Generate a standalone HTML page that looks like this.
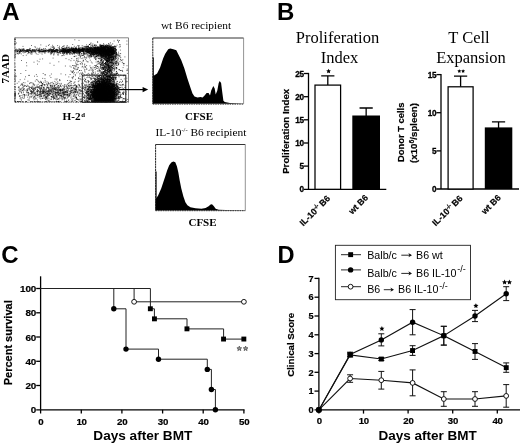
<!DOCTYPE html>
<html><head><meta charset="utf-8"><title>Figure</title>
<style>html,body{margin:0;padding:0;background:#fff}svg{display:block}text{fill:#000}</style></head>
<body><svg width="520" height="445" viewBox="0 0 520 445" style="opacity:0.999">
<defs><filter id="bl" x="-5%" y="-5%" width="110%" height="110%"><feGaussianBlur stdDeviation="0.3"/></filter></defs>
<rect width="520" height="445" fill="#fff"/>
<text x="2.2" y="20.2" font-family="'Liberation Sans', sans-serif" font-size="24" font-weight="bold" text-anchor="start" >A</text>
<text x="277" y="19.6" font-family="'Liberation Sans', sans-serif" font-size="24" font-weight="bold" text-anchor="start" >B</text>
<text x="1.3" y="262.5" font-family="'Liberation Sans', sans-serif" font-size="24" font-weight="bold" text-anchor="start" >C</text>
<text x="277.4" y="262.8" font-family="'Liberation Sans', sans-serif" font-size="23.6" font-weight="bold" text-anchor="start" >D</text>
<g filter="url(#bl)"><path d="M74.3 49.2h0M92.2 50.4h0M87.9 52.4h0M99.2 50.8h0M91.8 51.0h0M69.9 49.6h0M62.9 48.6h0M85.0 50.3h0M75.7 50.5h0M109.2 49.7h0M91.6 47.6h0M74.4 49.5h0M69.6 50.1h0M78.3 50.7h0M94.3 49.1h0M92.6 50.1h0M66.6 50.7h0M75.3 49.4h0M70.3 49.2h0M102.9 47.5h0M65.2 49.0h0M73.2 51.1h0M112.5 52.1h0M101.6 50.8h0M113.3 51.4h0M100.7 51.7h0M64.0 50.5h0M69.4 53.7h0M82.4 49.8h0M66.0 51.9h0M63.8 53.0h0M100.2 50.2h0M74.0 50.3h0M74.6 52.3h0M86.0 51.7h0M79.5 49.7h0M113.0 50.0h0M83.0 50.0h0M95.8 51.7h0M98.1 50.8h0M107.0 47.5h0M86.1 48.5h0M82.4 51.2h0M102.6 49.0h0M73.2 49.7h0M90.6 51.1h0M70.5 50.6h0M86.3 51.4h0M78.0 45.5h0M97.3 52.0h0M106.9 50.7h0M65.8 51.8h0M98.0 49.5h0M63.0 51.3h0M71.5 50.2h0M110.0 51.9h0M99.2 50.1h0M70.0 51.8h0M110.7 48.6h0M99.6 52.4h0M109.2 51.7h0M82.0 50.5h0M66.3 51.3h0M102.1 49.3h0M89.0 51.8h0M74.4 50.8h0M64.1 51.6h0M63.7 52.0h0M78.2 48.5h0M69.1 51.2h0M98.7 50.1h0M96.6 52.9h0M69.7 50.7h0M99.1 51.5h0M83.1 47.9h0M73.8 52.4h0M77.2 49.7h0M64.1 51.2h0M63.3 48.9h0M104.1 48.8h0M112.7 49.6h0M109.8 52.6h0M73.2 49.4h0M111.7 48.1h0M107.2 50.5h0M66.7 52.6h0M84.2 49.9h0M81.9 50.7h0M79.1 49.0h0M70.2 50.3h0M82.9 49.3h0M96.6 50.4h0M74.5 51.5h0M84.0 51.1h0M69.8 48.1h0M90.8 49.1h0M98.4 51.9h0M80.9 50.5h0M65.3 49.9h0M87.8 50.6h0M92.5 48.9h0M75.2 50.6h0M63.2 48.4h0M91.4 53.1h0M75.6 49.8h0M86.4 49.4h0M94.0 51.8h0M92.0 49.9h0M111.0 50.6h0M94.3 48.1h0M83.4 49.2h0M105.1 51.0h0M107.7 47.7h0M64.0 52.7h0M69.1 48.9h0M80.7 50.2h0M112.8 50.9h0M73.9 51.1h0M97.4 50.3h0M90.3 50.4h0M82.5 50.4h0M95.8 52.2h0M90.5 48.8h0M105.2 48.9h0M112.4 49.6h0M108.1 51.6h0M78.3 49.8h0M97.7 47.9h0M112.1 50.7h0M94.3 49.5h0M87.5 48.9h0M76.9 49.7h0M100.9 49.1h0M75.0 50.1h0M78.9 51.1h0M68.6 52.0h0M65.3 51.0h0M98.6 50.6h0M67.9 47.7h0M87.0 51.1h0M70.5 52.5h0M64.8 47.9h0M75.2 47.4h0M82.4 50.2h0M99.2 50.3h0M79.0 52.8h0M79.4 50.5h0M105.1 47.2h0M91.5 48.1h0M94.4 51.5h0M105.2 50.6h0M81.6 49.5h0M96.8 50.4h0M62.7 51.3h0M92.4 54.3h0M69.0 48.8h0M97.8 48.3h0M82.6 51.4h0M110.5 50.8h0M99.1 50.3h0M68.2 51.6h0M100.0 50.6h0M113.7 51.3h0M63.4 51.3h0M90.2 48.8h0M78.1 50.5h0M103.6 51.0h0M82.4 49.2h0M94.1 50.7h0M82.2 45.8h0M98.1 47.5h0M69.6 49.5h0M71.1 53.2h0M75.1 52.6h0M87.4 51.3h0M63.0 51.3h0M91.4 51.7h0M76.2 52.1h0M73.8 48.8h0M75.5 50.5h0M64.7 53.4h0M78.1 51.6h0M66.1 51.1h0M113.9 52.0h0M72.5 51.5h0M83.6 48.9h0M104.0 49.9h0M90.6 50.6h0M96.2 49.4h0M110.8 49.4h0M107.0 52.0h0M105.4 50.2h0M99.7 50.5h0M70.8 50.6h0M68.2 51.6h0M101.2 51.0h0M78.1 50.1h0M72.9 50.3h0M111.9 52.3h0M104.1 50.4h0M103.2 50.2h0M103.8 48.7h0M105.0 50.8h0M67.2 45.7h0M111.4 48.3h0M75.0 51.7h0M109.3 52.4h0M73.8 50.6h0M82.2 48.7h0M104.2 52.0h0M81.0 49.3h0M76.5 49.2h0M109.1 50.0h0M79.4 50.9h0M100.6 50.9h0M90.4 52.9h0M97.4 50.6h0M69.4 51.0h0M80.2 50.1h0M88.1 50.4h0M83.0 49.4h0M111.5 52.1h0M72.6 51.3h0M101.2 49.3h0M67.6 52.0h0M112.1 50.2h0M73.4 48.2h0M71.2 51.7h0M76.2 48.6h0M78.8 46.8h0M71.5 47.3h0M69.7 54.1h0M95.0 48.6h0M73.0 51.9h0M94.0 52.7h0M94.7 48.3h0M88.3 49.6h0M105.5 50.0h0M97.9 48.0h0M83.8 51.0h0M82.0 50.6h0M91.8 52.5h0M88.8 52.5h0M85.2 50.8h0M92.9 47.2h0M69.9 48.2h0M86.4 52.9h0M78.3 50.2h0M100.3 51.9h0M107.1 50.2h0M68.6 52.2h0M74.2 50.2h0M105.7 48.1h0M105.1 47.3h0M103.5 45.2h0M65.4 49.9h0M107.2 50.0h0M104.0 49.1h0M85.6 47.2h0M72.2 49.6h0M76.5 49.9h0M90.9 49.8h0M102.9 49.1h0M103.6 50.4h0M106.5 50.6h0M109.1 48.3h0M103.4 51.2h0M67.2 51.5h0M63.9 48.5h0M105.4 52.9h0M68.1 51.0h0M106.2 51.7h0M94.1 50.8h0M113.4 49.9h0M72.8 48.0h0M99.8 47.9h0M72.2 49.5h0M62.8 48.8h0M79.7 49.4h0M76.5 52.4h0M93.4 50.0h0M68.7 49.3h0M98.1 49.5h0M68.0 50.5h0M110.9 49.1h0M72.2 49.3h0M113.7 49.4h0M80.7 47.9h0M78.1 49.5h0M94.8 50.8h0M84.1 51.0h0M85.8 48.8h0M88.3 51.7h0M98.6 49.8h0M74.2 49.1h0M107.4 49.7h0M76.9 51.8h0M85.7 48.4h0M110.6 48.3h0M93.3 52.0h0M85.3 51.8h0M76.6 51.0h0M84.9 51.6h0M98.1 49.9h0M96.9 50.4h0M68.9 51.9h0M108.6 50.3h0M79.8 52.0h0M104.7 51.6h0M90.4 48.6h0M67.2 50.8h0M80.9 49.9h0M81.5 49.9h0M79.9 48.0h0M108.7 50.6h0M94.9 50.2h0M86.4 49.1h0M78.4 51.7h0M96.9 47.0h0M112.8 47.7h0M113.6 47.9h0M95.8 52.1h0M98.5 50.9h0M86.0 50.3h0M82.9 49.7h0M113.5 49.4h0M72.9 49.7h0M82.5 50.9h0M100.6 51.1h0M95.7 50.8h0M94.4 50.2h0M104.2 49.1h0M100.0 50.4h0M86.4 49.5h0M62.8 52.7h0M108.6 47.3h0M63.3 49.1h0M89.8 51.9h0M67.8 50.6h0M88.4 49.0h0M68.5 49.5h0M66.6 50.0h0M88.6 49.5h0M74.8 53.0h0M83.5 51.4h0M85.5 50.7h0M91.0 47.3h0M67.4 51.1h0M106.2 52.7h0M89.3 53.8h0M83.1 47.9h0M112.1 48.2h0M83.5 51.2h0M104.6 50.4h0M100.2 50.1h0M89.6 49.4h0M63.5 51.3h0M112.2 51.2h0M95.4 50.6h0M83.6 49.9h0M66.1 50.2h0M109.8 51.1h0M79.1 48.0h0M108.1 50.5h0M111.2 48.6h0M109.0 49.5h0M82.5 49.5h0M75.4 52.8h0M81.1 48.7h0M80.6 51.1h0M84.4 49.8h0M105.5 50.5h0M65.2 48.3h0M82.8 49.9h0M73.6 51.6h0M78.3 51.2h0M87.2 50.6h0M87.3 52.9h0M62.5 46.8h0M62.4 52.6h0M92.9 51.8h0M93.1 49.9h0M81.2 49.6h0M92.7 52.4h0M78.4 48.4h0M101.2 50.3h0M64.8 51.3h0M76.0 51.0h0M103.4 47.5h0M82.9 51.7h0M76.9 50.0h0M113.2 49.7h0M105.2 49.6h0M104.6 51.5h0M103.0 50.0h0M101.7 49.9h0M64.5 48.9h0M110.2 48.9h0M95.2 54.0h0M101.1 50.8h0M92.2 52.9h0M83.8 50.4h0M97.3 53.8h0M65.9 49.9h0M102.6 47.8h0M81.6 51.3h0M85.3 49.6h0M78.6 50.6h0M100.2 51.0h0M105.4 50.6h0M96.6 49.6h0M68.2 50.1h0M78.1 52.3h0M110.0 49.7h0M73.0 48.6h0M105.6 51.3h0M68.4 51.6h0M63.6 49.0h0M84.5 48.6h0M110.3 52.0h0M87.7 49.7h0M102.5 48.8h0M67.5 50.3h0M92.5 49.3h0M72.5 49.8h0M80.2 51.1h0M92.8 48.7h0M91.9 50.1h0M105.8 49.0h0M87.0 51.9h0M113.0 49.1h0M74.1 52.5h0M75.6 50.0h0M75.4 48.2h0M65.3 51.0h0M99.3 48.9h0M84.5 48.8h0M112.7 48.9h0M109.3 48.5h0M74.0 50.8h0M101.2 51.4h0M106.1 51.1h0M63.8 49.6h0M90.7 48.3h0M79.3 52.6h0M101.8 53.5h0M103.9 52.6h0M73.4 51.9h0M72.4 48.2h0M68.3 49.8h0M101.8 47.3h0M110.0 48.6h0M97.8 47.7h0M99.4 53.3h0M77.1 51.9h0M75.8 48.3h0M75.0 52.3h0M75.2 50.6h0M77.2 50.3h0M87.2 51.1h0M76.2 50.0h0M88.5 51.6h0M107.4 52.0h0M106.4 53.0h0M93.7 47.8h0M89.8 49.6h0M96.3 52.7h0M75.5 49.0h0M64.8 51.7h0M102.9 49.7h0M74.1 48.8h0M99.9 50.7h0M111.1 48.2h0M80.1 50.2h0M74.1 51.0h0M110.9 50.1h0M96.2 53.4h0M67.3 51.8h0M91.4 53.8h0M78.1 53.6h0M107.4 52.5h0M65.5 51.2h0M63.5 46.2h0M97.6 48.3h0M106.5 50.7h0M66.0 48.4h0M89.4 51.1h0M80.4 52.1h0M87.9 51.1h0M83.7 52.7h0M87.3 51.9h0M91.0 51.2h0M112.6 49.5h0M77.6 50.0h0M79.5 49.2h0M112.8 46.7h0M111.4 53.1h0M110.6 48.9h0M63.0 48.2h0M97.7 50.4h0M93.9 47.5h0M66.5 47.9h0M89.0 50.7h0M67.8 50.2h0M107.2 50.6h0M63.7 50.2h0M105.1 49.6h0M92.2 48.5h0M101.4 50.3h0M65.5 50.2h0M103.3 53.3h0M83.2 49.8h0M79.4 50.1h0M102.1 50.5h0M75.6 48.6h0M79.4 49.3h0M97.1 49.2h0M107.9 50.6h0M71.1 51.0h0M86.9 51.3h0M102.8 49.7h0M96.0 51.3h0M75.5 49.1h0M107.6 50.1h0M71.6 50.5h0M79.1 51.6h0M99.8 49.0h0M90.1 47.8h0M66.1 50.4h0M73.3 49.1h0M83.5 51.8h0M80.5 50.2h0M109.4 51.9h0M69.0 50.2h0M103.1 50.6h0M103.1 48.9h0M81.7 49.8h0M100.6 52.4h0M86.7 50.4h0M87.9 50.1h0M81.8 53.6h0M69.5 51.7h0M72.7 53.2h0M110.4 47.5h0M79.8 51.1h0M99.2 49.9h0M111.2 50.6h0M97.3 51.1h0M107.9 49.7h0M85.6 46.4h0M81.4 51.2h0M110.8 51.2h0M65.7 50.9h0M64.6 51.7h0M78.0 50.6h0M89.4 51.0h0M90.1 47.8h0M89.4 49.2h0M111.3 51.3h0M66.0 50.9h0M78.1 50.5h0M88.2 46.7h0M70.3 49.3h0M77.3 52.1h0M103.2 52.0h0M93.4 50.0h0M106.0 49.3h0M111.1 50.5h0M112.9 53.0h0M82.8 50.7h0M64.7 50.8h0M100.3 51.1h0M73.0 51.4h0M103.6 50.4h0M88.0 49.3h0M71.5 48.8h0M62.8 50.1h0M75.6 50.7h0M94.2 49.1h0M94.4 51.6h0M78.5 48.2h0M92.2 52.9h0M83.7 48.6h0M79.3 49.9h0M109.5 50.7h0M106.4 54.0h0M107.9 51.3h0M113.2 51.9h0M77.0 51.5h0M74.2 52.6h0M92.3 52.4h0M76.8 53.5h0M67.0 49.7h0M91.1 48.9h0M87.9 52.0h0M81.7 49.4h0M62.1 49.0h0M91.9 50.3h0M94.9 49.6h0M87.9 50.5h0M87.1 47.6h0M76.6 47.0h0M85.0 52.8h0M74.2 51.8h0M105.1 50.7h0M108.9 49.1h0M88.2 48.5h0M111.2 51.2h0M87.5 49.0h0M105.7 50.4h0M88.2 49.7h0M73.2 51.2h0M105.4 51.8h0M109.7 46.1h0M97.6 51.0h0M104.1 47.9h0M103.7 51.6h0M77.8 52.9h0M74.7 50.6h0M88.6 50.1h0M79.8 50.9h0M109.4 48.2h0M110.5 49.9h0M96.7 49.8h0M67.7 53.5h0M78.2 49.9h0M71.7 49.4h0M113.2 47.8h0M94.4 52.1h0M65.0 52.1h0M107.1 50.6h0M107.4 47.5h0M91.6 52.4h0M87.6 49.5h0M82.0 50.1h0M70.4 50.6h0M103.4 50.6h0M102.3 52.6h0M98.1 48.9h0M76.2 50.2h0M71.7 48.8h0M111.0 48.3h0M79.2 53.5h0M77.1 48.7h0M111.5 47.3h0M102.3 47.5h0M79.3 49.9h0M87.4 52.2h0M63.8 51.6h0M86.6 48.8h0M94.5 51.0h0M95.0 51.0h0M104.3 50.7h0M99.5 51.4h0M100.1 49.3h0M106.7 53.1h0M91.8 47.9h0M96.1 51.5h0M91.4 55.0h0M102.3 51.1h0M108.5 48.6h0M104.7 51.8h0M111.6 47.7h0M112.3 52.4h0M103.8 53.7h0M100.1 50.1h0M108.2 49.7h0M110.1 54.5h0M103.6 51.2h0M97.1 48.1h0M112.8 47.8h0M102.6 51.5h0M95.3 48.8h0M96.7 56.6h0M104.8 54.6h0M109.6 54.4h0M98.7 48.8h0M112.9 54.8h0M94.4 53.9h0M104.2 52.9h0M109.3 56.0h0M97.4 50.7h0M111.5 50.0h0M106.2 50.5h0M89.4 49.2h0M108.7 49.2h0M90.6 49.3h0M102.9 52.1h0M104.6 52.2h0M94.2 49.1h0M96.4 49.5h0M105.4 54.5h0M100.4 53.7h0M110.4 47.5h0M96.0 51.2h0M91.8 56.0h0M88.1 47.3h0M108.0 48.7h0M107.5 48.0h0M110.1 49.1h0M107.6 53.6h0M91.0 48.3h0M89.1 47.7h0M109.1 50.7h0M108.5 54.7h0M109.9 52.8h0M99.0 49.7h0M104.6 53.2h0M110.3 51.6h0M100.0 50.6h0M114.6 51.6h0M96.9 53.2h0M103.9 52.9h0M96.6 51.7h0M101.8 50.0h0M93.3 46.8h0M99.7 52.3h0M104.2 51.5h0M104.7 47.0h0M110.2 51.0h0M96.6 49.3h0M109.7 51.3h0M89.8 56.7h0M91.2 55.6h0M108.6 48.0h0M111.6 54.3h0M110.1 52.6h0M104.7 51.4h0M98.3 51.6h0M111.8 50.5h0M90.7 50.9h0M91.2 45.9h0M104.2 49.9h0M98.2 47.9h0M100.5 46.3h0M100.8 49.3h0M93.0 52.0h0M88.4 52.0h0M104.3 52.3h0M103.3 53.0h0M100.4 47.8h0M105.1 48.6h0M99.6 51.2h0M95.4 53.6h0M90.8 54.2h0M102.1 55.5h0M110.6 52.7h0M104.5 51.1h0M92.0 49.3h0M95.3 48.8h0M101.3 48.6h0M103.4 50.1h0M98.8 51.9h0M105.8 47.1h0M100.0 59.0h0M102.4 52.1h0M95.7 53.5h0M113.8 52.4h0M101.3 50.9h0M88.2 52.5h0M100.0 51.9h0M105.1 51.4h0M109.2 49.0h0M106.9 52.6h0M102.6 54.7h0M99.6 45.9h0M94.4 51.9h0M94.9 51.2h0M91.0 51.9h0M100.4 48.3h0M98.2 50.1h0M109.1 51.5h0M100.8 51.3h0M108.9 52.1h0M115.4 48.8h0M108.4 51.2h0M97.6 52.5h0M108.5 53.5h0M105.9 48.4h0M103.6 51.9h0M114.7 51.2h0M103.4 55.2h0M102.8 49.6h0M104.4 53.0h0M103.5 46.2h0M99.3 53.6h0M96.8 53.2h0M103.6 48.6h0M108.3 44.9h0M86.7 46.5h0M106.3 50.0h0M107.0 50.6h0M103.3 49.4h0M99.4 53.6h0M108.0 47.1h0M106.6 56.4h0M107.9 48.2h0M107.8 51.4h0M99.9 53.5h0M111.4 49.4h0M103.2 49.7h0M102.3 55.2h0M99.1 52.4h0M104.2 51.0h0M94.0 52.5h0M94.2 52.8h0M101.6 51.2h0M98.9 48.4h0M94.7 50.8h0M101.7 51.6h0M100.2 53.0h0M103.4 51.2h0M100.5 50.8h0M107.1 48.9h0M93.4 51.9h0M105.4 50.9h0M104.1 47.2h0M95.1 50.8h0M102.1 47.4h0M105.7 45.6h0M111.5 47.9h0M98.2 47.9h0M92.4 49.9h0M88.3 49.9h0M103.5 50.0h0M102.1 46.8h0M88.6 47.2h0M110.1 51.7h0M89.1 55.5h0M106.9 53.8h0M109.7 54.4h0M89.8 51.0h0M96.5 56.1h0M107.3 50.8h0M100.4 45.0h0M103.0 48.5h0M112.3 52.8h0M101.7 49.7h0M110.4 49.3h0M110.4 51.4h0M100.1 51.8h0M115.2 46.4h0M107.8 52.8h0M100.4 54.8h0M107.2 52.3h0M94.8 52.4h0M92.7 52.2h0M95.6 55.1h0M94.3 51.0h0M107.6 46.8h0M104.7 48.7h0M97.7 53.1h0M101.7 51.9h0M102.4 51.8h0M113.8 51.1h0M100.2 50.9h0M107.6 52.1h0M86.4 50.6h0M105.5 58.0h0M97.9 50.0h0M93.7 50.6h0M89.2 48.5h0M101.7 46.6h0M100.3 48.9h0M111.6 55.2h0M103.3 52.6h0M97.5 55.5h0M95.5 53.7h0M90.7 49.7h0M100.8 50.1h0M87.8 51.1h0M100.1 54.9h0M106.6 44.8h0M103.2 53.7h0M101.5 48.8h0M92.1 49.8h0M95.3 50.0h0M99.8 54.3h0M94.9 51.7h0M94.1 51.6h0M109.9 49.2h0M93.4 50.9h0M102.4 49.0h0M105.4 51.0h0M107.3 47.0h0M107.8 54.3h0M96.1 56.3h0M104.0 47.2h0M94.3 48.7h0M97.4 50.1h0M104.4 50.2h0M99.9 48.1h0M87.0 48.8h0M93.1 53.2h0M84.2 54.0h0M81.0 50.2h0M102.3 47.7h0M95.0 53.2h0M94.2 50.5h0M102.6 52.6h0M92.8 54.4h0M101.1 53.6h0M91.7 53.8h0M101.5 52.9h0M97.5 53.2h0M102.5 45.5h0M97.3 52.1h0M100.8 49.5h0M99.4 53.3h0M109.2 53.4h0M90.1 53.0h0M91.0 57.2h0M105.1 53.9h0M102.2 51.2h0M96.9 56.3h0M99.8 53.8h0M96.2 50.4h0M99.3 50.5h0M98.4 52.6h0M107.1 46.3h0M98.9 47.1h0M110.2 47.3h0M105.7 51.2h0M101.8 45.3h0M114.9 50.4h0M107.3 53.7h0M94.7 48.0h0M115.1 56.2h0M96.1 50.6h0M109.3 50.4h0M112.1 52.5h0M101.7 52.7h0M98.7 54.3h0M97.3 54.4h0M89.1 55.5h0M91.1 50.6h0M116.0 53.8h0M107.3 51.8h0M103.6 52.1h0M100.8 50.0h0M93.0 55.7h0M102.1 56.1h0M107.8 52.1h0M94.0 50.1h0M102.6 50.5h0M100.0 44.4h0M99.2 50.1h0M98.6 49.9h0M90.5 48.4h0M113.3 48.2h0M98.3 48.5h0M101.0 49.3h0M94.5 54.6h0M98.7 52.1h0M102.2 50.8h0M80.8 49.8h0M100.6 51.2h0M104.0 47.7h0M95.2 53.0h0M100.3 50.9h0M107.3 51.1h0M103.4 47.8h0M102.3 46.1h0M115.6 48.7h0M114.9 49.4h0M101.3 54.5h0M103.9 51.3h0M100.3 50.1h0M96.8 48.7h0M88.9 50.4h0M96.4 54.8h0M93.4 49.8h0M101.4 46.5h0M114.1 52.8h0M104.6 56.3h0M106.1 50.0h0M104.5 49.5h0M106.0 47.2h0M106.2 50.0h0M99.2 49.8h0M101.5 46.0h0M106.9 50.3h0M115.9 50.8h0M109.5 50.8h0M101.4 47.4h0M98.9 49.2h0M84.2 50.0h0M97.0 51.7h0M110.2 50.0h0M111.3 54.3h0M108.2 49.9h0M103.2 55.5h0M114.1 54.1h0M89.4 44.5h0M115.8 52.9h0M112.6 52.5h0M100.2 52.2h0M102.1 55.1h0M108.8 48.2h0M96.7 53.7h0M109.1 51.7h0M105.0 47.4h0M96.0 52.3h0M88.7 52.3h0M106.8 52.7h0M108.9 56.2h0M104.7 48.6h0M89.6 44.5h0M103.2 53.4h0M89.9 51.4h0M97.1 50.2h0M104.1 51.0h0M93.5 53.0h0M101.5 45.6h0M108.3 55.3h0M99.5 55.4h0M90.6 50.2h0M112.3 54.6h0M106.4 53.9h0M99.4 52.9h0M109.7 53.6h0M105.3 53.2h0M105.8 52.6h0M90.8 52.6h0M95.4 49.8h0M102.9 51.6h0M92.6 49.4h0M104.3 49.7h0M102.7 51.5h0M104.1 49.3h0M103.9 52.5h0M92.9 53.1h0M94.9 51.9h0M107.1 52.7h0M93.6 48.3h0M93.6 52.5h0M103.5 45.8h0M108.0 54.2h0M98.5 50.6h0M104.3 48.0h0M99.2 52.4h0M99.8 50.8h0M103.3 55.7h0M104.4 51.8h0M98.9 54.4h0M102.9 50.8h0M112.4 54.6h0M95.5 50.0h0M112.1 49.5h0M114.3 50.4h0M95.1 45.4h0M91.5 56.4h0M97.0 49.6h0M98.1 48.8h0M103.6 51.2h0M97.7 49.4h0M112.5 53.6h0M109.9 54.4h0M101.0 53.3h0M114.8 48.5h0M112.7 43.9h0M88.0 46.7h0M94.9 48.1h0M98.7 53.1h0M96.9 49.8h0M92.6 46.3h0M101.0 48.7h0M109.1 51.2h0M88.7 52.9h0M93.3 49.7h0M94.5 48.5h0M97.8 47.5h0M96.8 50.0h0M107.8 52.8h0M115.7 46.3h0M99.4 54.2h0M93.8 50.3h0M107.8 55.1h0M106.6 51.7h0M101.1 52.6h0M103.1 51.8h0M97.4 50.4h0M95.7 47.7h0M95.9 48.4h0M97.2 49.2h0M90.8 51.7h0M104.6 55.1h0M84.5 46.8h0M95.0 48.3h0M102.7 48.4h0M96.4 52.8h0M100.8 46.3h0M109.4 57.1h0M110.7 50.3h0M112.4 50.6h0M99.6 51.5h0M112.0 51.1h0M100.0 46.9h0M103.6 47.8h0M101.5 46.9h0M95.7 48.1h0M97.2 47.6h0M111.5 53.0h0M99.7 47.9h0M110.4 50.1h0M106.5 53.6h0M99.2 52.0h0M105.6 49.6h0M100.9 49.0h0M76.7 49.7h0M114.6 53.6h0M102.8 53.3h0M97.6 48.7h0M95.7 52.1h0M108.0 45.4h0M107.5 53.3h0M108.1 47.2h0M103.7 51.7h0M92.2 47.6h0M97.1 49.4h0M87.6 49.0h0M112.4 51.9h0M95.8 50.9h0M104.9 52.4h0M94.7 51.8h0M97.2 49.4h0M95.8 48.5h0M105.8 45.8h0M103.7 58.4h0M95.5 50.0h0M101.7 55.1h0M91.5 52.3h0M101.4 56.3h0M100.6 56.3h0M95.0 51.8h0M93.9 49.1h0M92.8 49.6h0M113.8 49.3h0M114.2 51.6h0M102.2 51.6h0M96.5 52.4h0M102.9 45.3h0M102.4 52.4h0M102.6 51.6h0M102.2 49.4h0M110.0 54.7h0M99.9 53.0h0M94.1 54.2h0M96.0 50.9h0M109.2 49.4h0M102.5 53.6h0M98.0 51.7h0M110.3 51.5h0M96.4 49.7h0M100.3 50.8h0M106.8 46.4h0M101.6 51.3h0M113.3 46.7h0M95.6 53.2h0M101.8 53.8h0M101.8 49.0h0M101.7 54.2h0M107.5 51.3h0M103.2 53.7h0M106.7 51.4h0M107.5 51.0h0M93.9 53.2h0M111.0 54.6h0M101.7 47.4h0M105.2 49.1h0M88.3 51.2h0M96.5 50.9h0M98.6 53.0h0M108.4 52.1h0M110.8 49.3h0M89.4 52.8h0M109.7 49.7h0M103.0 47.5h0M98.9 51.6h0M92.8 45.4h0M99.5 48.4h0M95.0 50.3h0M92.0 53.7h0M110.6 50.8h0M97.8 50.6h0M101.4 48.6h0M97.4 51.9h0M95.5 49.0h0M98.8 48.0h0M104.0 47.2h0M108.9 52.7h0M101.9 53.1h0M110.1 49.7h0M101.7 49.1h0M99.4 49.7h0M102.7 52.1h0M104.5 53.3h0M100.4 55.2h0M103.0 50.3h0M100.0 50.8h0M99.2 51.2h0M115.0 50.9h0M96.6 45.7h0M101.3 48.0h0M96.5 51.1h0M104.6 52.0h0M110.5 48.1h0M97.3 48.3h0M94.7 48.9h0M95.9 52.6h0M94.3 56.7h0M87.0 53.0h0M90.6 49.4h0M93.2 50.7h0M105.5 49.6h0M97.2 48.0h0M95.9 48.4h0M97.0 50.9h0M108.4 48.8h0M87.2 49.7h0M107.9 47.9h0M104.6 47.5h0M92.7 51.3h0M88.4 49.6h0M82.2 47.8h0M104.6 49.3h0M96.7 52.1h0M95.1 47.5h0M98.8 50.4h0M102.8 50.1h0M110.4 52.1h0M100.8 56.9h0M90.5 51.3h0M96.1 56.4h0M103.9 52.8h0M104.6 54.6h0M97.8 53.1h0M89.3 52.1h0M110.0 53.0h0M106.1 45.5h0M102.4 49.7h0M112.8 52.1h0M106.5 54.1h0M105.6 46.9h0M95.9 44.9h0M110.5 50.1h0M92.4 51.9h0M98.6 49.8h0M111.2 45.0h0M91.1 50.3h0M99.9 53.7h0M99.1 52.0h0M114.2 46.9h0M91.4 48.7h0M100.2 47.6h0M103.6 48.5h0M109.9 52.0h0M106.6 51.2h0M103.2 46.2h0M100.1 45.8h0M111.3 47.5h0M95.1 49.3h0M93.6 55.1h0M102.7 57.6h0M100.1 49.1h0M101.5 49.1h0M96.5 52.5h0M98.4 53.0h0M106.0 53.1h0M113.1 53.5h0M94.8 54.2h0M83.7 54.0h0M110.5 47.7h0M111.0 45.5h0M109.0 49.5h0M99.6 50.1h0M97.6 52.6h0M101.3 50.5h0M102.1 49.6h0M94.4 52.2h0M107.8 47.4h0M108.7 54.0h0M103.0 54.6h0M86.0 54.3h0M96.3 51.4h0M95.0 57.2h0M98.8 52.4h0M91.1 49.8h0M104.8 50.3h0M96.3 54.6h0M90.5 50.8h0M100.5 49.6h0M106.5 51.2h0M100.4 52.4h0M101.2 52.0h0M111.0 51.3h0M102.2 49.1h0M112.0 53.2h0M105.6 51.4h0M95.7 50.8h0M103.9 47.5h0M94.8 50.3h0M115.7 51.6h0M91.2 54.1h0M108.3 52.5h0M97.8 50.3h0M109.9 63.1h0M88.5 46.3h0M98.6 48.1h0M96.9 52.6h0M111.5 46.7h0M106.0 53.0h0M103.6 54.3h0M110.3 48.4h0M102.8 51.4h0M93.1 50.0h0M109.2 51.7h0M102.0 57.7h0M106.4 53.2h0M95.5 53.9h0M98.6 50.2h0M98.8 47.2h0M106.0 47.3h0M107.9 48.4h0M111.1 51.5h0M110.4 47.6h0M106.0 52.7h0M103.9 50.3h0M97.6 41.8h0M105.6 47.2h0M94.2 51.7h0M82.5 48.6h0M106.9 50.7h0M100.3 48.5h0M103.2 46.4h0M97.7 52.8h0M95.2 50.3h0M99.2 47.2h0M87.4 48.3h0M96.2 47.8h0M101.5 51.5h0M106.5 51.6h0M93.3 54.5h0M104.5 52.7h0M92.5 53.6h0M105.7 53.7h0M97.6 51.1h0M101.5 52.5h0M103.1 51.4h0M95.2 47.4h0M101.8 57.6h0M94.7 52.1h0M111.7 48.9h0M89.9 51.7h0M101.6 48.3h0M113.0 52.6h0M101.9 46.9h0M111.2 53.8h0M108.1 55.2h0M94.3 47.9h0M108.4 51.9h0M101.6 49.3h0M109.5 51.4h0M108.4 47.5h0M102.4 51.8h0M109.5 46.1h0M100.5 48.9h0M102.0 50.3h0M105.1 52.9h0M103.9 50.5h0M108.5 54.6h0M102.5 48.5h0M115.1 53.2h0M99.0 49.6h0M100.7 50.4h0M91.2 53.0h0M91.0 43.0h0M101.6 47.7h0M103.9 47.5h0M92.0 45.0h0M92.7 49.9h0M107.0 48.9h0M112.0 51.4h0M88.1 45.8h0M90.8 49.1h0M102.3 49.0h0M98.0 48.1h0M103.3 52.9h0M94.1 54.2h0M95.8 49.9h0M114.4 52.4h0M102.3 45.4h0M102.6 49.7h0M100.4 53.8h0M97.9 55.7h0M102.4 51.2h0M99.7 51.0h0M112.1 51.4h0M94.6 48.6h0M110.7 52.2h0M95.7 50.4h0M102.7 52.3h0M94.9 51.0h0M92.4 48.6h0M100.3 54.5h0M101.3 55.3h0M104.9 54.3h0M100.8 45.7h0M85.8 49.5h0M115.3 50.3h0M98.3 52.4h0M99.2 49.7h0M103.5 51.8h0M97.7 48.4h0M114.0 48.3h0M95.3 50.2h0M100.9 51.5h0M113.7 54.3h0M101.7 51.0h0M109.3 50.4h0M103.3 47.7h0M105.0 50.5h0M91.3 51.4h0M104.6 48.5h0M111.6 51.7h0M103.4 54.9h0M108.8 56.5h0M96.1 49.5h0M101.4 51.3h0M93.2 51.5h0M91.6 49.1h0M100.1 51.4h0M104.4 48.6h0M104.6 51.5h0M101.3 50.8h0M98.2 55.8h0M112.3 51.4h0M111.9 48.3h0M98.2 49.8h0M105.3 49.8h0M95.2 46.5h0M93.8 53.3h0M105.6 46.8h0M115.9 49.4h0M98.6 50.2h0M102.3 49.6h0M101.7 52.9h0M108.8 48.8h0M100.8 48.6h0M98.8 50.4h0M99.6 52.4h0M95.1 51.8h0M107.5 49.8h0M99.6 52.4h0M99.2 49.8h0M103.6 43.8h0M107.2 51.4h0M106.3 46.9h0M98.9 51.9h0M106.1 49.1h0M98.6 54.9h0M104.0 54.1h0M92.0 51.9h0M97.9 49.3h0M111.4 47.8h0M95.0 48.8h0M100.2 50.8h0M105.1 54.2h0M105.5 55.6h0M109.9 52.2h0M100.9 54.5h0M99.8 53.5h0M102.3 49.2h0M106.9 52.6h0M104.3 53.7h0M102.9 48.7h0M102.6 55.9h0M94.8 45.7h0M102.0 47.9h0M112.0 51.2h0M95.1 50.5h0M95.0 52.1h0M108.9 54.1h0M109.8 50.7h0M110.8 52.1h0M92.6 54.5h0M95.5 49.1h0M90.5 48.4h0M86.4 47.3h0M95.8 47.4h0M99.1 52.9h0M99.7 51.9h0M110.2 49.0h0M113.0 50.6h0M101.6 51.7h0M112.1 47.3h0M108.9 49.4h0M102.7 47.9h0M83.2 53.9h0M107.7 47.8h0M95.2 47.4h0M101.7 56.4h0M101.0 46.0h0M107.5 48.2h0M90.2 51.8h0M102.0 51.2h0M107.3 53.4h0M86.5 51.2h0M110.6 54.1h0M94.3 45.6h0M93.8 51.8h0M100.5 53.0h0M100.7 47.2h0M93.7 50.0h0M108.2 54.8h0M94.6 51.9h0M101.5 47.5h0M93.2 55.0h0M98.7 50.5h0M105.4 51.7h0M107.1 48.5h0M99.2 51.4h0M104.6 48.7h0M89.3 53.1h0M108.3 53.3h0M101.1 45.7h0M99.0 56.3h0M104.3 51.4h0M89.9 48.9h0M109.3 51.6h0M101.0 54.2h0M107.3 52.2h0M100.7 51.9h0M109.7 51.6h0M92.6 50.2h0M99.9 51.9h0M111.5 50.5h0M98.8 52.7h0M105.5 48.5h0M105.5 51.2h0M104.6 46.5h0M87.3 46.5h0M89.4 53.4h0M109.4 47.1h0M112.9 47.6h0M96.0 56.7h0M92.4 52.7h0M108.1 53.8h0M106.9 51.4h0M113.5 50.5h0M102.7 51.8h0M99.5 50.3h0M111.0 55.2h0M106.5 50.4h0M98.3 49.6h0M99.3 49.5h0M101.4 50.1h0M110.0 46.8h0M99.0 53.0h0M99.0 49.6h0M106.2 50.5h0M94.8 51.1h0M106.8 46.0h0M108.8 46.0h0M107.2 47.1h0M103.8 50.6h0M109.7 50.5h0M98.9 48.7h0M103.6 50.1h0M108.6 51.9h0M111.3 52.7h0M103.4 50.5h0M106.7 52.9h0M92.1 51.8h0M99.4 51.6h0M108.0 45.4h0M101.2 53.5h0M89.2 51.4h0M102.2 49.2h0M108.8 53.3h0M102.3 54.7h0M113.0 51.3h0M108.4 53.2h0M115.0 53.0h0M107.2 51.1h0M107.5 55.1h0M101.6 50.5h0M95.0 57.9h0M99.3 49.4h0M97.9 54.0h0M104.8 45.1h0M103.3 55.9h0M101.9 51.1h0M100.4 50.2h0M107.0 57.5h0M105.5 46.3h0M101.1 50.2h0M107.8 49.8h0M103.3 47.2h0M92.9 51.0h0M114.4 48.1h0M90.4 54.1h0M105.2 53.0h0M101.0 51.5h0M101.6 50.8h0M115.6 49.7h0M99.3 50.8h0M100.9 55.5h0M101.1 51.9h0M93.2 52.3h0M107.1 52.6h0M90.4 49.1h0M82.7 55.5h0M101.5 55.4h0M110.0 49.0h0M100.7 53.0h0M87.7 54.7h0M113.3 53.2h0M100.2 51.8h0M90.4 48.2h0M99.0 48.7h0M114.7 52.1h0M84.3 54.0h0M106.1 50.2h0M96.9 56.6h0M104.1 51.6h0M90.4 49.2h0M109.0 51.2h0M98.9 50.0h0M90.4 44.0h0M106.3 46.8h0M90.6 51.7h0M109.2 49.8h0M110.5 50.9h0M78.9 55.3h0M94.2 55.2h0M100.1 50.6h0M98.7 48.0h0M106.8 55.5h0M111.9 49.2h0M106.0 53.7h0M106.6 47.2h0M96.7 48.5h0M103.3 51.4h0M98.1 47.1h0M93.1 50.8h0M88.2 53.9h0M107.1 51.4h0M103.8 48.4h0M98.1 53.3h0M98.4 55.2h0M109.9 52.7h0M100.5 48.2h0M101.1 48.1h0M99.5 49.8h0M98.0 54.0h0M95.6 48.7h0M111.1 51.5h0M106.0 49.0h0M104.7 54.5h0M102.4 52.0h0M111.4 52.5h0M111.5 47.4h0M89.1 47.7h0M105.4 48.9h0M87.2 55.8h0M112.0 49.3h0M97.3 48.8h0M107.6 52.1h0M103.3 54.6h0M96.1 47.4h0M102.2 50.6h0M102.9 51.9h0M90.6 55.2h0M88.8 51.7h0M104.9 53.1h0M103.9 48.5h0M100.7 46.9h0M101.0 50.1h0M88.2 56.9h0M97.7 52.3h0M112.0 50.7h0M99.1 47.7h0M96.7 48.8h0M101.0 53.0h0M103.6 55.0h0M105.2 51.4h0M79.3 50.3h0M104.2 46.6h0M101.7 48.8h0M100.6 50.7h0M100.1 50.6h0M104.8 51.6h0M97.2 53.3h0M102.6 51.8h0M115.3 55.4h0M100.4 51.9h0M105.8 51.1h0M101.1 53.1h0M110.7 56.9h0M98.2 52.1h0M96.6 50.0h0M84.5 56.7h0M90.3 51.1h0M88.9 49.8h0M94.5 44.9h0M94.3 50.1h0M101.3 45.3h0M106.9 49.9h0M93.7 55.0h0M96.9 51.4h0M113.5 50.9h0M101.4 53.4h0M98.9 51.0h0M101.0 49.7h0M107.8 51.5h0M112.8 51.9h0M91.6 51.9h0M100.0 50.1h0M109.4 51.9h0M90.2 56.4h0M101.1 46.2h0M99.7 52.1h0M93.7 48.3h0M88.7 51.5h0M98.2 55.0h0M104.2 51.4h0M97.5 53.5h0M91.8 51.5h0M105.7 48.6h0M93.2 54.0h0M115.8 51.8h0M115.9 52.0h0M100.7 49.6h0M93.0 53.3h0M97.9 49.0h0M104.9 52.1h0M96.6 51.3h0M100.9 51.1h0M101.1 49.6h0M83.9 49.1h0M111.0 49.8h0M103.4 52.4h0M94.6 50.9h0M100.1 51.8h0M106.6 50.9h0M100.5 53.4h0M103.0 46.6h0M111.5 52.0h0M97.7 50.6h0M95.0 51.1h0M91.0 53.6h0M105.6 47.9h0M105.8 46.7h0M98.1 47.9h0M107.2 52.7h0M92.0 51.2h0M105.8 49.8h0M90.3 54.4h0M113.3 49.7h0M93.6 54.1h0M83.5 50.6h0M91.3 50.7h0M97.8 47.1h0M106.2 54.0h0M91.8 52.5h0M102.8 48.8h0M98.1 52.3h0M110.5 49.9h0M83.6 52.9h0M105.0 45.3h0M98.1 50.7h0M99.8 51.5h0M95.4 52.5h0M81.4 51.7h0M97.6 50.4h0M106.9 54.5h0M94.3 50.4h0M94.3 50.8h0M97.6 47.3h0M110.4 51.7h0M102.0 54.4h0M89.7 51.8h0M114.0 49.7h0M95.4 48.5h0M111.2 53.7h0M104.4 53.3h0M96.9 49.6h0M108.2 48.0h0M103.6 50.6h0M95.5 51.2h0M92.3 48.9h0M87.0 47.1h0M95.3 51.7h0M102.0 47.1h0M100.0 57.0h0M102.5 51.8h0M86.0 49.2h0M110.4 46.6h0M95.1 48.6h0M109.0 54.5h0M103.3 54.8h0M100.2 49.3h0M110.9 48.4h0M106.4 50.6h0M115.0 49.0h0M112.8 59.1h0M108.0 49.6h0M109.4 48.9h0M108.1 48.7h0M104.1 46.9h0M112.6 50.0h0M105.3 56.0h0M108.7 51.2h0M106.7 52.3h0M108.2 50.9h0M108.7 55.0h0M108.6 56.8h0M112.8 48.8h0M105.9 47.9h0M106.6 54.8h0M108.1 50.6h0M109.7 44.8h0M110.4 51.7h0M111.7 51.3h0M112.8 55.9h0M108.2 54.3h0M106.1 49.9h0M105.4 51.6h0M105.0 48.6h0M108.5 47.3h0M111.3 49.1h0M108.4 51.2h0M112.8 54.3h0M108.4 50.2h0M112.3 51.8h0M105.6 52.7h0M111.5 52.1h0M109.5 57.3h0M107.4 54.9h0M114.8 58.1h0M105.2 54.1h0M109.7 60.5h0M113.8 55.7h0M113.4 54.2h0M105.6 59.9h0M103.3 54.9h0M112.0 53.0h0M112.9 52.2h0M112.1 53.1h0M106.7 55.7h0M107.3 54.5h0M105.6 53.1h0M111.2 56.2h0M105.5 50.4h0M109.3 48.8h0M111.4 60.4h0M111.7 54.5h0M106.4 54.2h0M111.2 59.0h0M108.1 56.5h0M108.1 51.4h0M107.8 53.3h0M104.0 51.1h0M114.5 46.1h0M112.4 55.0h0M107.8 49.7h0M113.3 51.1h0M110.4 51.6h0M105.4 55.9h0M111.6 49.1h0M113.2 48.0h0M104.8 55.3h0M107.8 52.3h0M114.9 48.6h0M111.5 50.9h0M109.7 51.6h0M106.5 52.5h0M106.1 52.4h0M105.9 51.4h0M109.8 47.5h0M109.1 54.7h0M109.7 55.5h0M105.8 54.3h0M110.4 42.9h0M109.3 55.3h0M109.1 52.5h0M108.9 51.8h0M105.6 50.0h0M101.6 59.5h0M109.3 53.1h0M111.5 54.1h0M109.1 46.9h0M105.1 58.1h0M110.8 54.6h0M105.6 50.7h0M110.3 49.7h0M113.5 49.7h0M107.8 48.4h0M110.6 56.8h0M110.1 52.3h0M108.0 55.1h0M109.3 58.3h0M108.4 51.0h0M107.5 45.8h0M110.1 52.8h0M103.7 48.3h0M105.5 51.2h0M105.7 54.9h0M113.5 50.1h0M109.4 48.7h0M114.0 48.6h0M106.5 52.3h0M106.5 61.5h0M108.6 51.5h0M105.8 52.0h0M107.2 50.9h0M112.8 50.3h0M110.8 50.2h0M112.8 49.7h0M105.9 51.5h0M113.7 50.9h0M106.3 51.8h0M106.8 53.2h0M106.9 53.4h0M112.5 54.0h0M114.6 53.4h0M115.8 56.6h0M108.4 55.0h0M106.7 51.6h0M109.0 49.6h0M110.4 52.0h0M116.3 54.9h0M108.5 50.0h0M107.4 50.0h0M106.7 52.4h0M104.6 51.3h0M111.0 50.3h0M105.4 50.6h0M112.3 49.7h0M114.7 46.7h0M106.5 54.4h0M114.0 51.6h0M103.5 51.4h0M106.1 50.0h0M108.0 50.3h0M109.2 52.8h0M108.3 46.3h0M108.7 43.5h0M109.6 50.9h0M106.1 59.4h0M115.1 56.9h0M110.1 50.7h0M110.9 57.8h0M109.0 51.8h0M107.3 52.1h0M112.2 49.2h0M113.0 52.8h0M116.5 53.0h0M113.7 49.0h0M116.5 52.6h0M109.1 57.4h0M109.9 48.2h0M111.5 54.2h0M109.3 50.8h0M103.7 58.0h0M107.8 53.6h0M107.6 49.9h0M110.3 49.4h0M112.6 46.9h0M111.4 56.3h0M107.8 53.1h0M112.2 50.9h0M108.6 51.7h0M116.5 49.6h0M108.8 50.9h0M107.5 49.2h0M107.1 52.9h0M113.4 57.9h0M104.9 49.1h0M109.3 49.1h0M106.7 51.6h0M107.4 49.5h0M110.1 49.7h0M108.4 53.5h0M111.9 53.1h0M113.2 52.9h0M104.2 57.3h0M116.5 55.1h0M115.0 56.1h0M107.8 54.5h0M107.0 50.5h0M111.3 52.7h0M107.1 47.6h0M112.2 52.4h0M109.9 49.4h0M106.7 52.2h0M102.9 56.5h0M109.5 56.1h0M112.7 50.5h0M111.2 48.6h0M106.2 56.9h0M107.5 49.8h0M111.0 52.5h0M112.8 48.1h0M108.5 48.8h0M109.5 51.5h0M106.1 46.5h0M104.7 55.5h0M108.1 48.7h0M110.0 48.6h0M112.6 55.3h0M109.5 50.5h0M103.1 54.0h0M116.5 53.1h0M107.5 55.1h0M108.1 48.3h0M109.0 54.4h0M103.0 55.9h0M115.1 52.3h0M107.7 47.6h0M111.3 51.5h0M113.6 57.7h0M113.7 53.0h0M103.1 56.9h0M107.7 50.8h0M113.1 54.0h0M105.8 51.3h0M108.4 51.9h0M105.3 57.4h0M109.0 54.6h0M113.1 59.7h0M111.9 50.0h0M107.9 55.4h0M115.2 47.5h0M116.1 50.5h0M108.8 51.0h0M111.5 51.8h0M109.3 49.3h0M114.5 53.6h0M109.3 59.6h0M111.7 57.1h0M108.5 52.9h0M108.9 55.4h0M110.4 46.7h0M111.4 51.7h0M110.3 55.7h0M108.5 54.6h0M109.5 52.1h0M107.7 52.1h0M108.4 55.1h0M101.5 54.4h0M109.2 48.9h0M112.2 52.3h0M111.4 57.0h0M110.2 47.1h0M103.9 52.3h0M105.3 59.7h0M109.1 46.4h0M101.9 50.6h0M101.1 54.1h0M101.4 55.4h0M107.8 56.2h0M105.4 50.9h0M113.3 47.0h0M111.8 57.3h0M106.0 51.9h0M115.2 57.5h0M115.1 52.1h0M108.2 51.9h0M108.2 55.2h0M112.4 54.2h0M107.1 55.1h0M111.2 53.3h0M113.7 51.2h0M109.9 56.2h0M106.9 55.5h0M112.1 57.5h0M114.0 50.5h0M115.7 50.9h0M105.4 51.5h0M108.3 49.5h0M112.9 54.2h0M111.6 47.8h0M115.8 54.1h0M113.6 53.7h0M110.8 55.1h0M110.1 57.2h0M107.7 45.7h0M108.3 52.5h0M110.9 52.8h0M111.0 54.0h0M108.9 54.4h0M111.5 49.9h0M103.4 53.3h0M111.2 56.1h0M113.4 53.5h0M113.6 50.6h0M107.9 57.1h0M105.4 52.4h0M103.6 77.0h0M102.8 79.4h0M116.4 71.4h0M106.3 74.6h0M109.4 75.8h0M111.2 64.8h0M115.8 56.6h0M109.3 60.4h0M110.9 75.3h0M106.9 60.2h0M109.5 68.2h0M104.0 71.5h0M107.7 71.1h0M105.2 57.5h0M108.6 57.1h0M116.3 64.2h0M112.9 57.7h0M112.3 62.7h0M113.3 66.5h0M107.6 53.9h0M108.1 69.7h0M110.5 57.2h0M109.4 73.0h0M110.6 70.6h0M107.3 60.5h0M112.2 67.8h0M106.1 57.1h0M107.3 69.9h0M107.0 57.7h0M115.0 55.6h0M116.5 67.5h0M112.2 53.5h0M104.3 58.9h0M113.4 75.5h0M113.9 68.5h0M108.5 58.1h0M114.1 56.5h0M107.8 73.4h0M115.2 75.5h0M109.5 70.2h0M110.0 75.4h0M108.5 75.9h0M107.0 75.0h0M118.8 55.9h0M108.9 61.8h0M107.8 58.6h0M109.6 54.2h0M113.5 79.1h0M110.0 62.5h0M115.0 77.8h0M103.3 73.5h0M106.3 68.2h0M105.6 74.6h0M109.2 70.0h0M94.9 65.5h0M111.4 73.0h0M110.5 70.0h0M112.0 60.0h0M122.3 70.4h0M108.0 72.4h0M107.3 76.2h0M116.1 65.4h0M102.2 59.7h0M105.6 54.2h0M110.6 70.2h0M113.4 76.1h0M108.0 64.3h0M111.1 57.4h0M108.0 71.5h0M113.6 55.8h0M110.7 67.1h0M112.9 57.8h0M105.1 79.0h0M103.3 78.8h0M106.9 67.1h0M106.9 60.3h0M108.0 71.7h0M110.1 70.7h0M107.8 79.8h0M111.6 67.9h0M107.2 78.4h0M105.0 72.4h0M106.1 64.8h0M108.2 53.7h0M110.3 56.0h0M116.1 58.5h0M101.7 57.4h0M118.4 64.2h0M106.9 68.2h0M108.0 54.9h0M106.6 79.9h0M112.0 64.8h0M107.0 61.1h0M112.2 57.4h0M105.5 62.5h0M114.8 59.2h0M116.2 61.1h0M110.2 60.3h0M115.3 67.9h0M98.4 54.9h0M112.3 53.5h0M101.6 60.8h0M111.0 57.8h0M103.8 79.6h0M109.0 71.7h0M111.1 79.6h0M108.1 53.6h0M107.4 58.8h0M102.4 56.1h0M98.3 71.0h0M107.8 77.4h0M107.3 61.5h0M102.6 67.7h0M114.1 69.9h0M114.3 57.0h0M110.6 75.2h0M109.3 70.4h0M101.7 79.4h0M111.8 62.7h0M101.9 53.3h0M110.0 54.2h0M108.3 69.1h0M113.3 58.6h0M108.1 53.5h0M110.6 62.4h0M112.0 60.3h0M121.1 79.4h0M96.1 58.3h0M107.4 65.5h0M105.7 66.5h0M105.1 58.9h0M115.7 74.7h0M108.9 55.1h0M101.9 56.3h0M112.3 59.5h0M97.4 71.0h0M108.8 56.7h0M99.0 58.5h0M114.8 62.7h0M111.0 71.8h0M111.6 60.4h0M113.9 64.8h0M98.8 58.2h0M102.2 74.1h0M111.0 71.8h0M109.2 55.2h0M113.5 58.9h0M100.2 72.1h0M100.8 66.4h0M98.1 62.9h0M110.9 77.7h0M105.8 62.8h0M101.0 73.4h0M113.1 58.0h0M100.8 63.8h0M96.7 68.1h0M104.2 63.5h0M102.2 63.3h0M111.2 61.9h0M114.1 74.2h0M115.8 57.3h0M110.4 76.5h0M110.2 55.7h0M104.4 58.7h0M111.7 74.8h0M120.6 53.6h0M114.2 65.3h0M108.6 67.9h0M113.1 56.6h0M100.9 79.2h0M103.3 57.1h0M109.6 59.4h0M109.8 67.7h0M111.7 60.0h0M108.0 54.9h0M110.5 77.6h0M103.6 56.5h0M110.2 79.6h0M116.3 54.2h0M108.9 60.8h0M103.2 72.0h0M108.7 68.4h0M107.8 60.9h0M106.7 60.4h0M103.5 55.9h0M108.9 56.5h0M109.7 70.5h0M108.9 79.0h0M105.8 69.5h0M106.6 66.4h0M106.6 60.1h0M116.4 61.3h0M111.6 77.9h0M109.3 65.9h0M107.6 60.2h0M103.0 62.6h0M104.4 66.9h0M108.1 53.7h0M106.6 65.9h0M109.8 67.3h0M116.2 77.1h0M103.3 65.0h0M105.8 56.2h0M116.9 63.3h0M116.1 73.1h0M111.5 78.0h0M111.7 71.8h0M116.4 67.7h0M100.5 65.8h0M111.2 78.5h0M112.2 67.5h0M106.3 64.6h0M115.6 63.8h0M103.1 62.9h0M105.5 71.0h0M114.5 69.8h0M101.5 53.2h0M107.4 65.9h0M105.7 75.0h0M101.3 59.1h0M119.2 69.8h0M102.9 75.2h0M109.3 58.9h0M111.1 67.4h0M111.6 78.2h0M105.6 75.4h0M109.4 79.9h0M108.6 66.5h0M109.9 61.2h0M99.3 53.4h0M115.4 63.8h0M100.4 70.8h0M119.2 69.5h0M109.1 79.4h0M106.7 57.8h0M104.3 66.9h0M112.0 67.6h0M104.0 58.9h0M110.3 61.2h0M111.0 65.7h0M111.7 59.2h0M107.0 73.0h0M111.4 61.1h0M107.0 64.2h0M110.2 67.9h0M109.1 59.6h0M109.2 66.0h0M116.6 68.2h0M104.1 77.9h0M102.0 79.2h0M114.1 53.7h0M113.2 56.2h0M108.2 57.1h0M110.7 59.3h0M111.4 66.5h0M100.8 67.8h0M108.2 55.1h0M102.2 65.4h0M109.8 79.4h0M113.3 58.3h0M105.6 70.8h0M113.8 61.3h0M104.0 78.1h0M111.6 54.3h0M112.8 77.7h0M104.6 63.5h0M107.7 59.0h0M107.5 70.5h0M105.6 79.5h0M113.2 68.1h0M105.4 59.8h0M103.1 79.6h0M107.6 64.5h0M109.0 64.2h0M109.6 55.0h0M113.0 78.4h0M104.6 67.8h0M107.8 69.0h0M101.9 65.3h0M113.7 77.9h0M109.0 57.4h0M101.3 72.0h0M116.7 54.2h0M107.2 60.7h0M115.1 76.9h0M108.4 71.5h0M105.3 72.7h0M103.4 67.8h0M109.1 65.7h0M105.7 70.0h0M113.7 77.7h0M110.8 55.4h0M107.6 77.0h0M101.0 79.1h0M104.3 65.8h0M103.6 64.9h0M104.9 74.6h0M105.8 67.8h0M103.2 72.1h0M110.5 75.6h0M111.2 59.6h0M101.7 53.0h0M109.7 66.7h0M109.6 55.1h0M100.7 64.9h0M109.6 76.6h0M104.9 60.2h0M112.4 56.5h0M106.2 57.0h0M107.2 60.8h0M106.5 58.9h0M95.6 59.5h0M114.3 74.5h0M107.1 80.0h0M106.4 79.5h0M105.4 77.1h0M120.4 70.5h0M108.5 59.3h0M104.5 73.9h0M108.9 63.8h0M116.6 61.9h0M113.3 57.7h0M107.5 69.3h0M106.0 65.0h0M116.6 71.7h0M116.2 54.5h0M113.6 75.2h0M104.4 73.8h0M110.2 57.7h0M111.8 74.9h0M114.0 71.0h0M106.4 79.4h0M103.4 60.6h0M107.7 79.6h0M110.5 76.0h0M110.4 53.7h0M110.1 59.4h0M113.6 63.4h0M115.1 55.0h0M109.4 60.8h0M114.0 58.9h0M112.5 68.0h0M114.1 62.2h0M109.5 77.5h0M109.6 76.5h0M111.9 54.6h0M103.0 60.9h0M108.6 57.5h0M107.2 53.3h0M108.3 60.7h0M105.7 72.2h0M110.8 64.2h0M103.5 72.2h0M104.4 78.2h0M101.7 68.0h0M105.6 55.1h0M111.1 54.1h0M103.4 73.1h0M97.1 64.3h0M108.2 65.7h0M116.7 73.8h0M101.9 65.0h0M101.5 77.2h0M111.4 65.4h0M106.6 67.9h0M102.7 58.8h0M107.6 79.6h0M111.8 53.7h0M108.9 75.0h0M111.3 71.1h0M107.5 71.2h0M110.3 73.2h0M103.7 69.2h0M102.6 53.8h0M110.9 57.5h0M99.4 63.3h0M120.8 75.1h0M107.0 75.8h0M113.5 75.2h0M116.1 58.4h0M115.5 77.7h0M103.9 77.2h0M110.6 74.8h0M109.8 57.7h0M103.6 75.4h0M114.9 63.8h0M102.2 79.9h0M112.0 70.0h0M106.4 58.1h0M111.1 69.5h0M107.7 73.1h0M105.1 69.3h0M103.3 64.1h0M105.8 53.4h0M101.7 77.0h0M106.7 79.3h0M106.7 76.2h0M106.1 64.2h0M119.1 55.4h0M105.8 54.4h0M114.9 66.3h0M110.4 69.8h0M105.5 55.6h0M113.8 58.6h0M108.0 56.1h0M105.0 70.5h0M119.0 76.8h0M107.2 72.3h0M111.0 68.7h0M108.4 67.4h0M108.9 69.9h0M107.3 54.9h0M108.4 66.1h0M106.3 73.8h0M116.5 74.1h0M107.5 61.1h0M104.6 66.4h0M103.9 69.1h0M104.1 73.6h0M109.8 70.5h0M118.7 74.6h0M106.7 56.0h0M102.9 74.3h0M108.2 77.6h0M108.5 76.5h0M108.9 79.4h0M105.0 63.4h0M113.6 63.4h0M103.7 77.3h0M102.9 62.9h0M103.3 79.6h0M108.5 67.0h0M118.8 53.8h0M102.3 73.8h0M112.4 70.0h0M111.8 55.1h0M102.1 62.4h0M105.0 67.6h0M106.2 59.9h0M109.9 78.4h0M104.6 74.7h0M104.0 75.6h0M108.5 67.6h0M103.6 61.7h0M117.9 55.2h0M112.4 63.0h0M110.7 77.6h0M105.1 53.6h0M111.2 70.2h0M112.4 74.4h0M115.1 58.0h0M103.1 79.8h0M113.2 62.4h0M109.8 53.6h0M112.5 79.2h0M122.3 62.3h0M115.8 53.9h0M108.3 69.3h0M109.3 72.4h0M111.9 58.6h0M108.0 61.7h0M108.7 61.2h0M109.9 64.0h0M109.7 55.2h0M111.6 62.9h0M106.9 54.7h0M109.4 55.1h0M105.5 63.0h0M117.1 65.6h0M102.9 68.7h0M117.2 73.4h0M112.7 59.6h0M109.8 66.0h0M106.0 60.7h0M105.1 67.7h0M106.9 59.9h0M110.5 74.3h0M108.5 65.1h0M101.6 59.9h0M107.8 58.1h0M101.9 72.8h0M112.5 65.4h0M105.5 78.6h0M106.1 70.3h0M109.8 68.6h0M104.1 72.2h0M100.7 60.3h0M106.7 74.2h0M106.0 56.9h0M113.3 63.9h0M109.2 58.1h0M107.6 67.6h0M104.5 71.5h0M102.4 72.4h0M106.2 67.7h0M106.7 60.6h0M113.8 79.3h0M108.5 65.6h0M108.7 54.0h0M101.9 67.8h0M115.0 61.0h0M107.8 77.4h0M103.1 75.9h0M99.0 68.8h0M102.8 61.6h0M109.4 76.0h0M117.9 62.2h0M118.3 64.9h0M105.2 69.4h0M105.8 54.5h0M109.8 76.6h0M106.7 76.2h0M110.1 58.0h0M100.8 68.3h0M115.3 74.3h0M111.2 58.7h0M106.4 71.0h0M109.0 71.8h0M114.2 76.7h0M110.6 57.8h0M111.4 53.4h0M106.3 55.3h0M108.4 76.2h0M105.3 64.8h0M115.6 61.8h0M112.5 56.5h0M112.2 65.5h0M108.4 66.4h0M106.7 53.1h0M107.4 77.0h0M101.7 77.2h0M111.7 69.0h0M108.1 58.7h0M105.1 66.9h0M120.5 59.3h0M107.2 70.1h0M107.2 60.6h0M112.5 79.9h0M104.5 55.3h0M111.7 75.9h0M115.7 59.5h0M112.7 59.4h0M112.4 78.8h0M109.4 62.8h0M104.6 59.2h0M114.9 73.4h0M117.2 54.1h0M106.4 74.1h0M110.3 68.6h0M100.4 55.9h0M105.6 66.1h0M102.9 73.7h0M110.1 70.1h0M112.4 77.2h0M117.9 60.1h0M107.7 64.4h0M103.3 55.1h0M107.5 62.9h0M112.4 76.7h0M106.4 77.1h0M98.1 79.4h0M107.4 53.3h0M98.7 61.4h0M102.1 62.8h0M113.8 68.2h0M116.1 69.0h0M100.2 67.0h0M102.7 67.8h0M104.4 79.2h0M109.7 70.5h0M106.3 70.3h0M108.4 54.2h0M105.2 63.6h0M108.9 59.0h0M109.1 56.2h0M113.2 59.8h0M107.9 75.9h0M106.2 64.1h0M110.2 63.2h0M116.0 62.9h0M111.2 78.3h0M108.3 66.3h0M102.7 55.4h0M110.7 57.1h0M112.5 61.6h0M103.4 76.3h0M107.0 74.2h0M113.1 76.0h0M105.8 58.7h0M121.1 60.2h0M102.4 67.6h0M107.8 65.6h0M108.9 64.7h0M104.9 71.2h0M111.0 62.6h0M106.1 65.7h0M107.7 78.4h0M113.8 59.3h0M113.0 66.2h0M99.9 62.5h0M112.6 75.8h0M112.2 63.3h0M108.0 57.2h0M116.9 68.2h0M108.9 60.9h0M102.8 69.2h0M104.8 74.5h0M114.2 74.7h0M108.7 60.3h0M106.0 71.0h0M101.9 64.9h0M101.0 54.6h0M109.6 67.5h0M109.0 61.7h0M118.1 54.8h0M110.6 62.4h0M109.4 58.9h0M101.4 79.0h0M100.2 64.4h0M111.1 70.5h0M109.8 68.3h0M107.9 68.9h0M114.4 60.1h0M107.0 56.7h0M105.7 62.5h0M107.4 78.9h0M109.6 71.1h0M111.1 66.6h0M111.7 73.5h0M106.1 64.2h0M118.6 58.2h0M107.9 63.0h0M103.2 69.0h0M109.1 71.7h0M112.2 75.2h0M113.7 64.1h0M107.9 69.4h0M111.8 56.3h0M109.2 71.6h0M112.1 73.0h0M105.8 62.6h0M107.6 54.6h0M113.4 75.6h0M108.2 59.6h0M107.9 63.5h0M110.8 71.5h0M104.4 56.5h0M107.0 60.4h0M108.7 79.8h0M105.5 75.6h0M108.5 75.3h0M108.6 54.2h0M105.7 64.1h0M103.5 68.7h0M115.9 75.7h0M109.1 54.0h0M106.6 58.3h0M116.9 56.9h0M113.0 79.7h0M95.2 58.2h0M108.7 56.2h0M108.8 61.9h0M115.8 57.9h0M106.4 63.7h0M105.7 54.6h0M107.5 58.2h0M107.9 79.3h0M109.5 79.3h0M103.5 68.0h0M109.2 75.5h0M99.5 78.8h0M113.8 60.5h0M98.2 61.2h0M102.9 79.8h0M101.4 55.6h0M108.3 63.7h0M106.6 79.2h0M105.7 63.7h0M101.0 61.4h0M105.0 72.0h0M107.4 61.6h0M100.4 62.2h0M104.0 65.8h0M105.8 68.3h0M108.4 58.7h0M105.7 56.4h0M105.2 78.1h0M107.9 58.6h0M100.9 60.6h0M110.8 55.2h0M109.1 62.4h0M115.4 78.5h0M110.5 66.4h0M111.5 62.0h0M107.7 66.7h0M110.4 73.2h0M99.3 69.8h0M118.0 62.8h0M105.8 55.6h0M111.1 65.7h0M100.3 55.1h0M106.5 53.8h0M111.9 72.6h0M105.9 76.7h0M107.8 74.1h0M111.1 61.2h0M108.1 68.7h0M108.3 64.9h0M109.1 78.0h0M111.2 77.3h0M106.8 62.2h0M112.0 62.3h0M99.6 53.4h0M116.1 62.8h0M102.3 62.0h0M106.4 72.5h0M105.9 77.6h0M109.4 58.6h0M105.3 57.6h0M98.1 73.4h0M109.0 77.7h0M104.1 56.7h0M95.6 67.2h0M106.8 76.7h0M102.9 66.1h0M112.2 72.2h0M107.6 73.5h0M101.0 58.8h0M103.6 73.1h0M101.6 57.8h0M107.5 79.2h0M108.1 70.5h0M108.5 61.4h0M114.5 68.0h0M110.4 79.5h0M99.5 70.8h0M102.9 57.1h0M107.0 53.9h0M117.8 75.4h0M100.3 58.1h0M106.2 61.7h0M106.1 74.4h0M109.0 74.0h0M108.0 72.2h0M107.5 62.5h0M105.8 73.1h0M109.1 65.9h0M111.0 57.6h0M108.1 58.7h0M111.0 55.8h0M104.7 56.8h0M110.5 57.8h0M106.9 61.0h0M109.3 54.2h0M108.1 65.7h0M106.0 56.7h0M103.2 72.0h0M97.0 55.3h0M109.2 76.9h0M110.9 55.3h0M108.9 75.5h0M100.4 64.5h0M104.6 70.6h0M110.4 66.1h0M106.9 75.8h0M103.6 69.2h0M107.7 59.3h0M113.1 77.7h0M112.8 64.6h0M109.7 69.4h0M113.8 56.6h0M112.4 60.5h0M107.6 80.0h0M110.0 54.6h0M114.0 78.1h0M104.3 69.0h0M103.5 67.8h0M106.8 61.9h0M111.0 74.4h0M113.8 79.4h0M113.5 58.5h0M104.9 68.1h0M113.1 73.4h0M116.1 63.2h0M104.0 64.8h0M117.0 55.1h0M105.9 56.2h0M104.1 76.1h0M109.0 67.3h0M111.2 59.7h0M105.8 78.1h0M112.7 68.9h0M100.4 78.0h0M111.9 77.8h0M116.5 73.9h0M109.6 72.2h0M107.3 58.6h0M101.6 78.1h0M109.2 67.4h0M105.0 58.1h0M102.8 97.9h0M102.3 87.9h0M105.2 88.2h0M95.2 91.1h0M105.6 91.8h0M108.0 99.2h0M100.6 99.6h0M107.0 97.1h0M100.5 98.3h0M104.4 99.6h0M102.9 91.3h0M95.5 94.2h0M113.2 96.1h0M103.5 89.7h0M105.3 95.4h0M104.4 93.2h0M97.7 89.2h0M100.1 88.6h0M97.6 96.7h0M103.4 91.6h0M102.6 101.9h0M96.9 99.0h0M113.1 95.7h0M106.9 97.7h0M92.8 100.9h0M107.6 100.1h0M104.9 87.3h0M99.8 70.8h0M104.6 89.9h0M100.2 101.7h0M103.3 76.5h0M108.7 85.4h0M96.7 88.1h0M110.0 86.2h0M105.1 98.5h0M114.6 80.6h0M96.7 90.8h0M104.0 97.7h0M107.5 88.5h0M99.9 95.5h0M110.6 90.0h0M106.8 89.7h0M96.9 95.4h0M104.2 95.2h0M99.1 91.1h0M108.3 85.4h0M99.8 87.2h0M101.2 90.2h0M101.3 95.0h0M100.6 88.5h0M104.4 90.2h0M110.4 94.9h0M105.5 93.7h0M105.7 86.2h0M103.1 93.5h0M102.0 95.7h0M118.5 88.3h0M101.6 86.1h0M103.7 91.1h0M108.6 93.9h0M102.6 94.9h0M114.1 101.6h0M105.4 101.6h0M102.0 84.3h0M95.6 98.0h0M105.1 90.8h0M98.0 100.0h0M100.8 86.7h0M107.3 95.4h0M100.1 91.1h0M99.2 92.3h0M111.4 92.5h0M107.2 90.1h0M104.5 81.8h0M96.3 90.5h0M107.6 95.4h0M104.7 96.1h0M101.4 94.0h0M100.2 94.6h0M110.9 93.7h0M100.7 91.8h0M93.2 100.6h0M108.0 97.2h0M103.5 99.0h0M117.7 101.3h0M102.9 95.6h0M100.6 93.7h0M104.1 90.1h0M109.7 96.9h0M96.7 89.8h0M102.9 92.5h0M111.4 88.0h0M103.3 93.8h0M102.4 98.7h0M106.5 91.1h0M100.4 97.1h0M103.0 91.3h0M94.5 96.8h0M100.8 98.0h0M99.8 94.2h0M101.9 82.9h0M103.5 96.5h0M102.7 95.2h0M111.1 81.6h0M97.8 90.2h0M99.0 91.3h0M96.1 92.3h0M105.9 90.1h0M106.8 100.0h0M107.7 96.2h0M92.7 93.7h0M89.8 84.6h0M106.7 76.4h0M106.9 90.6h0M102.9 88.0h0M106.6 86.2h0M103.4 94.1h0M109.2 83.4h0M108.4 84.1h0M106.2 96.9h0M99.5 93.1h0M106.0 92.5h0M102.6 94.1h0M106.6 93.5h0M113.0 101.3h0M104.4 91.9h0M91.8 87.4h0M115.1 94.1h0M110.0 81.8h0M96.5 100.5h0M109.5 85.2h0M94.8 87.5h0M103.9 80.0h0M112.4 87.3h0M105.2 99.9h0M102.8 94.5h0M109.5 93.4h0M100.7 94.2h0M91.1 91.1h0M105.7 88.1h0M95.5 98.7h0M105.5 99.7h0M103.5 96.8h0M103.3 88.0h0M108.2 99.5h0M106.5 89.7h0M108.5 86.8h0M118.1 101.9h0M103.0 92.3h0M105.6 93.3h0M95.5 85.9h0M97.1 81.8h0M105.7 91.7h0M113.1 101.4h0M108.4 92.8h0M103.7 90.1h0M100.5 94.3h0M101.2 92.0h0M102.2 95.1h0M110.7 93.3h0M101.3 98.4h0M104.6 87.2h0M101.9 93.7h0M99.3 99.9h0M105.3 90.9h0M109.7 96.9h0M103.6 96.3h0M108.1 99.1h0M99.5 96.7h0M102.8 92.5h0M101.6 101.7h0M100.1 100.5h0M109.5 92.1h0M103.9 101.7h0M113.5 93.8h0M102.5 96.8h0M107.4 92.1h0M108.2 97.7h0M103.7 88.4h0M107.5 80.2h0M98.1 82.8h0M101.4 93.1h0M101.5 90.1h0M107.4 81.8h0M95.1 96.6h0M110.0 97.0h0M96.8 82.4h0M106.5 96.3h0M103.8 85.7h0M89.6 99.8h0M113.2 100.1h0M106.4 97.6h0M102.3 92.8h0M103.7 89.0h0M105.4 86.2h0M111.6 88.9h0M108.2 98.3h0M108.7 97.4h0M109.3 86.7h0M103.8 92.4h0M97.7 95.1h0M101.6 81.3h0M114.0 95.1h0M102.6 95.9h0M98.4 89.1h0M112.7 91.7h0M94.1 96.7h0M108.3 89.6h0M108.3 86.4h0M100.9 91.9h0M102.3 85.9h0M102.3 87.5h0M107.3 95.7h0M100.7 92.5h0M100.8 100.3h0M106.0 98.6h0M92.0 98.9h0M102.8 91.6h0M95.7 101.9h0M111.8 94.5h0M102.5 89.7h0M107.9 95.0h0M106.2 96.3h0M103.0 92.7h0M99.0 91.0h0M100.5 100.1h0M109.3 90.3h0M99.1 83.2h0M108.0 99.0h0M112.2 96.3h0M105.6 92.4h0M96.6 98.7h0M101.5 94.1h0M99.2 97.7h0M94.2 86.4h0M109.2 98.3h0M98.1 96.0h0M105.4 101.1h0M109.3 101.0h0M103.5 98.9h0M109.2 83.6h0M95.6 93.6h0M99.2 100.7h0M97.8 97.8h0M108.5 99.1h0M107.8 97.2h0M106.5 96.5h0M101.3 94.5h0M98.4 88.0h0M103.8 88.7h0M100.1 90.1h0M97.2 77.0h0M104.5 89.9h0M109.5 96.9h0M95.9 93.9h0M103.6 88.7h0M106.3 85.0h0M103.4 99.1h0M93.1 98.2h0M108.0 88.9h0M97.1 93.2h0M103.3 93.1h0M101.6 87.1h0M93.5 89.7h0M108.3 99.3h0M107.2 93.1h0M100.1 91.1h0M104.2 85.4h0M105.2 97.2h0M100.0 100.2h0M107.1 79.9h0M101.1 93.6h0M90.8 98.4h0M108.4 97.8h0M103.7 96.4h0M105.9 101.7h0M94.1 100.3h0M104.4 93.8h0M99.6 94.7h0M100.2 97.8h0M103.5 89.6h0M107.0 94.0h0M105.7 97.3h0M106.4 86.8h0M108.4 93.8h0M104.4 95.7h0M90.7 99.1h0M111.1 90.9h0M103.9 100.7h0M104.6 101.2h0M103.5 92.9h0M99.6 93.9h0M96.3 86.8h0M103.8 88.6h0M104.0 93.9h0M102.4 98.0h0M100.8 87.8h0M101.8 93.2h0M110.4 101.0h0M96.1 82.9h0M96.6 98.0h0M93.3 100.2h0M101.5 101.6h0M104.5 88.5h0M101.0 95.7h0M109.5 92.7h0M100.1 95.2h0M99.1 97.7h0M105.3 100.1h0M98.6 101.8h0M103.7 93.7h0M94.9 97.5h0M114.3 97.9h0M105.3 94.0h0M103.5 93.9h0M98.5 95.3h0M104.3 92.2h0M102.7 93.3h0M98.5 90.0h0M117.5 86.2h0M107.0 85.6h0M98.1 100.5h0M95.4 99.3h0M111.1 93.1h0M107.4 101.0h0M92.0 91.8h0M101.0 100.3h0M100.8 86.3h0M96.0 94.8h0M103.6 97.3h0M97.2 97.6h0M102.6 88.1h0M106.4 92.1h0M106.3 89.9h0M112.4 98.1h0M91.0 92.0h0M101.9 95.2h0M96.8 100.7h0M111.7 95.2h0M104.8 100.6h0M105.8 93.9h0M106.0 86.8h0M97.4 93.4h0M97.2 85.2h0M106.6 99.1h0M100.1 94.4h0M109.3 100.3h0M113.2 93.3h0M101.3 99.8h0M113.3 93.6h0M101.5 93.0h0M97.9 101.5h0M100.7 94.2h0M106.1 98.0h0M98.0 99.4h0M106.6 93.1h0M105.6 101.9h0M103.4 95.1h0M97.7 94.2h0M99.6 88.3h0M108.5 97.6h0M105.1 95.9h0M110.7 83.7h0M111.7 91.7h0M98.5 89.6h0M98.6 93.7h0M107.5 89.4h0M107.7 91.4h0M101.5 87.4h0M103.7 97.1h0M101.3 92.0h0M106.7 88.7h0M102.6 89.5h0M106.6 91.9h0M105.3 94.4h0M102.9 89.1h0M110.1 91.2h0M102.6 86.5h0M103.7 89.3h0M97.6 101.0h0M107.4 96.4h0M104.4 98.3h0M103.3 96.0h0M98.0 92.2h0M102.4 78.3h0M96.8 89.1h0M114.2 84.5h0M93.2 99.0h0M97.9 97.7h0M103.2 100.1h0M102.4 94.9h0M103.4 94.2h0M103.5 93.2h0M104.3 101.0h0M107.2 95.1h0M111.2 97.7h0M112.3 95.3h0M105.0 93.4h0M113.8 92.3h0M101.1 101.4h0M106.7 94.6h0M107.9 96.6h0M103.3 96.9h0M106.5 96.1h0M106.0 95.7h0M106.3 88.8h0M112.5 101.2h0M105.1 98.5h0M113.2 97.8h0M96.6 97.2h0M92.8 93.6h0M111.2 87.9h0M95.1 92.5h0M102.1 94.3h0M102.6 97.6h0M109.0 93.9h0M98.7 91.8h0M103.0 100.1h0M109.0 91.5h0M101.5 85.9h0M105.9 92.8h0M111.6 97.6h0M96.8 95.1h0M102.9 95.6h0M92.6 91.7h0M100.3 88.3h0M104.3 92.9h0M104.5 100.5h0M105.6 94.9h0M105.2 87.6h0M101.4 91.1h0M113.6 86.7h0M101.4 98.1h0M100.8 98.8h0M97.2 101.0h0M104.5 80.8h0M95.8 86.6h0M102.0 92.4h0M105.1 98.7h0M106.6 97.6h0M99.0 85.3h0M96.9 97.0h0M98.1 87.0h0M98.7 97.1h0M96.2 93.4h0M107.2 99.9h0M94.2 94.4h0M102.0 85.7h0M100.0 94.5h0M100.8 99.1h0M101.2 94.9h0M121.7 97.4h0M107.9 94.8h0M100.9 98.9h0M95.7 95.3h0M109.2 87.6h0M113.6 100.8h0M105.4 92.9h0M108.4 81.7h0M110.1 82.0h0M105.1 82.6h0M94.4 86.5h0M100.5 89.2h0M108.5 92.3h0M110.4 87.2h0M101.5 89.2h0M97.9 94.2h0M105.0 89.3h0M94.6 98.6h0M110.5 101.9h0M95.6 91.3h0M101.6 90.2h0M109.1 88.8h0M101.7 96.9h0M103.7 96.1h0M102.6 97.9h0M105.0 94.9h0M106.3 97.2h0M107.1 97.6h0M105.8 96.8h0M98.7 91.5h0M101.7 90.3h0M100.7 90.3h0M99.6 96.6h0M103.3 95.0h0M101.9 93.0h0M106.4 97.3h0M104.8 100.4h0M100.9 99.2h0M104.2 88.3h0M110.1 88.6h0M107.6 90.0h0M99.6 101.7h0M105.5 94.5h0M99.1 83.6h0M100.7 93.4h0M108.1 94.4h0M108.7 91.1h0M108.2 99.8h0M102.0 99.8h0M112.3 85.8h0M96.3 90.2h0M100.3 88.5h0M104.1 85.8h0M113.0 94.0h0M104.4 93.4h0M100.3 95.3h0M102.6 96.8h0M107.3 89.3h0M93.8 90.3h0M104.6 81.7h0M105.7 95.2h0M96.2 95.9h0M108.3 93.9h0M105.9 98.2h0M99.4 93.1h0M103.5 88.2h0M104.0 96.8h0M105.0 82.6h0M99.9 78.8h0M103.8 94.4h0M107.6 100.1h0M98.3 93.9h0M104.2 99.4h0M109.5 93.4h0M95.5 99.5h0M102.2 83.1h0M104.3 89.1h0M103.0 89.5h0M105.6 92.7h0M103.9 100.8h0M104.6 97.6h0M103.0 95.3h0M97.8 89.7h0M97.5 98.7h0M108.1 89.5h0M107.1 98.1h0M103.5 97.0h0M98.6 96.3h0M103.5 93.2h0M104.1 100.0h0M108.3 99.3h0M112.9 85.6h0M102.6 94.0h0M101.3 91.7h0M96.0 92.5h0M109.9 91.8h0M103.2 97.2h0M103.4 88.5h0M100.7 101.9h0M99.8 86.8h0M113.6 95.4h0M97.5 83.5h0M99.4 86.3h0M102.7 100.4h0M107.6 92.2h0M106.9 91.9h0M89.9 98.9h0M99.1 88.5h0M108.7 94.9h0M108.0 100.6h0M107.5 93.8h0M114.4 88.3h0M102.5 90.7h0M107.9 101.4h0M106.5 90.6h0M104.3 85.4h0M109.2 101.7h0M102.5 98.3h0M101.9 94.9h0M104.3 93.3h0M119.1 92.7h0M108.9 89.0h0M104.9 94.3h0M99.1 99.8h0M105.7 88.2h0M107.9 96.5h0M113.3 79.8h0M102.6 95.2h0M109.1 87.2h0M109.5 96.4h0M92.1 88.1h0M99.0 97.4h0M101.0 94.0h0M99.4 97.6h0M95.6 89.9h0M100.3 91.7h0M102.7 98.5h0M100.1 90.5h0M107.3 94.0h0M106.8 90.5h0M97.5 92.9h0M95.4 92.0h0M103.9 88.3h0M99.5 82.2h0M97.2 94.1h0M100.0 95.4h0M100.0 91.4h0M102.1 100.1h0M99.3 87.2h0M104.9 91.8h0M103.1 98.5h0M106.7 99.5h0M104.5 82.5h0M105.5 101.0h0M106.1 97.9h0M106.7 85.1h0M92.0 95.0h0M106.8 98.0h0M102.0 91.5h0M97.9 96.7h0M105.2 99.1h0M99.6 101.5h0M108.7 88.3h0M106.4 88.3h0M113.2 101.4h0M104.0 96.9h0M103.2 91.7h0M97.6 94.1h0M108.9 96.7h0M109.6 101.0h0M106.4 88.9h0M98.3 92.2h0M91.7 84.8h0M115.3 95.7h0M108.7 96.8h0M98.8 100.5h0M103.3 98.5h0M93.5 92.5h0M108.8 93.2h0M103.5 100.1h0M104.3 91.2h0M108.7 90.5h0M96.9 89.5h0M103.3 90.1h0M99.1 100.9h0M97.4 87.0h0M103.9 98.7h0M100.7 88.5h0M116.7 92.0h0M118.0 90.1h0M110.5 87.0h0M112.4 98.2h0M105.1 91.2h0M104.1 96.3h0M100.2 99.2h0M102.2 98.4h0M93.3 97.8h0M109.3 96.1h0M112.4 90.2h0M110.2 95.9h0M104.4 98.0h0M111.3 83.9h0M104.3 94.5h0M108.2 95.1h0M101.5 96.7h0M108.5 90.8h0M104.9 94.3h0M100.8 95.1h0M114.6 92.1h0M107.1 98.5h0M110.4 93.0h0M97.3 99.7h0M93.1 96.8h0M109.2 99.0h0M104.4 93.7h0M101.2 100.7h0M95.0 87.5h0M101.1 93.8h0M106.6 93.3h0M104.2 91.6h0M109.6 100.3h0M94.9 101.8h0M105.7 95.6h0M108.4 97.9h0M104.9 97.8h0M94.3 97.7h0M104.7 88.2h0M100.9 98.6h0M101.4 88.7h0M102.5 91.5h0M114.8 95.0h0M106.4 88.7h0M107.6 98.2h0M100.4 99.4h0M100.5 95.9h0M105.3 95.5h0M105.5 97.8h0M100.7 96.3h0M107.6 101.2h0M99.3 92.4h0M101.5 86.9h0M100.6 93.0h0M101.6 94.5h0M98.4 99.2h0M109.0 95.9h0M111.5 84.4h0M88.1 99.1h0M105.9 94.1h0M105.1 90.1h0M98.4 90.1h0M103.9 98.7h0M114.2 93.4h0M94.8 100.7h0M101.6 88.6h0M107.5 83.2h0M100.9 98.0h0M110.7 87.2h0M107.5 91.1h0M108.3 90.8h0M94.1 85.8h0M103.9 94.6h0M100.7 101.9h0M103.0 90.2h0M103.6 94.7h0M107.0 94.6h0M108.6 92.2h0M103.0 98.6h0M99.5 96.3h0M104.7 101.3h0M101.9 95.4h0M111.3 98.2h0M96.2 93.0h0M107.7 93.1h0M105.7 100.4h0M114.2 90.7h0M95.1 90.3h0M101.2 101.1h0M104.8 86.5h0M105.8 90.8h0M105.4 84.8h0M107.8 88.5h0M101.5 100.4h0M102.4 89.3h0M111.6 92.9h0M108.9 94.4h0M94.0 93.7h0M105.7 94.0h0M112.6 84.3h0M99.8 98.9h0M109.7 100.3h0M98.6 97.1h0M115.3 98.0h0M107.1 99.7h0M103.1 96.7h0M105.7 95.8h0M107.3 95.0h0M108.7 90.3h0M106.9 89.5h0M105.4 90.5h0M100.4 97.6h0M98.8 99.7h0M112.3 93.4h0M99.6 97.4h0M102.4 85.5h0M115.3 91.9h0M113.5 100.5h0M107.3 97.5h0M102.0 98.9h0M100.5 97.4h0M99.0 95.2h0M88.3 91.5h0M105.7 95.5h0M105.3 98.2h0M112.9 91.7h0M84.4 98.2h0M104.8 95.0h0M105.3 89.2h0M107.6 90.6h0M95.6 88.2h0M103.7 86.3h0M101.6 97.8h0M114.4 93.9h0M103.1 93.4h0M87.8 96.1h0M95.5 93.9h0M97.9 89.4h0M99.7 88.4h0M97.8 100.6h0M107.6 92.9h0M103.8 95.2h0M106.3 97.4h0M102.1 94.6h0M109.1 89.8h0M94.7 81.7h0M101.7 100.9h0M114.7 91.2h0M104.5 89.5h0M104.2 93.8h0M108.4 99.8h0M105.9 95.3h0M108.2 93.6h0M100.3 98.0h0M105.0 90.3h0M105.4 93.9h0M106.1 95.8h0M107.3 92.9h0M103.6 100.6h0M110.5 95.9h0M94.3 100.6h0M107.0 88.2h0M93.0 85.0h0M101.2 93.9h0M104.4 94.4h0M105.0 91.5h0M97.9 100.3h0M98.5 91.3h0M92.1 87.2h0M106.9 91.3h0M107.7 93.9h0M100.7 100.6h0M104.3 92.8h0M111.6 88.8h0M97.5 95.0h0M103.4 83.1h0M101.9 93.3h0M98.9 96.1h0M92.2 97.6h0M96.6 100.8h0M99.2 84.7h0M103.4 89.7h0M100.3 89.5h0M106.0 93.7h0M105.7 96.3h0M105.8 95.1h0M97.1 99.0h0M101.5 95.2h0M104.2 95.6h0M99.9 91.1h0M98.6 92.9h0M107.3 89.2h0M95.9 95.2h0M105.2 93.3h0M100.5 99.4h0M102.9 96.3h0M113.9 93.1h0M105.7 91.4h0M110.0 97.5h0M104.7 94.2h0M98.3 96.2h0M105.4 83.4h0M104.1 83.2h0M111.7 95.6h0M106.1 90.0h0M113.2 97.2h0M104.1 93.8h0M99.1 92.5h0M101.8 87.3h0M109.4 85.0h0M104.8 97.0h0M101.3 88.3h0M112.9 85.7h0M105.8 87.9h0M106.4 98.8h0M109.7 95.0h0M103.7 92.8h0M103.7 94.4h0M107.9 93.6h0M97.3 95.6h0M116.8 86.7h0M111.1 96.1h0M109.2 99.1h0M95.7 100.7h0M101.8 85.4h0M106.1 88.4h0M102.6 96.7h0M95.7 99.8h0M107.6 95.5h0M108.4 94.2h0M111.6 92.1h0M104.6 99.2h0M106.1 85.1h0M101.9 102.0h0M100.8 85.5h0M105.9 88.7h0M110.3 90.8h0M90.7 87.0h0M97.8 90.4h0M105.1 95.2h0M108.3 89.6h0M100.9 97.0h0M106.1 100.0h0M95.5 95.9h0M105.7 97.9h0M101.8 96.2h0M94.4 88.3h0M109.5 89.3h0M94.8 88.3h0M104.1 96.5h0M104.2 95.6h0M97.0 92.7h0M108.6 87.9h0M102.3 94.5h0M108.2 90.4h0M110.5 96.5h0M104.9 93.2h0M100.0 87.2h0M107.4 94.5h0M107.8 99.4h0M98.8 95.4h0M99.9 83.0h0M108.6 95.3h0M97.4 101.9h0M100.8 96.8h0M103.8 89.4h0M95.8 101.2h0M101.2 97.0h0M101.0 96.1h0M102.4 94.2h0M98.2 91.0h0M105.4 92.5h0M103.0 99.5h0M103.4 88.2h0M108.0 95.7h0M105.8 95.6h0M99.5 101.8h0M97.0 95.2h0M104.9 90.9h0M105.8 98.0h0M100.6 98.7h0M103.9 98.7h0M99.2 90.9h0M101.0 91.6h0M101.4 98.1h0M105.3 90.0h0M102.4 97.6h0M99.3 92.5h0M101.0 88.7h0M98.0 89.9h0M106.9 92.3h0M105.4 91.2h0M95.6 91.3h0M107.9 95.2h0M100.7 96.5h0M103.3 91.4h0M100.2 96.5h0M101.1 85.0h0M105.0 86.9h0M94.1 85.9h0M101.9 100.9h0M105.1 92.6h0M95.2 98.0h0M102.2 93.7h0M98.8 96.7h0M112.0 97.5h0M102.0 101.7h0M108.0 84.5h0M103.7 90.6h0M99.2 92.5h0M98.9 98.1h0M108.2 85.4h0M95.0 98.6h0M104.7 89.6h0M105.6 101.7h0M111.4 98.1h0M100.2 100.0h0M106.2 91.5h0M115.2 95.5h0M101.7 93.5h0M104.1 89.5h0M107.5 97.5h0M108.9 91.3h0M101.9 93.6h0M111.0 94.1h0M105.0 92.1h0M105.9 98.5h0M103.6 92.4h0M113.6 89.0h0M99.7 99.3h0M98.2 88.7h0M105.9 100.5h0M97.1 93.8h0M100.5 96.1h0M101.5 96.2h0M101.8 99.1h0M109.1 92.6h0M103.3 93.2h0M93.1 83.4h0M106.7 101.4h0M97.4 93.9h0M114.4 86.6h0M92.7 85.9h0M101.9 100.1h0M108.0 93.7h0M105.3 94.3h0M104.1 93.6h0M103.7 95.8h0M106.0 101.6h0M103.5 97.7h0M101.9 91.4h0M113.8 92.2h0M112.9 85.6h0M112.8 87.8h0M103.2 95.3h0M103.7 94.8h0M99.8 99.9h0M102.0 88.2h0M108.0 97.9h0M100.1 86.7h0M108.9 95.6h0M102.7 90.6h0M105.7 90.1h0M106.8 96.6h0M104.4 83.9h0M106.3 99.0h0M97.8 98.1h0M102.4 96.1h0M98.1 99.6h0M103.6 94.3h0M105.2 88.3h0M107.0 94.7h0M98.8 96.1h0M103.3 92.9h0M100.8 94.2h0M107.0 95.2h0M105.5 96.5h0M107.4 93.9h0M103.6 100.9h0M95.9 95.7h0M99.9 96.4h0M105.4 97.4h0M98.5 99.2h0M108.8 95.9h0M108.6 91.9h0M109.8 97.7h0M98.6 90.9h0M93.8 89.8h0M103.7 100.6h0M103.3 92.1h0M102.0 90.9h0M104.1 87.9h0M103.1 90.5h0M97.9 89.4h0M113.1 89.3h0M99.3 93.8h0M106.7 97.6h0M101.7 93.7h0M110.9 90.5h0M107.0 89.0h0M102.9 93.8h0M108.2 83.3h0M95.4 94.8h0M104.2 99.7h0M95.9 101.0h0M106.6 93.5h0M110.9 91.3h0M102.9 96.1h0M101.2 96.2h0M106.1 92.0h0M103.4 97.0h0M96.9 95.3h0M106.1 92.9h0M103.0 98.7h0M98.3 97.8h0M99.2 101.0h0M109.2 89.9h0M107.9 99.8h0M97.1 92.8h0M103.1 100.8h0M109.1 94.0h0M102.1 96.4h0M105.9 98.2h0M96.1 91.4h0M108.4 93.9h0M107.1 88.2h0M103.6 98.0h0M95.2 95.3h0M97.4 100.9h0M103.0 92.6h0M98.0 101.1h0M104.3 91.4h0M100.5 89.8h0M109.8 92.1h0M112.8 92.6h0M98.7 93.3h0M102.9 99.5h0M107.0 86.2h0M95.8 93.5h0M108.7 96.0h0M91.5 101.3h0M97.0 91.3h0M96.0 98.4h0M114.1 96.4h0M108.4 90.6h0M97.1 96.8h0M94.5 89.5h0M104.1 88.6h0M99.2 93.6h0M103.3 98.0h0M97.5 90.4h0M109.0 98.9h0M105.8 90.8h0M100.0 89.0h0M108.3 101.3h0M111.4 91.8h0M110.3 91.5h0M103.8 91.3h0M106.0 96.0h0M104.0 80.9h0M105.9 100.8h0M108.6 87.1h0M103.6 92.4h0M97.8 90.3h0M97.5 90.1h0M105.9 83.8h0M94.1 96.0h0M104.4 100.5h0M111.4 91.1h0M101.2 100.7h0M97.0 86.7h0M102.4 95.2h0M100.7 98.7h0M99.8 98.2h0M108.1 95.9h0M99.1 92.6h0M98.4 85.7h0M101.5 101.0h0M104.3 91.7h0M97.2 92.5h0M103.6 89.9h0M99.6 87.8h0M110.9 84.9h0M105.9 87.2h0M99.3 97.4h0M99.3 84.7h0M96.6 85.0h0M109.6 96.3h0M102.2 89.3h0M105.6 92.8h0M100.4 96.2h0M97.6 85.2h0M92.8 98.0h0M95.1 90.7h0M101.2 100.6h0M98.6 80.6h0M107.4 87.7h0M116.7 96.9h0M108.9 87.8h0M102.6 95.9h0M93.3 85.7h0M104.2 97.9h0M111.1 82.1h0M99.9 87.0h0M97.2 91.4h0M92.5 96.7h0M94.0 96.3h0M105.9 91.7h0M112.8 98.8h0M110.3 95.3h0M106.7 99.6h0M97.8 83.6h0M103.4 88.1h0M108.3 87.6h0M105.9 86.2h0M114.0 96.1h0M96.6 94.5h0M103.9 78.6h0M97.0 96.7h0M98.5 92.1h0M104.1 97.3h0M112.0 97.0h0M95.0 95.9h0M96.3 89.4h0M103.4 94.1h0M102.6 99.4h0M101.8 96.0h0M107.2 91.3h0M101.7 92.6h0M96.9 89.2h0M105.6 95.2h0M95.1 99.1h0M107.2 100.5h0M109.9 95.3h0M106.4 93.3h0M97.6 93.9h0M105.6 96.2h0M99.7 90.0h0M99.8 91.9h0M101.5 97.9h0M102.5 80.4h0M107.1 91.5h0M108.6 93.1h0M102.7 85.3h0M111.1 91.5h0M108.7 97.0h0M113.5 95.8h0M103.4 91.4h0M94.1 97.4h0M99.3 100.9h0M109.8 96.3h0M115.7 97.0h0M107.8 89.8h0M107.0 94.1h0M111.1 94.2h0M91.3 100.4h0M109.5 86.8h0M103.1 97.1h0M107.6 88.6h0M98.9 91.4h0M100.6 90.7h0M104.3 85.7h0M105.4 88.3h0M100.3 90.4h0M107.6 95.6h0M100.3 96.9h0M97.7 96.0h0M104.2 94.9h0M96.2 96.8h0M106.3 97.0h0M100.7 101.0h0M99.1 83.5h0M98.5 90.3h0M99.8 93.7h0M104.9 92.6h0M97.7 92.5h0M105.8 88.2h0M95.4 91.6h0M104.7 90.7h0M101.4 90.5h0M105.6 90.9h0M98.4 90.5h0M100.5 91.8h0M90.5 87.9h0M101.6 99.4h0M97.7 87.3h0M101.4 86.0h0M92.8 94.7h0M105.1 91.7h0M105.5 97.8h0M107.5 93.0h0M106.0 90.9h0M104.2 99.9h0M112.5 97.2h0M100.6 91.0h0M96.9 99.5h0M109.9 89.7h0M100.8 93.5h0M95.2 86.7h0M106.1 90.2h0M106.4 96.9h0M110.7 90.3h0M110.9 91.8h0M100.5 87.2h0M107.0 92.5h0M99.5 99.5h0M102.8 89.5h0M103.8 85.8h0M109.3 88.1h0M101.9 94.5h0M104.5 95.9h0M95.4 92.0h0M102.4 91.7h0M99.6 80.4h0M105.2 99.9h0M100.5 92.2h0M104.1 93.6h0M106.7 87.7h0M103.8 87.0h0M115.9 84.6h0M102.0 93.5h0M102.4 97.5h0M106.3 97.4h0M107.4 96.6h0M98.5 98.4h0M100.1 87.7h0M105.2 93.1h0M89.1 99.5h0M103.3 97.3h0M96.2 93.1h0M99.8 94.0h0M109.3 88.5h0M101.1 92.0h0M105.0 84.4h0M106.7 90.6h0M101.5 90.5h0M100.8 89.9h0M96.4 89.3h0M103.9 95.9h0M105.5 86.4h0M107.5 92.3h0M106.5 93.1h0M95.6 100.2h0M102.0 90.8h0M95.8 91.9h0M107.0 90.9h0M104.0 95.9h0M100.0 92.1h0M104.4 88.4h0M101.8 87.4h0M99.7 91.2h0M105.3 98.0h0M99.4 95.2h0M111.1 80.6h0M102.5 85.0h0M109.8 97.5h0M105.9 96.6h0M94.3 101.9h0M101.7 93.4h0M95.2 94.9h0M94.2 84.5h0M115.9 92.9h0M110.2 81.8h0M112.2 95.0h0M107.9 99.9h0M97.4 92.5h0M106.7 94.0h0M92.7 95.6h0M102.9 92.5h0M105.0 91.2h0M110.5 83.6h0M99.3 98.0h0M108.8 86.9h0M108.1 92.2h0M110.8 100.7h0M98.5 92.7h0M104.2 86.8h0M95.0 92.0h0M105.8 95.7h0M95.8 97.9h0M98.8 88.3h0M101.2 99.5h0M105.7 94.2h0M108.2 94.3h0M101.2 96.5h0M99.4 97.7h0M100.0 99.1h0M102.0 94.3h0M115.8 98.8h0M108.4 92.1h0M101.5 99.6h0M107.9 97.2h0M109.4 80.8h0M103.7 101.8h0M106.8 101.9h0M98.2 97.9h0M99.0 84.4h0M112.7 99.1h0M111.6 90.3h0M102.9 90.1h0M110.0 91.0h0M100.1 92.0h0M100.6 90.4h0M113.2 87.4h0M98.5 85.9h0M109.6 88.8h0M108.0 85.3h0M106.6 92.1h0M111.3 86.3h0M108.5 84.9h0M106.3 83.6h0M89.8 97.3h0M96.6 102.0h0M103.8 90.5h0M100.9 90.0h0M103.5 87.0h0M101.1 87.9h0M111.6 87.3h0M110.6 101.4h0M101.6 93.9h0M100.2 95.9h0M100.8 94.6h0M106.5 97.6h0M109.2 94.7h0M106.4 84.4h0M101.1 82.6h0M108.1 94.4h0M96.2 90.5h0M100.3 96.8h0M96.8 99.5h0M102.5 89.4h0M108.6 94.9h0M108.8 90.5h0M101.1 87.2h0M100.9 92.5h0M104.2 89.6h0M100.4 77.6h0M111.7 100.2h0M106.1 95.5h0M96.3 86.3h0M101.2 91.1h0M105.4 90.5h0M90.3 99.0h0M100.1 97.3h0M102.3 98.9h0M106.9 91.1h0M104.6 94.9h0M103.4 85.9h0M99.6 94.4h0M101.5 81.1h0M107.4 94.4h0M101.7 88.6h0M99.0 94.5h0M103.3 95.1h0M104.4 99.4h0M109.0 99.9h0M103.0 101.0h0M92.7 87.4h0M105.7 99.6h0M99.0 100.5h0M102.0 93.4h0M102.8 91.5h0M108.8 91.7h0M99.4 99.3h0M97.0 94.1h0M98.8 93.6h0M94.8 91.6h0M94.1 95.9h0M104.1 88.0h0M95.4 88.9h0M107.2 89.7h0M107.3 96.3h0M96.6 83.9h0M99.2 86.0h0M98.9 90.6h0M104.9 82.6h0M113.7 91.1h0M97.6 89.0h0M97.6 101.5h0M98.3 78.5h0M98.8 97.7h0M96.9 93.8h0M110.4 99.7h0M96.8 99.3h0M103.1 91.9h0M113.9 89.6h0M106.9 91.5h0M99.2 85.2h0M105.8 95.9h0M112.3 88.8h0M110.2 91.1h0M96.1 95.9h0M107.9 92.5h0M111.6 95.8h0M104.8 91.7h0M96.9 97.6h0M113.2 97.8h0M98.2 95.6h0M101.1 97.2h0M112.9 83.5h0M104.8 92.0h0M104.8 92.1h0M101.5 91.6h0M109.1 99.3h0M108.8 89.8h0M101.5 98.9h0M99.7 87.6h0M97.9 90.3h0M95.3 90.3h0M100.4 99.9h0M97.4 93.0h0M100.6 88.8h0M97.0 93.7h0M106.6 94.3h0M95.6 101.3h0M103.5 93.6h0M95.3 91.7h0M113.1 96.1h0M109.7 92.4h0M98.1 88.1h0M102.3 90.1h0M106.5 89.0h0M108.6 86.4h0M94.3 101.7h0M97.8 95.7h0M106.4 95.2h0M109.7 98.7h0M103.3 94.3h0M110.5 94.3h0M108.2 99.1h0M99.9 97.8h0M118.9 88.2h0M108.0 81.4h0M101.8 91.6h0M106.0 95.4h0M96.1 86.5h0M102.7 90.0h0M101.9 95.2h0M104.9 96.6h0M109.3 95.4h0M102.3 97.1h0M109.4 100.7h0M99.8 99.9h0M103.2 89.9h0M101.5 99.3h0M113.2 92.3h0M100.5 95.1h0M101.0 86.0h0M109.9 88.1h0M101.5 94.7h0M102.1 99.1h0M97.4 86.0h0M104.7 93.7h0M97.0 99.0h0M104.5 84.0h0M104.5 97.7h0M107.1 89.7h0M102.2 93.7h0M106.0 89.5h0M102.6 92.1h0M102.5 89.3h0M105.2 100.4h0M110.5 93.7h0M105.2 94.6h0M105.3 87.5h0M117.2 89.8h0M108.1 96.1h0M110.4 87.6h0M115.3 87.4h0M103.5 92.5h0M113.9 99.8h0M99.1 97.7h0M102.6 85.9h0M100.7 100.1h0M107.1 99.9h0M92.8 98.1h0M98.6 84.6h0M99.0 96.3h0M107.1 96.0h0M101.5 87.1h0M105.9 94.1h0M103.6 86.1h0M99.0 93.5h0M101.2 96.4h0M111.1 96.8h0M105.7 92.1h0M95.8 96.6h0M103.4 90.1h0M99.1 99.3h0M106.5 93.9h0M107.7 84.6h0M101.5 96.1h0M102.0 96.7h0M97.9 85.2h0M108.1 97.5h0M108.5 88.4h0M104.6 93.3h0M91.9 85.6h0M97.6 98.3h0M101.5 87.1h0M107.9 90.1h0M105.8 100.1h0M99.6 90.0h0M102.7 93.8h0M113.0 98.5h0M99.9 95.3h0M102.2 93.7h0M108.4 97.9h0M101.6 99.4h0M108.6 98.0h0M111.4 89.1h0M108.0 99.3h0M106.1 99.1h0M102.1 92.9h0M107.4 95.0h0M104.0 97.6h0M110.9 88.7h0M95.5 97.6h0M111.6 92.1h0M105.6 91.7h0M103.2 93.7h0M115.0 84.0h0M100.0 86.1h0M92.2 76.4h0M106.6 93.7h0M102.8 94.8h0M103.3 92.3h0M101.1 95.0h0M100.3 91.8h0M106.9 98.9h0M108.7 101.7h0M106.1 95.9h0M91.9 101.6h0M105.7 93.6h0M94.8 92.6h0M97.9 93.7h0M104.9 93.8h0M102.5 93.4h0M114.5 88.3h0M106.6 88.9h0M101.6 101.8h0M97.8 94.0h0M105.2 99.2h0M102.8 101.3h0M96.4 98.0h0M100.1 91.5h0M110.6 94.3h0M106.4 91.3h0M101.0 100.8h0M99.8 91.0h0M106.5 92.4h0M95.1 93.2h0M112.2 89.8h0M95.1 100.0h0M100.6 90.8h0M114.7 95.3h0M97.3 98.3h0M105.4 92.4h0M100.7 93.8h0M99.4 99.2h0M114.2 82.3h0M103.2 98.1h0M103.3 101.1h0M108.7 95.2h0M99.9 100.9h0M99.7 90.4h0M102.1 95.8h0M100.3 92.8h0M104.5 101.7h0M99.5 88.7h0M96.0 92.8h0M104.2 98.2h0M101.0 86.5h0M96.5 100.7h0M106.9 99.5h0M108.4 94.9h0M100.6 87.7h0M103.6 92.7h0M97.2 90.5h0M96.2 97.8h0M103.7 92.9h0M107.3 96.4h0M91.9 94.3h0M95.8 85.9h0M97.5 101.9h0M112.6 91.8h0M106.3 99.6h0M102.4 90.9h0M96.0 88.8h0M102.9 81.9h0M109.0 83.4h0M95.9 90.7h0M100.8 91.8h0M100.9 98.9h0M102.3 95.9h0M96.8 88.7h0M103.2 85.6h0M105.6 95.9h0M86.9 95.7h0M108.2 88.6h0M102.8 93.7h0M111.8 96.7h0M110.9 88.4h0M102.5 97.8h0M106.3 100.5h0M108.1 92.5h0M101.5 92.4h0M107.3 99.8h0M99.4 97.4h0M101.5 90.6h0M103.8 100.7h0M101.4 88.8h0M98.8 92.0h0M103.1 94.8h0M101.7 93.3h0M105.1 85.3h0M101.5 101.5h0M101.6 91.1h0M96.7 97.0h0M104.7 76.0h0M108.2 98.5h0M98.5 96.5h0M98.8 93.9h0M107.4 101.9h0M94.4 101.4h0M113.1 88.9h0M103.5 100.6h0M103.0 100.2h0M103.8 99.2h0M102.4 89.8h0M105.5 88.0h0M96.0 90.7h0M104.2 91.8h0M104.3 88.2h0M108.9 95.9h0M102.4 88.7h0M102.5 91.9h0M102.0 85.5h0M106.8 95.0h0M112.3 101.0h0M96.0 89.7h0M105.9 96.6h0M104.1 93.8h0M96.6 94.3h0M97.0 85.7h0M98.3 100.4h0M104.7 92.9h0M103.0 97.4h0M100.7 93.9h0M98.7 91.6h0M103.8 95.0h0M107.2 98.5h0M99.4 100.6h0M114.9 92.3h0M91.7 82.5h0M109.6 99.8h0M103.7 93.4h0M111.0 91.4h0M107.0 92.9h0M107.1 101.6h0M102.0 97.9h0M104.7 96.9h0M100.2 97.2h0M94.6 92.8h0M110.6 90.6h0M101.8 99.2h0M99.2 96.6h0M97.8 92.1h0M109.8 86.5h0M93.1 84.1h0M106.7 91.4h0M110.8 83.9h0M105.0 80.5h0M115.4 99.1h0M101.4 91.1h0M103.1 81.1h0M92.1 86.3h0M100.3 86.8h0M110.8 80.2h0M106.5 87.4h0M101.8 90.0h0M104.3 97.4h0M98.2 84.6h0M102.3 99.9h0M105.3 92.2h0M111.3 87.3h0M110.0 91.6h0M103.7 91.1h0M104.8 93.9h0M97.5 86.3h0M102.7 89.8h0M100.5 91.8h0M104.9 90.5h0M105.5 86.5h0M98.2 95.7h0M98.4 88.2h0M108.3 87.4h0M93.9 88.9h0M96.4 89.1h0M100.8 96.6h0M115.1 88.2h0M101.8 84.3h0M111.1 100.4h0M105.1 89.3h0M102.4 96.3h0M91.0 94.5h0M106.1 88.0h0M109.8 90.9h0M106.1 100.0h0M106.7 86.7h0M105.0 98.4h0M100.5 87.4h0M103.7 98.9h0M105.6 83.2h0M103.0 92.1h0M110.9 99.1h0M96.4 85.6h0M104.1 87.8h0M93.7 83.6h0M110.5 97.0h0M97.1 93.2h0M100.2 89.1h0M109.1 91.9h0M110.1 85.2h0M93.1 89.9h0M100.4 99.7h0M97.3 94.9h0M104.8 96.8h0M100.4 91.7h0M98.4 93.6h0M99.0 97.7h0M104.6 93.6h0M103.9 95.2h0M107.7 101.6h0M105.2 100.1h0M109.2 91.7h0M98.5 100.6h0M113.0 91.1h0M94.2 100.2h0M108.2 93.6h0M101.5 95.9h0M107.9 98.6h0M102.2 92.3h0M99.8 92.3h0M95.8 98.2h0M109.1 95.0h0M88.5 89.2h0M92.3 92.2h0M111.4 85.8h0M100.3 94.1h0M102.9 97.2h0M108.6 97.4h0M101.4 84.7h0M103.8 90.3h0M104.2 95.7h0M98.8 94.5h0M103.0 83.8h0M101.3 98.9h0M92.6 94.2h0M110.0 87.8h0M101.4 85.3h0M111.6 96.1h0M104.4 94.6h0M103.8 99.9h0M104.1 84.6h0M109.8 95.6h0M104.5 91.7h0M100.5 90.6h0M102.1 94.0h0M103.0 86.0h0M100.4 96.1h0M107.0 99.0h0M99.7 98.6h0M103.5 101.6h0M102.5 95.4h0M103.7 95.1h0M98.3 98.5h0M102.6 87.4h0M93.0 87.3h0M107.5 94.6h0M108.7 99.4h0M106.6 86.7h0M103.9 88.1h0M111.0 90.9h0M105.0 91.5h0M89.4 89.1h0M96.8 95.9h0M104.2 97.3h0M116.5 89.5h0M101.9 97.9h0M100.2 97.3h0M95.8 96.9h0M96.8 97.5h0M97.6 101.8h0M99.7 97.4h0M97.6 97.9h0M92.0 73.6h0M98.9 100.8h0M104.3 87.2h0M103.5 97.8h0M100.0 97.2h0M107.0 89.3h0M112.3 88.6h0M101.0 93.8h0M102.6 88.5h0M111.0 94.5h0M100.6 88.3h0M105.8 95.8h0M100.0 96.4h0M113.6 94.6h0M95.6 98.1h0M111.9 93.6h0M99.5 98.1h0M101.8 100.4h0M105.4 96.0h0M101.1 99.7h0M104.3 91.0h0M105.6 90.9h0M110.3 95.3h0M102.8 99.0h0M100.0 92.0h0M106.9 82.2h0M102.9 100.8h0M99.0 95.8h0M101.9 101.8h0M108.1 99.7h0M102.5 95.4h0M96.6 90.4h0M109.3 88.6h0M104.4 100.0h0M97.9 92.4h0M106.1 84.3h0M100.6 96.7h0M105.3 100.2h0M101.5 98.4h0M110.1 96.5h0M96.7 96.8h0M115.7 90.5h0M99.6 98.4h0M102.3 89.2h0M104.8 102.0h0M103.2 89.4h0M108.9 94.6h0M109.7 100.4h0M105.5 95.6h0M101.7 78.9h0M102.1 92.6h0M101.5 99.6h0M101.4 89.0h0M107.3 87.7h0M108.1 96.8h0M111.0 98.3h0M104.5 95.9h0M101.7 91.2h0M109.3 85.4h0M107.3 85.1h0M112.4 85.0h0M98.4 92.8h0M107.3 86.5h0M103.7 95.0h0M111.1 91.2h0M103.3 92.9h0M97.1 82.8h0M102.9 98.4h0M101.6 84.5h0M99.3 99.0h0M97.7 101.3h0M104.7 93.8h0M92.3 81.8h0M103.4 97.4h0M103.5 93.8h0M109.4 74.1h0M103.6 97.6h0M102.2 95.4h0M95.8 87.2h0M98.2 101.9h0M109.0 96.8h0M107.5 87.7h0M100.6 98.6h0M97.8 83.5h0M103.0 94.9h0M96.2 88.5h0M95.7 85.8h0M103.2 90.7h0M109.6 95.9h0M93.3 85.3h0M109.3 85.2h0M100.6 91.8h0M113.4 96.4h0M105.3 101.1h0M98.4 101.5h0M105.5 79.3h0M97.6 87.0h0M107.0 97.4h0M110.8 99.3h0M94.3 82.9h0M97.9 94.6h0M93.1 86.1h0M104.0 86.8h0M103.4 95.2h0M94.0 98.8h0M108.7 93.1h0M104.6 95.5h0M105.7 83.3h0M103.0 88.7h0M100.2 85.1h0M101.3 86.2h0M111.6 89.7h0M97.7 99.0h0M109.8 92.1h0M105.8 94.1h0M102.0 95.4h0M107.1 96.0h0M103.3 91.7h0M98.3 95.5h0M108.1 93.4h0M104.9 87.1h0M100.6 89.2h0M102.1 95.7h0M104.7 92.5h0M95.9 89.1h0M107.0 94.4h0M102.9 93.3h0M112.3 93.6h0M105.9 91.7h0M107.4 88.0h0M105.7 98.3h0M101.6 92.7h0M111.2 94.0h0M111.7 87.2h0M101.8 98.1h0M108.9 92.7h0M108.5 79.5h0M102.9 96.7h0M99.5 88.2h0M102.1 95.3h0M103.3 94.9h0M86.5 91.8h0M106.3 97.2h0M107.9 100.9h0M114.5 93.8h0M124.3 98.8h0M103.3 86.7h0M113.2 97.9h0M99.2 99.4h0M97.6 85.7h0M112.3 90.6h0M111.4 89.6h0M104.8 87.3h0M103.6 92.3h0M97.4 85.3h0M110.4 91.0h0M97.8 99.8h0M102.2 96.5h0M97.2 97.1h0M94.0 95.3h0M103.0 98.7h0M97.6 95.1h0M124.5 101.5h0M93.5 85.3h0M109.6 92.1h0M102.8 96.7h0M103.2 99.3h0M97.7 98.8h0M111.3 87.7h0M98.5 89.6h0M113.1 84.9h0M101.4 85.9h0M104.7 98.9h0M109.5 88.2h0M104.5 95.9h0M92.1 92.1h0M88.4 93.9h0M105.0 98.0h0M102.8 101.0h0M109.8 93.6h0M114.6 84.9h0M108.3 87.8h0M104.9 94.6h0M104.2 94.3h0M96.6 93.4h0M105.0 99.8h0M109.6 95.3h0M105.2 90.5h0M103.2 94.9h0M96.1 101.3h0M111.3 94.7h0M106.0 95.3h0M104.6 81.8h0M102.6 87.0h0M106.9 94.3h0M98.1 98.0h0M109.9 94.2h0M95.2 98.8h0M109.9 98.0h0M115.7 89.7h0M97.7 97.6h0M97.6 96.5h0M103.2 99.7h0M106.5 94.8h0M99.4 89.9h0M107.0 96.2h0M103.0 94.0h0M100.1 100.7h0M100.5 100.3h0M112.0 95.5h0M102.3 96.9h0M97.2 85.3h0M110.9 96.4h0M105.6 85.7h0M102.9 91.5h0M108.8 90.2h0M102.8 100.1h0M99.9 92.9h0M109.0 97.2h0M106.2 93.2h0M96.9 95.3h0M110.3 86.1h0M103.0 98.2h0M104.8 95.1h0M99.7 91.4h0M108.3 89.1h0M109.8 87.1h0M104.0 99.7h0M110.4 100.0h0M98.7 90.8h0M108.7 95.1h0M99.2 98.0h0M105.4 88.6h0M100.1 96.1h0M107.7 95.9h0M99.6 81.7h0M99.0 86.2h0M102.8 87.7h0M105.3 85.5h0M102.3 88.1h0M101.1 86.6h0M110.1 94.4h0M95.6 90.0h0M109.5 85.8h0M100.7 86.0h0M102.8 101.6h0M94.0 101.6h0M104.7 97.3h0M106.8 93.9h0M92.9 94.2h0M100.3 87.4h0M108.0 87.0h0M101.3 90.0h0M99.6 92.1h0M102.6 84.2h0M98.9 98.2h0M103.1 87.9h0M100.2 99.5h0M105.5 79.8h0M108.7 100.1h0M101.1 97.8h0M101.3 75.3h0M104.1 95.2h0M88.6 93.3h0M106.9 96.0h0M102.0 90.9h0M101.0 98.7h0M108.9 94.6h0M99.3 93.5h0M97.1 93.8h0M108.5 93.1h0M107.5 82.9h0M116.1 97.0h0M99.1 93.4h0M96.7 94.5h0M107.7 97.5h0M100.7 88.9h0M96.2 95.7h0M101.0 94.6h0M106.2 99.8h0M107.7 95.6h0M99.2 88.6h0M100.4 97.0h0M107.9 96.1h0M108.1 95.0h0M98.6 89.1h0M110.6 97.0h0M104.4 92.8h0M105.7 96.1h0M100.4 94.6h0M100.4 90.4h0M103.9 87.8h0M107.3 92.2h0M108.3 88.0h0M111.3 96.3h0M111.5 98.1h0M105.8 96.7h0M111.8 101.1h0M96.9 95.5h0M94.2 92.3h0M102.1 99.2h0M108.0 92.3h0M103.6 91.1h0M103.9 95.9h0M103.4 97.8h0M111.0 96.6h0M104.6 95.0h0M91.6 98.6h0M105.6 75.1h0M111.8 97.1h0M102.3 90.6h0M112.2 99.1h0M100.0 86.2h0M106.8 92.2h0M114.0 100.9h0M104.4 98.5h0M105.5 88.6h0M106.3 101.8h0M100.6 92.1h0M105.7 93.4h0M110.3 100.0h0M109.2 96.4h0M106.2 97.9h0M111.0 89.9h0M95.0 92.6h0M105.4 101.1h0M102.3 91.8h0M100.2 94.1h0M117.3 93.9h0M103.9 92.8h0M105.0 90.1h0M102.8 90.5h0M102.8 90.5h0M107.5 87.7h0M111.2 95.6h0M96.9 86.0h0M99.3 84.8h0M102.7 99.0h0M104.4 93.4h0M113.3 97.6h0M96.5 95.1h0M96.7 93.4h0M104.6 90.2h0M104.5 97.3h0M99.7 93.8h0M106.0 90.0h0M108.3 90.3h0M99.6 93.5h0M105.3 94.9h0M107.1 87.2h0M89.0 97.9h0M107.3 94.1h0M99.4 96.8h0M103.1 99.3h0M93.9 89.4h0M99.3 97.2h0M98.4 90.3h0M96.5 92.4h0M94.3 87.1h0M106.1 98.9h0M112.4 102.0h0M110.7 98.2h0M99.5 89.1h0M107.6 101.0h0M98.4 101.1h0M104.0 97.4h0M98.3 81.4h0M96.2 92.6h0M107.4 92.9h0M110.1 86.9h0M112.4 96.4h0M100.3 91.7h0M108.5 88.1h0M96.7 94.5h0M106.7 93.3h0M101.9 101.7h0M103.3 94.6h0M98.4 88.2h0M97.2 98.3h0M106.6 92.7h0M102.5 89.9h0M104.7 100.7h0M95.9 90.5h0M107.5 96.3h0M101.9 93.6h0M89.1 86.8h0M101.5 92.8h0M99.0 92.8h0M103.1 87.0h0M103.2 94.6h0M103.2 96.5h0M103.9 99.0h0M101.8 96.5h0M101.2 94.2h0M114.4 97.4h0M102.1 87.7h0M96.1 99.6h0M103.4 98.8h0M95.0 86.0h0M102.3 98.3h0M102.5 88.0h0M106.3 98.7h0M105.7 96.4h0M95.6 97.6h0M101.6 84.8h0M103.3 93.9h0M99.6 98.4h0M99.6 88.0h0M110.4 96.7h0M109.2 101.7h0M92.7 93.1h0M113.6 86.4h0M93.4 91.3h0M100.3 90.3h0M101.9 90.8h0M104.7 93.5h0M106.8 93.0h0M101.2 96.3h0M97.4 92.8h0M105.9 91.5h0M108.2 92.7h0M103.0 96.3h0M104.2 94.7h0M93.3 94.5h0M116.4 83.1h0M100.2 90.9h0M105.5 88.6h0M101.6 92.0h0M95.2 94.5h0M110.1 95.4h0M102.8 93.1h0M100.6 84.6h0M103.3 98.9h0M93.1 82.5h0M110.8 96.8h0M103.3 89.3h0M103.1 100.5h0M97.6 97.5h0M99.2 101.0h0M94.5 101.0h0M98.5 92.5h0M102.9 94.6h0M99.3 91.8h0M103.0 93.7h0M102.0 96.3h0M108.9 98.6h0M104.2 95.1h0M98.5 99.7h0M96.5 90.8h0M110.4 82.1h0M101.5 94.9h0M105.2 100.6h0M99.4 90.2h0M98.6 97.2h0M110.4 97.5h0M102.6 98.8h0M94.5 95.7h0M109.5 96.2h0M97.0 99.1h0M100.7 96.3h0M115.6 91.8h0M101.1 98.5h0M99.2 97.5h0M98.2 97.3h0M109.1 95.7h0M113.2 96.8h0M103.5 89.5h0M104.5 91.2h0M99.2 76.8h0M105.1 97.6h0M107.0 86.9h0M103.2 83.5h0M107.7 91.5h0M98.6 88.8h0M98.9 99.1h0M98.2 87.0h0M109.3 84.2h0M101.6 94.6h0M101.5 99.7h0M100.8 95.8h0M106.3 89.7h0M102.5 96.2h0M101.5 84.2h0M103.6 91.4h0M105.2 92.4h0M105.7 87.8h0M97.3 93.3h0M106.8 90.1h0M99.6 88.2h0M89.7 98.9h0M100.4 83.7h0M105.5 95.5h0M114.2 98.8h0M108.7 97.1h0M113.0 96.2h0M107.4 96.2h0M100.1 85.6h0M109.9 98.9h0M112.4 89.2h0M89.5 99.3h0M90.3 92.3h0M97.5 89.4h0M92.7 89.2h0M95.1 94.5h0M98.8 95.6h0M111.8 97.0h0M97.7 94.7h0M113.3 79.1h0M106.5 97.2h0M101.4 98.6h0M105.5 91.4h0M106.1 93.0h0M108.6 97.6h0M101.4 96.9h0M99.2 89.6h0M106.1 84.6h0M102.6 99.0h0M112.5 85.0h0M95.1 90.1h0M106.1 100.0h0M99.8 97.6h0M100.4 84.4h0M101.0 91.2h0M99.4 90.0h0M101.0 97.7h0M110.0 101.3h0M111.8 81.2h0M109.2 100.0h0M108.4 93.9h0M101.9 91.4h0M100.7 93.1h0M106.9 100.9h0M112.7 96.6h0M108.9 90.3h0M105.5 99.3h0M96.9 99.5h0M103.7 91.6h0M111.1 95.7h0M103.2 100.4h0M100.3 85.6h0M108.2 101.8h0M100.5 96.6h0M103.7 96.6h0M109.3 95.8h0M107.5 100.4h0M101.8 97.3h0M101.4 94.0h0M110.6 89.8h0M107.7 93.9h0M100.9 95.9h0M100.4 84.6h0M109.4 99.8h0M101.0 86.8h0M98.4 90.5h0M114.3 81.7h0M97.3 88.6h0M100.3 81.2h0M104.4 86.3h0M96.0 97.0h0M98.3 97.5h0M97.0 96.7h0M93.3 92.7h0M104.3 92.2h0M102.5 91.6h0M100.6 96.7h0M113.9 98.0h0M106.0 90.8h0M98.7 95.4h0M96.7 96.4h0M102.6 94.1h0M107.9 89.0h0M106.3 84.8h0M95.5 100.0h0M110.9 88.3h0M106.6 92.7h0M112.4 97.3h0M113.6 92.4h0M114.0 91.0h0M113.1 99.6h0M95.5 101.9h0M104.8 100.7h0M98.8 92.4h0M103.4 79.4h0M108.0 96.1h0M118.4 93.2h0M106.4 92.4h0M86.5 101.3h0M100.7 99.8h0M103.9 80.0h0M102.9 100.8h0M109.1 101.3h0M100.7 86.8h0M105.8 87.9h0M111.0 93.7h0M107.9 97.3h0M108.4 97.8h0M106.0 96.3h0M99.2 84.3h0M99.7 97.6h0M93.0 92.4h0M107.4 96.6h0M97.0 95.3h0M100.9 75.7h0M104.3 101.8h0M100.4 87.8h0M111.3 91.1h0M102.2 91.8h0M102.2 96.3h0M108.6 97.7h0M115.7 87.5h0M105.2 93.7h0M116.7 84.2h0M103.2 101.3h0M99.2 95.3h0M104.4 98.0h0M104.8 87.4h0M108.2 79.1h0M98.2 89.3h0M102.7 96.0h0M103.3 96.9h0M111.6 98.8h0M102.7 82.0h0M91.8 98.3h0M109.9 94.4h0M117.9 97.0h0M97.0 98.2h0M101.5 92.3h0M112.7 100.8h0M103.5 101.5h0M100.7 89.7h0M110.3 85.1h0M105.8 91.6h0M101.6 94.9h0M99.4 87.6h0M95.9 95.3h0M104.5 94.6h0M104.4 87.5h0M105.5 100.6h0M95.2 93.2h0M103.4 92.7h0M98.9 90.7h0M96.4 88.0h0M94.9 96.1h0M97.8 98.9h0M104.0 97.4h0M107.7 94.8h0M101.2 95.5h0M108.9 89.1h0M107.3 83.6h0M101.3 86.4h0M104.9 94.1h0M107.6 96.6h0M96.0 83.7h0M108.6 97.8h0M107.2 88.8h0M107.3 99.2h0M103.7 95.1h0M102.4 97.8h0M98.2 88.0h0M110.4 94.4h0M94.5 96.1h0M100.3 97.6h0M96.7 94.3h0M97.8 101.7h0M108.7 97.4h0M101.8 98.4h0M98.9 101.8h0M101.2 91.1h0M102.8 97.4h0M95.9 94.8h0M102.9 90.9h0M95.7 91.3h0M105.4 99.5h0M113.4 81.3h0M113.4 100.9h0M105.2 84.2h0M107.4 85.6h0M107.5 86.4h0M94.0 101.1h0M100.6 90.5h0M113.5 95.0h0M112.2 93.2h0M102.8 81.3h0M110.5 91.8h0M109.0 90.4h0M92.8 96.8h0M109.4 79.6h0M112.4 92.3h0M104.8 98.7h0M105.7 87.3h0M104.2 95.7h0M100.0 98.3h0M107.2 91.0h0M94.0 85.2h0M106.4 95.9h0M101.3 80.6h0M97.9 88.2h0M100.4 95.9h0M105.9 98.0h0M100.7 94.8h0M105.7 82.8h0M97.9 88.4h0M106.1 86.6h0M101.4 94.0h0M108.2 96.0h0M107.6 91.6h0M114.1 86.3h0M102.7 101.6h0M107.8 87.0h0M99.6 92.2h0M108.1 100.4h0M94.8 92.9h0M104.4 101.5h0M100.9 90.1h0M104.3 96.4h0M116.7 94.8h0M102.5 87.6h0M104.6 91.5h0M106.8 93.7h0M98.6 88.3h0M99.7 94.2h0M88.0 89.6h0M102.7 85.6h0M106.8 92.3h0M106.9 96.0h0M108.0 86.3h0M102.0 85.5h0M99.8 93.6h0M100.3 93.0h0M106.0 101.8h0M106.4 100.8h0M99.8 91.9h0M108.7 90.8h0M106.0 95.2h0M104.1 90.9h0M108.3 86.1h0M95.2 78.8h0M103.4 90.2h0M89.4 95.9h0M103.8 85.1h0M103.7 94.9h0M97.1 85.7h0M99.7 94.1h0M109.0 89.5h0M97.9 87.2h0M99.8 97.8h0M97.7 101.3h0M99.7 90.1h0M105.4 99.9h0M100.8 93.5h0M100.3 100.0h0M108.9 98.6h0M104.2 96.1h0M97.2 93.3h0M98.8 90.9h0M104.9 91.9h0M109.9 88.1h0M108.2 89.3h0M102.6 90.0h0M102.4 98.3h0M97.3 97.4h0M106.7 89.2h0M101.7 101.6h0M100.9 98.8h0M102.9 94.1h0M104.1 96.6h0M101.8 101.5h0M103.5 95.3h0M90.8 83.7h0M107.5 99.0h0M93.2 93.4h0M107.1 99.9h0M109.2 99.5h0M99.5 92.1h0M112.6 92.5h0M110.9 89.3h0M103.2 100.9h0M94.2 93.8h0M91.0 89.6h0M102.6 94.3h0M108.6 87.9h0M112.4 92.1h0M97.4 96.6h0M107.0 100.0h0M106.3 89.0h0M104.2 97.0h0M109.4 100.5h0M97.0 83.7h0M93.1 84.5h0M106.5 95.0h0M103.3 88.6h0M103.7 91.8h0M102.9 98.3h0M103.4 98.6h0M113.1 92.9h0M103.9 93.5h0M100.8 101.9h0M104.5 78.6h0M110.0 98.9h0M95.2 95.5h0M101.5 96.1h0M109.3 92.7h0M100.9 98.0h0M107.1 98.8h0M108.0 82.6h0M109.1 101.6h0M105.2 98.3h0M107.2 98.0h0M110.8 90.6h0M99.4 89.8h0M108.6 92.1h0M105.5 91.9h0M98.6 91.6h0M103.0 91.0h0M110.8 98.8h0M107.4 96.0h0M103.2 83.1h0M103.3 89.8h0M107.6 94.0h0M104.5 84.0h0M107.4 96.8h0M90.6 91.5h0M99.2 96.9h0M117.6 90.9h0M112.5 101.0h0M101.1 87.2h0M99.0 96.7h0M102.6 99.1h0M105.2 94.7h0M103.2 97.9h0M100.1 94.5h0M99.2 97.0h0M106.9 100.3h0M102.9 89.5h0M100.5 98.7h0M100.1 96.3h0M105.2 100.2h0M95.5 101.9h0M101.5 97.3h0M99.1 91.8h0M94.7 96.3h0M113.3 88.0h0M111.0 97.7h0M97.7 84.0h0M103.7 92.2h0M109.5 91.3h0M112.4 85.3h0M103.9 97.0h0M112.6 100.3h0M101.0 98.6h0M105.8 97.6h0M100.7 91.2h0M97.2 87.2h0M105.2 99.0h0M100.1 100.4h0M97.0 91.3h0M100.6 87.8h0M97.4 96.6h0M101.4 94.6h0M103.0 88.9h0M110.2 92.9h0M110.0 91.5h0M125.9 94.6h0M107.5 89.7h0M92.3 93.2h0M106.1 95.1h0M111.1 99.9h0M102.2 99.2h0M109.1 93.0h0M95.6 96.7h0M105.7 101.2h0M105.0 97.9h0M103.2 97.2h0M101.5 100.6h0M100.3 84.9h0M97.1 91.7h0M97.7 92.2h0M103.6 96.0h0M108.0 96.2h0M108.9 94.1h0M106.4 95.4h0M95.5 92.6h0M99.6 99.3h0M104.3 96.8h0M94.8 97.8h0M109.3 81.2h0M109.6 97.0h0M101.7 87.8h0M106.5 96.2h0M104.7 88.9h0M93.1 97.4h0M97.1 94.9h0M109.4 91.3h0M97.7 95.3h0M100.5 93.6h0M105.3 94.4h0M95.6 76.6h0M100.5 82.8h0M102.6 94.6h0M101.6 101.1h0M112.0 84.5h0M109.5 94.2h0M94.7 87.2h0M104.1 96.8h0M98.3 100.7h0M102.2 97.5h0M96.7 93.9h0M113.4 84.9h0M105.0 94.0h0M107.5 98.9h0M108.9 96.5h0M115.1 89.2h0M101.1 98.0h0M95.7 95.7h0M105.2 94.9h0M102.7 100.9h0M101.6 90.1h0M108.6 99.8h0M95.6 87.4h0M102.8 100.1h0M102.1 92.5h0M93.0 91.7h0M98.8 97.8h0M104.8 93.2h0M110.0 93.0h0M99.7 99.2h0M107.7 100.9h0M95.2 92.5h0M101.8 96.3h0M104.3 87.1h0M96.0 87.7h0M104.0 82.2h0M98.1 95.5h0M108.1 88.1h0M106.3 88.1h0M105.5 94.0h0M111.6 90.2h0M110.5 100.1h0M96.8 85.8h0M104.9 97.6h0M96.5 97.4h0M98.7 97.4h0M101.0 99.6h0M107.7 84.5h0M106.1 95.8h0M99.7 99.7h0M106.4 101.1h0M93.0 97.1h0M101.6 94.7h0M113.4 98.4h0M110.4 90.5h0M101.8 89.7h0M102.2 93.7h0M109.9 90.4h0M110.8 91.2h0M114.3 91.9h0M100.4 96.6h0M103.2 90.9h0M108.6 99.1h0M109.8 86.5h0M109.7 82.7h0M105.5 92.3h0M99.8 97.8h0M98.4 91.3h0M98.8 101.7h0M109.8 95.2h0M104.4 91.5h0M110.0 100.5h0M100.6 88.6h0M111.1 87.8h0M95.5 97.4h0M107.3 101.9h0M112.2 90.3h0M106.7 98.1h0M111.3 97.5h0M107.0 87.5h0M106.2 95.5h0M106.3 87.0h0M100.2 96.2h0M108.4 93.5h0M111.6 98.1h0M106.9 97.6h0M114.3 90.3h0M109.9 99.2h0M99.6 99.8h0M103.3 90.7h0M102.4 96.4h0M101.0 89.9h0M104.3 95.1h0M99.6 89.7h0M98.2 91.3h0M109.4 98.2h0M99.1 95.2h0M102.7 97.3h0M106.1 83.6h0M97.1 96.9h0M102.2 100.3h0M99.5 82.5h0M101.0 89.7h0M108.2 81.1h0M97.4 86.1h0M112.3 87.3h0M104.4 95.7h0M105.3 97.2h0M109.5 97.4h0M101.1 96.0h0M105.7 98.5h0M110.9 93.6h0M100.9 80.8h0M107.1 93.7h0M108.7 88.5h0M103.0 90.5h0M98.8 87.3h0M102.8 90.8h0M108.5 98.1h0M107.6 92.5h0M107.1 93.9h0M96.4 89.1h0M103.2 99.2h0M103.6 90.3h0M104.8 92.2h0M104.8 84.7h0M106.9 97.5h0M116.9 94.0h0M100.0 100.8h0M105.5 91.4h0M104.3 99.9h0M106.5 82.2h0M103.6 93.0h0M111.9 101.0h0M97.3 94.9h0M90.8 96.1h0M109.6 88.3h0M106.2 93.9h0M103.4 94.8h0M92.4 91.8h0M102.6 90.1h0M91.0 84.9h0M104.1 88.9h0M115.5 92.5h0M105.4 88.0h0M97.5 94.9h0M106.3 94.5h0M103.0 100.4h0M110.7 97.0h0M113.1 89.6h0M112.7 90.3h0M105.7 99.1h0M93.5 97.6h0M94.6 79.6h0M98.0 101.6h0M103.8 93.8h0M102.2 88.1h0M98.6 95.8h0M88.9 99.9h0M102.4 93.7h0M101.6 101.8h0M97.0 96.8h0M107.3 97.2h0M102.5 87.1h0M111.8 85.4h0M98.9 99.3h0M111.0 86.5h0M101.4 93.0h0M99.6 81.2h0M102.2 87.5h0M99.7 82.1h0M99.0 81.8h0M101.4 95.8h0M103.4 94.2h0M101.8 97.1h0M92.2 96.0h0M93.4 96.7h0M95.8 96.7h0M104.1 97.7h0M99.6 93.3h0M103.6 90.8h0M98.6 101.1h0M101.4 96.4h0M101.2 89.8h0M112.9 90.6h0M104.4 96.1h0M106.6 98.6h0M95.6 97.0h0M97.3 93.7h0M107.6 81.4h0M107.8 98.9h0M109.5 91.1h0M97.6 99.6h0M99.8 81.3h0M99.9 97.0h0M110.3 90.4h0M102.6 94.2h0M102.7 93.6h0M108.4 97.2h0M110.2 83.7h0M109.6 89.2h0M98.3 95.8h0M106.4 101.7h0M97.9 96.8h0M109.7 86.6h0M113.4 93.7h0M93.3 91.0h0M108.0 93.5h0M107.7 98.2h0M102.2 84.8h0M105.5 86.7h0M106.8 97.9h0M103.4 97.8h0M105.6 90.8h0M94.3 81.6h0M100.3 90.4h0M98.2 95.1h0M102.9 95.0h0M103.9 80.5h0M91.2 97.5h0M105.3 89.6h0M104.1 99.3h0M94.4 94.9h0M101.6 91.8h0M100.7 79.0h0M104.8 97.2h0M99.3 94.6h0M100.6 92.3h0M106.3 91.7h0M117.0 98.0h0M96.1 97.7h0M108.4 79.6h0M107.5 90.1h0M102.0 92.0h0M94.7 92.0h0M103.1 93.2h0M96.5 93.5h0M103.4 87.6h0M109.0 95.9h0M108.8 92.9h0M106.1 93.4h0M101.8 99.6h0M104.2 90.4h0M100.4 99.2h0M98.9 94.5h0M105.6 81.9h0M109.2 92.7h0M99.9 100.3h0M103.1 95.2h0M107.5 99.8h0M104.8 98.2h0M97.7 90.1h0M108.6 93.5h0M110.6 97.7h0M101.7 88.5h0M104.2 92.3h0M105.6 89.9h0M112.6 94.3h0M107.2 100.1h0M119.2 92.0h0M101.9 97.9h0M107.3 97.2h0M110.5 101.0h0M91.2 92.2h0M99.0 90.7h0M105.9 87.0h0M105.0 100.3h0M111.9 94.5h0M102.3 88.6h0M103.1 93.2h0M96.1 88.7h0M114.3 101.6h0M108.6 84.8h0M103.0 96.8h0M90.1 90.6h0M100.9 101.1h0M100.5 96.4h0M106.1 86.7h0M95.7 98.7h0M107.0 100.4h0M103.0 89.5h0M93.2 94.9h0M104.1 83.2h0M102.7 97.8h0M106.0 89.8h0M99.6 92.8h0M104.5 94.4h0M83.8 86.4h0M99.6 91.9h0M105.8 88.2h0M93.1 94.2h0M105.6 98.9h0M109.9 98.5h0M103.7 101.7h0M107.2 82.1h0M115.4 96.3h0M102.8 91.3h0M101.1 87.2h0M106.3 91.0h0M105.5 84.8h0M108.6 99.1h0M109.1 98.2h0M107.7 95.3h0M106.2 101.1h0M104.6 86.2h0M104.5 96.0h0M114.9 96.9h0M96.9 91.1h0M107.9 92.6h0M99.4 101.4h0M104.1 97.3h0M100.5 95.0h0M105.0 91.0h0M102.1 85.3h0M106.3 87.3h0M105.0 92.5h0M106.8 101.7h0M105.7 98.2h0M103.4 84.1h0M109.1 94.8h0M112.1 87.0h0M110.0 96.6h0M104.8 97.5h0M113.3 88.8h0M110.2 97.3h0M103.1 94.3h0M98.2 93.9h0M107.8 98.8h0M101.2 95.1h0M110.5 90.1h0M104.4 100.1h0M110.7 100.1h0M100.0 100.9h0M101.8 97.0h0M107.3 99.4h0M94.7 90.5h0M108.5 96.2h0M104.9 92.0h0M102.3 89.2h0M104.9 97.4h0M102.1 93.6h0M103.1 96.2h0M108.0 94.2h0M100.4 89.8h0M101.9 91.7h0M105.3 90.5h0M100.4 85.9h0M100.0 93.4h0M103.2 98.5h0M106.4 97.4h0M100.1 92.4h0M103.3 97.7h0M103.6 86.2h0M109.3 88.0h0M97.7 94.2h0M103.6 94.9h0M99.4 90.7h0M99.4 92.2h0M105.8 99.3h0M108.9 100.3h0M91.3 90.2h0M97.8 96.7h0M97.2 96.6h0M110.7 90.8h0M103.1 101.0h0M98.9 91.7h0M108.3 92.5h0M108.5 87.1h0M106.0 97.1h0M95.7 91.0h0M100.3 98.0h0M100.3 95.1h0M108.5 97.1h0M101.4 95.7h0M95.0 94.7h0M91.1 89.6h0M108.7 100.8h0M113.6 95.3h0M107.7 92.5h0M106.6 95.3h0M90.8 93.7h0M112.5 88.1h0M102.4 96.5h0M100.6 88.9h0M108.8 94.0h0M100.8 100.2h0M107.4 99.6h0M115.6 92.9h0M104.4 90.9h0M101.4 100.0h0M106.8 96.0h0M108.5 90.6h0M100.7 96.5h0M101.8 76.4h0M105.2 100.4h0M100.7 83.5h0M110.7 96.2h0M104.6 96.3h0M104.3 90.0h0M101.6 97.7h0M100.0 92.2h0M106.6 93.8h0M103.3 90.7h0M109.7 90.8h0M95.1 85.6h0M103.9 93.4h0M104.3 96.4h0M102.3 91.4h0M88.9 93.8h0M112.6 84.9h0M99.3 95.4h0M107.6 100.6h0M100.9 96.9h0M105.6 93.3h0M104.9 91.7h0M103.1 95.7h0M107.8 91.4h0M103.4 95.8h0M100.8 96.2h0M101.7 98.0h0M102.8 97.2h0M101.0 93.1h0M95.9 83.8h0M101.4 99.3h0M90.8 97.5h0M102.0 87.5h0M107.6 101.2h0M101.5 96.0h0M103.7 86.4h0M97.8 82.3h0M98.8 91.6h0M99.3 88.7h0M103.9 95.3h0M103.0 93.3h0M101.4 89.6h0M112.5 93.7h0M105.2 100.6h0M96.2 92.6h0M107.5 92.6h0M107.2 99.7h0M110.0 94.1h0M109.4 101.2h0M102.5 86.7h0M104.9 99.2h0M97.5 86.4h0M105.8 99.4h0M103.9 94.9h0M100.5 92.2h0M111.9 83.3h0M98.3 99.9h0M107.0 94.5h0M101.5 96.6h0M104.8 94.0h0M98.8 92.0h0M120.0 92.1h0M118.7 93.2h0M104.9 98.0h0M99.2 96.4h0M107.4 88.0h0M100.5 88.6h0M108.0 92.2h0M108.2 99.1h0M99.7 92.2h0M104.6 90.0h0M105.5 97.6h0M106.1 87.4h0M107.4 95.3h0M110.2 97.8h0M94.4 92.0h0M96.0 96.5h0M102.4 96.8h0M111.9 84.7h0M103.1 92.6h0M104.8 88.1h0M106.6 101.7h0M107.1 88.8h0M106.6 93.0h0M104.2 90.8h0M114.1 88.4h0M103.7 96.4h0M111.5 96.5h0M109.9 96.2h0M100.4 95.1h0M99.2 92.7h0M105.3 90.9h0M92.0 93.3h0M104.6 90.2h0M102.3 90.6h0M106.1 93.0h0M108.9 97.5h0M97.5 95.1h0M102.4 95.3h0M103.1 85.4h0M102.2 97.6h0M104.3 95.7h0M102.8 93.1h0M110.6 101.1h0M102.6 91.8h0M107.7 89.5h0M96.9 82.5h0M96.9 96.2h0M102.8 88.6h0M110.0 93.1h0M95.9 94.0h0M106.6 100.9h0M109.4 87.7h0M99.6 92.6h0M100.4 97.3h0M96.0 97.2h0M106.9 95.6h0M114.8 90.0h0M107.4 83.9h0M101.3 94.9h0M99.2 89.4h0M95.4 98.9h0M101.0 100.7h0M110.7 89.0h0M104.7 90.1h0M98.1 97.6h0M108.2 90.6h0M103.8 98.1h0M104.4 100.4h0M99.7 97.2h0M103.9 84.6h0M104.7 93.3h0M105.9 87.3h0M105.8 93.9h0M103.9 93.6h0M100.3 95.5h0M110.2 98.1h0M105.7 96.4h0M97.9 96.4h0M103.0 92.4h0M97.1 83.7h0M107.4 88.1h0M105.0 87.6h0M100.6 96.8h0M106.5 83.3h0M104.5 94.9h0M100.8 99.3h0M104.2 90.8h0M103.7 83.0h0M98.1 101.1h0M109.4 87.2h0M111.0 100.1h0M95.4 83.4h0M103.9 81.4h0M108.3 95.8h0M100.9 101.6h0M101.1 98.3h0M92.1 90.2h0M94.1 86.9h0M101.8 96.9h0M95.6 90.5h0M104.7 88.1h0M92.1 94.0h0M103.6 98.0h0M105.5 101.5h0M105.1 82.1h0M105.0 99.9h0M105.1 92.4h0M97.5 86.2h0M104.2 91.9h0M101.6 92.9h0M103.2 89.7h0M104.0 96.5h0M114.3 96.8h0M103.1 92.2h0M98.4 95.0h0M97.9 98.4h0M112.1 87.4h0M103.6 87.8h0M110.4 90.5h0M108.7 101.4h0M112.4 95.9h0M101.6 85.2h0M98.2 97.4h0M109.7 85.6h0M103.0 94.3h0M99.7 79.7h0M98.1 98.0h0M106.4 96.9h0M107.0 87.0h0M94.3 88.0h0M112.2 86.1h0M102.4 89.1h0M108.2 86.3h0M100.9 84.8h0M105.5 95.0h0M101.7 92.3h0M102.2 90.3h0M115.1 101.5h0M107.5 95.5h0M96.3 100.1h0M105.8 96.4h0M114.9 89.5h0M106.0 94.5h0M102.2 93.4h0M99.5 98.1h0M93.8 94.7h0M104.1 93.6h0M98.3 86.2h0M94.6 86.5h0M89.2 93.4h0M101.0 98.2h0M93.1 87.9h0M105.7 101.7h0M100.1 81.4h0M101.7 99.9h0M101.0 90.8h0M105.7 95.0h0M95.5 101.9h0M106.2 89.3h0M110.4 101.8h0M103.9 89.8h0M105.0 97.4h0M106.3 90.7h0M95.9 87.7h0M104.7 99.9h0M102.4 101.2h0M105.1 91.4h0M104.9 91.3h0M98.7 92.7h0M103.5 98.6h0M101.6 78.7h0M105.1 98.3h0M101.1 94.0h0M96.8 85.4h0M108.4 96.2h0M106.8 91.3h0M108.6 95.8h0M94.9 91.6h0M101.6 95.0h0M98.4 88.0h0M97.6 94.2h0M107.4 99.0h0M103.4 89.4h0M101.5 89.3h0M100.1 89.8h0M102.8 85.5h0M101.5 95.0h0M101.4 92.4h0M106.9 91.6h0M99.6 94.3h0M100.3 94.0h0M106.2 97.1h0M103.9 84.6h0M100.5 97.4h0M107.0 101.4h0M107.4 96.1h0M107.6 88.7h0M107.3 92.5h0M98.5 84.5h0M97.1 95.3h0M93.5 91.5h0M99.5 94.1h0M96.9 95.8h0M98.5 95.5h0M107.3 87.4h0M105.6 95.4h0M109.5 76.1h0M106.8 90.3h0M107.1 94.3h0M104.5 91.9h0M99.7 95.4h0M102.1 98.4h0M96.8 98.9h0M100.9 84.6h0M102.6 97.8h0M98.6 90.3h0M101.7 90.6h0M105.6 88.4h0M106.7 90.4h0M115.2 87.2h0M108.3 89.3h0M104.1 92.5h0M101.5 88.3h0M105.3 100.8h0M97.4 84.9h0M112.2 87.6h0M97.8 96.6h0M106.0 95.9h0M96.1 98.2h0M92.9 99.7h0M113.7 98.0h0M108.6 96.3h0M98.1 95.9h0M94.8 99.9h0M98.8 92.6h0M103.2 98.0h0M101.5 95.2h0M100.1 88.9h0M100.8 94.6h0M113.7 97.5h0M108.4 93.4h0M106.4 100.9h0M109.6 80.5h0M114.5 100.1h0M108.3 96.1h0M109.6 89.6h0M94.6 93.2h0M106.6 89.9h0M109.0 86.5h0M101.3 100.5h0M96.5 91.7h0M110.4 84.0h0M101.6 85.2h0M103.4 84.9h0M100.1 91.1h0M97.3 95.3h0M108.2 93.6h0M110.5 91.9h0M103.6 91.3h0M101.6 93.1h0M102.6 82.7h0M95.0 95.6h0M99.9 97.0h0M96.0 101.6h0M104.5 90.1h0M102.1 98.6h0M101.0 95.0h0M108.6 95.0h0M106.4 88.9h0M105.5 94.5h0M105.4 93.3h0M96.5 91.4h0M108.9 85.6h0M97.9 92.6h0M108.4 100.9h0M105.3 90.2h0M110.7 100.1h0M112.5 99.5h0M100.3 97.5h0M102.5 82.9h0M99.6 97.7h0M102.9 99.6h0M100.0 92.5h0M106.6 92.6h0M104.6 88.6h0M96.8 86.3h0M103.6 83.5h0M99.9 95.3h0M98.5 93.7h0M96.1 99.6h0M104.8 83.8h0M108.8 91.2h0M106.1 81.8h0M96.2 101.0h0M108.6 99.1h0M98.6 96.7h0M113.9 92.7h0M106.6 92.1h0M101.8 98.1h0M98.2 100.9h0M108.9 93.5h0M102.3 84.9h0M105.3 98.6h0M102.6 90.9h0M101.1 92.3h0M118.9 96.4h0M96.7 101.3h0M102.4 84.1h0M115.8 88.0h0M101.5 96.2h0M110.9 93.0h0M111.7 91.8h0M101.1 90.7h0M99.6 92.2h0M112.6 92.0h0M105.4 96.0h0M102.9 92.3h0M105.5 94.0h0M91.5 90.9h0M92.6 101.5h0M101.4 91.9h0M109.7 88.0h0M98.3 88.2h0M106.2 95.8h0M102.2 98.9h0M111.9 86.9h0M104.2 90.0h0M102.5 96.2h0M96.6 82.0h0M108.7 92.1h0M107.8 89.0h0M108.1 94.5h0M109.3 91.7h0M97.8 87.0h0M103.1 98.1h0M98.2 97.7h0M106.3 86.9h0M101.1 95.4h0M106.5 97.5h0M101.3 93.0h0M107.1 100.0h0M106.3 90.2h0M108.1 95.4h0M107.4 100.9h0M108.7 100.0h0M112.7 95.6h0M97.4 87.6h0M91.4 82.8h0M100.8 91.7h0M102.8 101.4h0M105.1 90.3h0M106.9 99.7h0M96.9 93.9h0M105.7 91.3h0M112.7 97.7h0M108.2 93.3h0M102.5 82.8h0M100.9 98.9h0M100.7 93.3h0M92.5 90.0h0M103.3 93.9h0M99.8 92.4h0M107.6 100.3h0M97.7 99.4h0M105.8 93.9h0M104.6 99.0h0M98.6 94.8h0M102.2 85.5h0M108.7 83.7h0M107.3 93.9h0M106.1 89.5h0M103.2 97.7h0M99.2 95.4h0M104.6 89.4h0M104.0 98.5h0M102.4 85.8h0M100.1 90.5h0M104.9 87.2h0M107.2 87.7h0M105.6 86.3h0M102.7 97.2h0M101.7 83.8h0M99.2 95.8h0M104.5 99.2h0M103.3 101.5h0M97.6 94.7h0M97.3 92.8h0M95.1 91.5h0M103.1 96.8h0M106.6 101.0h0M99.3 92.1h0M109.9 91.4h0M103.4 85.4h0M96.2 91.8h0M100.6 94.1h0M109.8 85.7h0M102.9 90.7h0M103.1 94.9h0M98.1 90.2h0M97.2 89.9h0M96.0 99.7h0M102.4 95.4h0M89.5 94.4h0M104.7 91.3h0M105.5 93.1h0M110.1 98.9h0M96.8 91.1h0M105.0 88.7h0M104.5 98.4h0M100.6 95.7h0M101.3 98.2h0M88.2 93.8h0M102.8 90.8h0M110.5 84.5h0M104.7 87.5h0M95.6 92.6h0M93.8 92.7h0M116.1 98.8h0M105.1 84.7h0M91.6 90.5h0M96.9 96.3h0M96.4 91.1h0M115.3 87.7h0M107.5 97.8h0M116.3 85.8h0M99.9 92.5h0M105.8 93.8h0M110.6 96.8h0M97.9 96.4h0M112.0 96.1h0M102.6 101.1h0M99.7 97.0h0M110.4 96.4h0M103.9 101.4h0M112.2 97.1h0M116.0 91.3h0M95.9 96.1h0M103.7 99.9h0M115.1 98.7h0M104.4 100.2h0M95.3 93.8h0M107.2 96.8h0M105.1 90.4h0M97.8 93.4h0M103.1 97.8h0M107.8 93.4h0M104.1 86.6h0M109.5 82.1h0M101.8 91.8h0M100.2 100.1h0M103.5 86.2h0M110.6 92.8h0M112.1 99.8h0M99.9 98.4h0M105.9 84.1h0M99.5 95.5h0M108.1 91.8h0M102.6 77.7h0M114.8 85.8h0M96.9 101.4h0M98.8 92.6h0M96.2 93.6h0M104.2 97.3h0M108.3 94.9h0M96.9 93.0h0M94.0 84.9h0M101.4 98.9h0M99.6 94.1h0M106.5 93.0h0M100.4 99.0h0M104.7 99.0h0M97.7 94.2h0M105.8 90.0h0M106.2 100.0h0M98.2 98.4h0M94.2 93.0h0M107.4 101.6h0M104.4 94.9h0M106.7 99.6h0M106.0 89.6h0M111.5 97.4h0M107.1 88.0h0M110.2 100.2h0M110.0 90.1h0M91.6 92.4h0M104.1 88.4h0M101.3 84.9h0M103.4 90.3h0M98.3 96.7h0M98.5 101.3h0M101.1 92.8h0M104.7 96.8h0M102.2 91.8h0M93.1 94.4h0M111.2 95.9h0M105.8 98.1h0M105.8 86.5h0M106.7 93.9h0M104.7 98.3h0M104.8 91.5h0M98.0 87.1h0M112.9 82.1h0M101.0 93.7h0M100.0 98.4h0M97.5 89.5h0M107.5 86.9h0M98.5 92.7h0M107.1 95.2h0M102.8 91.9h0M102.9 97.2h0M113.3 85.0h0M104.3 84.6h0M112.6 81.5h0M103.2 99.4h0M105.6 94.8h0M102.4 93.0h0M95.1 95.4h0M104.6 98.0h0M103.1 99.6h0M101.9 89.4h0M102.4 91.7h0M104.9 99.0h0M105.5 89.8h0M105.1 96.1h0M100.7 92.6h0M102.3 91.4h0M102.0 93.2h0M96.0 86.5h0M97.6 100.3h0M102.4 101.7h0M100.5 92.4h0M100.2 98.1h0M102.9 96.5h0M109.9 88.0h0M106.6 94.4h0M108.4 86.2h0M104.5 96.8h0M105.9 100.7h0M106.1 86.5h0M100.7 87.0h0M100.6 84.2h0M106.4 86.0h0M96.6 96.5h0M106.1 97.4h0M103.9 84.6h0M108.9 98.3h0M109.2 90.9h0M101.5 88.5h0M108.9 88.6h0M90.2 97.9h0M103.3 100.1h0M101.5 95.4h0M96.7 88.5h0M118.9 98.2h0M100.8 91.4h0M107.1 95.0h0M100.6 88.5h0M109.0 86.8h0M109.1 83.3h0M97.0 88.3h0M104.2 98.6h0M93.5 94.1h0M103.4 98.9h0M98.5 95.1h0M109.1 98.6h0M101.8 93.0h0M113.6 86.5h0M100.7 96.4h0M109.1 97.6h0M105.5 97.0h0M98.2 99.2h0M95.8 87.9h0M99.9 95.8h0M93.8 87.4h0M98.2 94.1h0M97.1 84.7h0M109.6 97.5h0M102.2 91.1h0M107.5 93.2h0M96.5 90.9h0M104.9 98.8h0M110.1 96.1h0M112.7 88.9h0M91.6 99.8h0M111.1 88.1h0M98.8 87.0h0M116.1 100.6h0M109.0 82.0h0M108.5 86.8h0M109.0 95.5h0M101.8 90.2h0M104.1 101.6h0M104.9 92.1h0M111.2 93.6h0M101.1 85.1h0M98.6 90.2h0M105.6 86.1h0M104.8 87.2h0M103.1 90.5h0M102.5 93.4h0M110.4 100.9h0M104.3 96.4h0M88.1 87.2h0M94.8 98.4h0M105.3 97.3h0M105.0 94.5h0M105.7 96.0h0M106.5 92.5h0M104.0 94.6h0M93.9 96.5h0M95.7 89.6h0M100.4 96.2h0M109.5 94.0h0M114.1 89.2h0M105.8 92.6h0M105.3 93.9h0M106.5 91.5h0M93.9 90.4h0M98.1 92.3h0M112.6 96.4h0M99.6 92.2h0M109.2 95.3h0M105.0 95.0h0M100.6 79.6h0M100.8 96.4h0M102.3 99.1h0M106.9 92.1h0M100.0 95.4h0M104.2 97.7h0M94.2 90.4h0M112.9 96.0h0M91.7 87.4h0M106.5 92.1h0M106.9 99.4h0M92.8 86.3h0M105.3 86.0h0M105.1 92.1h0M105.1 88.5h0M90.4 99.0h0M103.3 94.6h0M103.3 97.7h0M97.6 92.4h0M98.8 94.9h0M106.9 82.0h0M110.4 97.0h0M106.5 95.1h0M98.5 91.9h0M97.1 95.9h0M113.3 88.8h0M101.6 95.0h0M102.5 96.7h0M103.9 88.7h0M104.8 88.5h0M113.0 95.6h0M94.3 85.4h0M102.9 96.2h0M106.8 89.2h0M96.8 86.8h0M107.2 93.2h0M106.0 101.5h0M106.8 88.3h0M105.4 88.4h0M105.8 90.4h0M116.6 93.3h0M95.5 101.4h0M103.9 83.8h0M99.0 96.5h0M107.1 93.8h0M105.6 86.1h0M107.1 88.9h0M106.7 100.7h0M104.6 89.4h0M100.5 96.6h0M109.3 96.9h0M100.8 93.2h0M101.9 100.1h0M102.7 91.2h0M107.4 83.4h0M97.6 95.7h0M102.9 98.9h0M102.7 83.1h0M105.0 85.4h0M101.2 96.9h0M100.3 84.6h0M108.0 100.7h0M103.2 94.0h0M104.3 88.0h0M105.2 96.1h0M111.5 94.3h0M115.0 87.9h0M105.1 92.5h0M91.7 92.6h0M103.8 84.3h0M103.7 96.4h0M103.2 93.4h0M97.1 91.2h0M96.1 91.3h0M109.0 90.9h0M110.9 88.7h0M98.0 91.1h0M104.5 94.9h0M104.5 92.1h0M103.3 87.8h0M97.9 90.7h0M108.2 87.3h0M110.9 96.7h0M102.1 91.3h0M100.4 97.7h0M102.0 99.5h0M103.6 90.0h0M104.5 98.1h0M110.5 92.8h0M99.0 84.4h0M96.6 81.4h0M105.1 96.8h0M94.5 99.0h0M97.6 90.6h0M101.7 100.9h0M101.9 86.7h0M108.5 92.0h0M108.9 81.1h0M94.1 97.1h0M100.8 95.2h0M101.2 96.2h0M94.0 88.3h0M99.6 89.3h0M96.8 90.3h0M107.2 97.2h0M90.1 92.2h0M96.7 94.3h0M103.0 90.0h0M98.7 97.7h0M112.3 101.2h0M97.5 93.8h0M96.4 99.3h0M95.0 92.0h0M96.7 95.0h0M98.2 98.0h0M115.0 86.6h0M107.9 87.9h0M104.4 84.6h0M105.3 84.3h0M95.9 95.5h0M97.8 88.7h0M97.6 91.2h0M103.7 98.3h0M105.7 85.3h0M99.0 91.6h0M111.6 89.7h0M101.5 86.1h0M104.9 98.7h0M96.0 90.5h0M97.7 88.2h0M106.0 100.8h0M106.5 88.4h0M100.8 99.9h0M109.7 92.0h0M110.2 91.6h0M103.0 91.4h0M94.3 83.7h0M103.5 91.2h0M101.2 93.4h0M98.6 90.6h0M105.5 83.1h0M103.0 94.0h0M95.5 98.5h0M109.2 87.4h0M106.3 89.0h0M106.6 88.4h0M94.5 90.2h0M94.6 91.4h0M102.2 89.0h0M113.6 90.7h0M105.7 89.8h0M106.7 91.3h0M97.4 99.0h0M105.7 101.1h0M98.2 98.0h0M105.0 101.2h0M108.1 82.6h0M94.9 95.8h0M98.0 98.7h0M106.6 92.6h0M101.6 98.5h0M104.5 80.7h0M114.7 95.1h0M101.7 88.3h0M104.5 95.4h0M109.4 93.5h0M105.6 95.3h0M104.7 96.9h0M113.3 101.3h0M91.0 96.5h0M97.3 89.7h0M97.4 95.0h0M111.7 95.4h0M104.9 100.7h0M99.3 94.8h0M99.7 92.0h0M107.7 93.1h0M104.0 92.6h0M101.5 94.3h0M103.5 84.1h0M104.7 87.0h0M110.0 96.1h0M110.7 80.7h0M100.9 88.2h0M107.1 98.5h0M103.6 100.0h0M108.7 97.0h0M100.5 97.2h0M105.8 83.7h0M111.2 93.6h0M102.4 92.1h0M97.7 85.5h0M108.3 87.9h0M103.9 95.3h0M105.7 80.1h0M107.2 95.8h0M105.8 89.3h0M98.8 93.1h0M94.0 99.0h0M107.1 94.8h0M94.6 96.0h0M101.2 93.6h0M101.0 97.7h0M100.4 91.5h0M103.8 96.4h0M102.4 95.6h0M107.0 93.4h0M97.6 96.2h0M114.0 87.9h0M108.4 85.4h0M107.4 99.9h0M99.6 99.1h0M104.7 80.7h0M105.6 97.1h0M111.3 87.0h0M106.6 95.6h0M102.3 98.2h0M101.5 94.5h0M91.9 91.3h0M102.9 89.2h0M96.2 92.2h0M103.2 89.4h0M103.5 94.3h0M100.4 90.9h0M107.6 98.9h0M102.1 96.2h0M99.6 84.9h0M110.4 87.6h0M106.9 99.8h0M104.6 91.7h0M104.7 99.1h0M99.5 101.2h0M93.0 89.4h0M107.0 97.2h0M104.9 93.6h0M97.7 95.3h0M99.3 99.6h0M99.8 98.6h0M118.6 96.2h0M106.8 82.8h0M100.5 87.8h0M94.5 89.8h0M98.7 98.3h0M101.4 99.1h0M107.0 98.9h0M97.7 100.6h0M114.6 93.8h0M98.5 95.4h0M97.7 94.4h0M105.3 86.2h0M107.6 89.1h0M109.2 97.5h0M106.0 83.3h0M104.6 90.8h0M98.0 89.3h0M103.2 92.3h0M106.1 101.1h0M102.7 83.2h0M98.3 101.4h0M101.0 89.7h0M101.0 99.5h0M105.4 85.7h0M100.0 91.2h0M103.4 97.6h0M92.4 87.4h0M106.9 93.4h0M103.9 96.0h0M99.1 99.3h0M106.4 94.2h0M108.3 83.9h0M110.8 79.7h0M108.1 94.1h0M111.8 93.8h0M100.0 99.4h0M98.0 96.1h0M100.2 88.6h0M107.2 98.7h0M107.5 98.1h0M102.8 94.3h0M101.5 79.3h0M106.2 95.0h0M103.0 95.4h0M108.2 94.7h0M96.9 100.6h0M101.1 88.6h0M97.8 95.4h0M106.1 98.9h0M112.7 92.8h0M91.5 98.7h0M105.8 94.9h0M102.6 100.0h0M107.9 76.3h0M94.4 101.2h0M97.4 95.7h0M100.7 93.1h0M94.5 87.6h0M100.2 90.7h0M101.8 96.6h0M111.4 97.7h0M103.2 91.7h0M102.0 85.3h0M100.4 89.4h0M104.2 101.1h0M106.6 92.2h0M99.7 97.2h0M96.4 89.7h0M110.8 92.2h0M101.4 94.8h0M94.3 86.8h0M110.6 82.1h0M106.4 95.4h0M104.4 82.2h0M101.3 90.4h0M103.9 89.1h0M110.8 90.2h0M95.5 100.5h0M105.2 97.9h0M106.2 94.5h0M97.9 96.5h0M106.1 95.3h0M101.8 101.9h0M104.1 87.8h0M103.9 94.5h0M102.2 98.0h0M99.8 87.1h0M102.0 94.0h0M101.1 96.8h0M107.4 87.3h0M102.5 91.1h0M104.3 96.3h0M95.7 91.3h0M100.0 87.7h0M101.4 95.8h0M109.1 88.9h0M102.3 89.6h0M92.1 82.9h0M95.2 89.6h0M102.5 94.5h0M108.5 96.4h0M104.0 84.1h0M110.6 101.9h0M99.5 90.1h0M105.4 98.7h0M104.4 92.5h0M106.0 86.3h0M103.7 87.7h0M102.0 92.0h0M100.6 93.2h0M118.6 97.6h0M99.3 90.1h0M110.3 95.6h0M106.8 99.2h0M110.8 88.6h0M97.3 87.5h0M103.2 94.2h0M97.7 86.8h0M101.8 94.9h0M108.2 92.7h0M103.2 98.3h0M100.7 98.1h0M98.3 96.1h0M104.4 92.4h0M108.6 92.5h0M106.2 102.0h0M102.2 90.6h0M105.2 99.4h0M103.9 92.3h0M109.8 76.0h0M96.6 96.6h0M104.7 89.6h0M109.1 89.2h0M101.4 89.9h0M105.0 89.5h0M109.1 96.4h0M105.2 83.4h0M104.7 102.0h0M102.0 93.4h0M104.7 98.8h0M112.3 93.4h0M100.5 94.6h0M93.3 96.4h0M98.9 75.4h0M97.3 98.2h0M97.1 99.4h0M95.1 97.5h0M111.1 93.3h0M104.6 95.1h0M88.8 99.9h0M95.5 89.9h0M109.6 91.7h0M97.4 89.3h0M108.2 96.7h0M92.4 95.0h0M108.1 95.7h0M97.6 92.0h0M98.0 93.4h0M101.5 93.8h0M95.2 95.1h0M112.4 86.5h0M101.1 84.0h0M95.6 94.3h0M100.7 83.7h0M104.6 93.2h0M105.9 92.7h0M100.7 92.5h0M99.9 95.6h0M105.7 94.2h0M109.3 80.4h0M97.1 93.7h0M101.6 81.8h0M107.1 86.8h0M115.6 87.6h0M104.0 90.9h0M100.5 96.6h0M102.8 94.0h0M100.6 91.4h0M99.6 92.4h0M94.6 98.0h0M103.3 96.1h0M114.6 87.0h0M104.2 91.0h0M103.3 81.9h0M112.9 96.6h0M102.2 100.7h0M103.3 99.8h0M113.3 84.2h0M100.9 87.4h0M105.2 95.5h0M99.8 90.6h0M109.5 100.7h0M98.2 95.3h0M97.0 96.2h0M104.1 99.8h0M101.2 91.2h0M109.7 87.8h0M101.3 90.6h0M96.5 97.6h0M105.8 86.4h0M113.1 101.7h0M101.1 95.4h0M96.8 88.8h0M107.5 92.6h0M97.6 101.5h0M99.4 92.3h0M109.4 90.0h0M105.6 94.1h0M101.8 97.7h0M117.8 90.0h0M103.3 80.5h0M103.7 93.4h0M91.3 99.0h0M108.8 92.8h0M99.1 91.7h0M106.2 90.8h0M102.8 98.1h0M95.1 91.6h0M105.7 90.0h0M101.5 99.8h0M113.1 91.3h0M90.3 95.8h0M103.8 88.0h0M105.2 93.9h0M104.2 97.7h0M101.7 92.7h0M105.2 95.8h0M109.4 81.1h0M109.6 90.4h0M103.9 89.4h0M101.8 97.3h0M94.8 89.8h0M102.0 99.6h0M100.1 100.6h0M112.3 94.2h0M105.2 96.5h0M98.8 94.6h0M106.0 97.6h0M97.2 99.9h0M96.5 91.4h0M94.9 93.4h0M104.7 95.7h0M104.5 94.6h0M106.9 97.9h0M108.2 93.8h0M104.5 89.7h0M108.8 89.0h0M92.9 95.7h0M91.5 100.9h0M115.4 98.3h0M92.6 99.0h0M106.7 100.9h0M97.1 98.4h0M95.3 91.5h0M105.2 84.7h0M102.3 98.5h0M101.8 95.0h0M103.3 93.7h0M101.0 91.4h0M99.9 88.4h0M108.9 100.7h0M100.7 99.7h0M108.2 91.0h0M97.2 97.5h0M102.7 93.6h0M97.1 98.6h0M97.8 97.0h0M108.1 86.8h0M88.8 90.7h0M97.0 94.3h0M98.1 76.3h0M101.3 95.7h0M108.4 101.5h0M101.3 86.4h0M107.1 94.3h0M104.6 91.8h0M109.8 90.8h0M106.2 95.4h0M102.2 94.0h0M100.8 85.3h0M95.4 85.1h0M104.1 97.8h0M102.0 91.9h0M103.9 99.9h0M95.1 95.3h0M104.7 91.0h0M103.6 91.0h0M114.8 90.1h0M103.0 98.8h0M105.3 91.4h0M106.5 95.0h0M107.7 98.7h0M103.6 90.8h0M95.6 82.8h0M101.5 97.5h0M99.2 101.2h0M98.0 91.2h0M106.9 92.8h0M105.2 90.0h0M101.5 99.5h0M101.0 93.2h0M102.3 101.2h0M99.5 93.8h0M106.6 91.2h0M99.9 93.0h0M109.4 101.7h0M103.9 99.2h0M102.5 87.8h0M107.2 85.7h0M104.4 87.6h0M100.0 97.3h0M107.0 94.9h0M98.9 96.8h0M102.9 86.1h0M106.0 95.7h0M107.7 95.4h0M105.3 85.0h0M100.7 88.0h0M106.3 90.1h0M101.1 93.3h0M101.7 95.4h0M105.2 96.4h0M96.5 91.0h0M91.1 101.9h0M113.2 101.6h0M106.8 90.2h0M106.0 93.0h0M106.1 96.0h0M100.0 89.4h0M107.0 88.0h0M108.6 92.2h0M104.1 101.3h0M101.9 101.0h0M106.8 82.1h0M112.3 86.5h0M102.7 92.2h0M104.3 99.1h0M106.2 90.0h0M93.3 85.2h0M99.0 93.4h0M99.0 100.6h0M108.0 95.0h0M100.2 93.2h0M103.3 90.9h0M105.6 88.6h0M114.3 91.5h0M104.2 94.8h0M114.1 97.2h0M104.0 94.7h0M95.2 89.8h0M110.2 77.0h0M97.3 94.7h0M105.6 96.1h0M104.8 88.3h0M103.4 101.8h0M107.0 96.2h0M105.9 99.9h0M87.6 93.1h0M111.7 83.6h0M107.9 85.6h0M99.9 89.2h0M100.6 95.3h0M105.0 92.8h0M95.1 97.6h0M111.3 94.1h0M96.5 101.1h0M110.0 90.1h0M103.7 97.7h0M109.3 96.6h0M104.5 92.4h0M101.8 93.6h0M106.1 101.7h0M100.5 98.0h0M101.3 99.4h0M99.3 100.2h0M114.0 94.1h0M104.5 93.0h0M108.3 83.6h0M114.3 90.4h0M103.4 95.6h0M105.1 92.9h0M101.2 90.6h0M105.2 88.1h0M104.8 98.8h0M106.2 100.0h0M103.8 95.6h0M109.1 91.7h0M102.9 88.8h0M95.5 98.7h0M105.2 100.3h0M106.5 98.9h0M115.2 79.6h0M104.8 100.4h0M103.7 99.9h0M103.5 81.4h0M91.6 94.8h0M112.8 86.9h0M106.7 89.8h0M98.6 85.4h0M100.9 93.9h0M96.9 76.8h0M99.8 94.9h0M99.5 97.9h0M98.7 90.6h0M95.8 100.7h0M102.4 91.8h0M101.4 92.3h0M111.6 88.2h0M97.8 91.1h0M99.0 101.7h0M89.5 96.3h0M106.4 89.3h0M104.3 100.2h0M101.8 86.0h0M104.6 101.2h0M98.0 92.7h0M106.7 97.5h0M92.7 100.4h0M101.0 88.0h0M111.6 89.3h0M101.0 96.1h0M109.5 101.4h0M98.8 100.3h0M96.3 81.5h0M104.5 85.1h0M113.2 92.1h0M113.9 85.7h0M108.7 93.4h0M104.3 88.3h0M105.4 96.2h0M119.1 94.7h0M106.5 92.4h0M109.0 92.3h0M104.3 94.3h0M103.9 96.7h0M103.4 86.3h0M108.2 91.8h0M98.1 88.7h0M103.8 96.0h0M108.5 91.2h0M99.4 98.8h0M109.5 101.9h0M91.8 98.5h0M103.8 94.3h0M105.0 101.0h0M95.6 92.4h0M107.2 101.2h0M109.5 94.7h0M112.2 92.6h0M99.6 93.2h0M111.5 92.6h0M96.2 95.7h0M104.0 96.7h0M105.0 83.5h0M96.4 93.7h0M98.4 98.4h0M104.8 92.5h0M104.9 94.8h0M94.6 96.1h0M107.9 90.4h0M99.5 93.8h0M107.3 96.4h0M99.5 94.3h0M100.4 85.1h0M94.3 90.8h0M99.7 86.9h0M93.4 85.2h0M108.9 96.3h0M104.0 87.7h0M108.2 88.4h0M91.1 92.6h0M113.6 91.5h0M106.2 87.8h0M103.6 90.0h0M88.0 95.5h0M106.2 98.0h0M111.4 100.1h0M93.5 97.5h0M104.0 94.4h0M104.5 89.2h0M100.4 86.5h0M107.4 86.6h0M105.0 98.8h0M101.2 99.3h0M102.3 100.3h0M105.3 101.3h0M103.3 95.4h0M98.8 98.3h0M109.9 96.5h0M108.4 90.9h0M97.1 87.9h0M97.5 94.1h0M97.5 91.7h0M104.3 93.2h0M98.0 96.3h0M104.8 86.6h0M106.3 87.5h0M99.6 100.6h0M114.4 91.4h0M101.0 100.7h0M98.9 93.2h0M100.8 87.1h0M108.2 85.8h0M102.6 98.2h0M100.6 92.5h0M103.3 100.6h0M99.3 95.9h0M110.0 94.1h0M96.2 95.9h0M88.5 93.9h0M105.2 99.0h0M105.5 88.3h0M107.9 100.2h0M104.3 94.9h0M101.6 88.0h0M103.6 90.7h0M108.5 101.6h0M94.3 93.8h0M112.9 91.7h0M94.9 87.9h0M102.1 89.9h0M99.5 82.9h0M100.9 89.3h0M104.0 100.0h0M103.0 95.4h0M97.9 93.9h0M107.7 90.4h0M107.0 85.0h0M106.6 94.4h0M105.9 90.7h0M102.5 97.1h0M114.9 90.6h0M104.9 95.9h0M111.3 86.2h0M96.8 89.6h0M115.0 88.1h0M102.8 89.7h0M105.8 95.5h0M99.5 92.9h0M107.7 93.8h0M100.1 87.7h0M116.0 79.7h0M102.4 94.4h0M100.9 98.3h0M92.2 93.2h0M96.9 94.8h0M101.7 96.7h0M93.7 94.5h0M102.5 92.4h0M100.3 91.1h0M112.3 100.2h0M103.2 97.0h0M108.5 91.6h0M96.6 98.2h0M101.3 98.9h0M104.8 84.8h0M109.5 92.2h0M109.8 94.7h0M110.1 92.9h0M97.6 90.1h0M103.0 84.2h0M105.8 97.8h0M104.4 97.4h0M100.0 94.0h0M100.3 87.9h0M101.9 89.4h0M96.1 100.0h0M92.2 87.3h0M109.2 98.3h0M102.9 101.5h0M109.9 84.4h0M101.4 94.3h0M98.9 85.5h0M103.4 82.4h0M99.6 91.7h0M102.5 99.2h0M102.2 99.4h0M108.3 99.9h0M97.0 87.6h0M109.8 98.8h0M97.7 94.3h0M101.4 98.4h0M109.4 83.8h0M96.9 93.9h0M88.8 91.3h0M102.1 93.2h0M106.3 89.0h0M111.9 98.3h0M100.3 96.2h0M104.7 95.3h0M104.7 91.1h0M104.1 99.5h0M102.5 85.0h0M96.2 97.3h0M103.8 97.8h0M100.7 88.4h0M111.9 96.3h0M91.9 99.3h0M101.1 91.8h0M110.5 95.4h0M108.4 98.1h0M102.6 101.3h0M106.2 91.9h0M101.7 94.9h0M101.0 99.5h0M105.9 90.2h0M97.8 95.2h0M101.3 98.6h0M102.6 101.4h0M95.6 99.2h0M102.3 99.6h0M102.0 99.4h0M104.0 93.7h0M105.8 90.2h0M104.8 94.0h0M101.0 87.3h0M89.8 92.1h0M115.0 90.3h0M104.3 99.7h0M108.0 90.4h0M101.0 87.4h0M96.3 89.5h0M106.0 88.0h0M107.0 95.6h0M109.6 79.6h0M98.0 91.1h0M97.7 94.7h0M107.1 97.4h0M100.9 89.1h0M102.7 89.1h0M107.5 87.1h0M108.4 89.5h0M107.2 85.3h0M101.1 88.9h0M112.0 90.3h0M99.9 84.7h0M103.1 97.3h0M107.9 93.2h0M102.0 92.4h0M101.7 95.9h0M105.6 93.4h0M100.3 92.3h0M99.1 98.5h0M102.8 93.9h0M95.8 95.7h0M101.1 86.0h0M99.9 90.4h0M92.9 85.9h0M109.0 99.9h0M106.6 101.8h0M101.5 98.0h0M101.6 88.7h0M96.6 89.7h0M98.0 92.2h0M105.3 94.8h0M97.6 99.7h0M100.9 88.9h0M95.5 98.5h0M103.2 81.5h0M105.7 89.7h0M98.6 89.3h0M90.5 97.8h0M109.5 91.3h0M103.5 93.7h0M112.2 90.0h0M114.3 90.5h0M105.2 94.8h0M110.3 79.1h0M100.1 99.6h0M99.9 89.4h0M101.7 90.6h0M105.9 81.8h0M111.4 90.2h0M106.2 89.9h0M109.9 91.7h0M102.3 98.5h0M107.2 93.3h0M100.3 97.3h0M100.9 92.1h0M97.8 95.8h0M106.6 96.6h0M95.7 84.9h0M103.9 93.2h0M105.6 100.4h0M106.8 89.9h0M98.7 96.6h0M105.2 100.0h0M106.1 98.7h0M89.8 95.7h0M88.9 88.3h0M95.9 85.3h0M104.6 84.8h0M113.3 92.1h0M103.2 94.6h0M106.4 90.7h0M113.9 88.8h0M110.6 89.2h0M97.9 98.6h0M116.0 85.3h0M106.5 83.1h0M90.4 97.1h0M104.6 91.2h0M104.9 94.3h0M101.9 95.2h0M100.4 94.0h0M107.7 80.2h0M111.7 99.5h0M98.4 78.7h0M99.0 93.3h0M105.3 99.3h0M98.0 94.5h0M87.9 101.2h0M105.6 94.3h0M102.6 100.6h0M99.2 95.7h0M100.0 98.5h0M109.3 85.5h0M96.2 92.2h0M100.0 96.3h0M104.1 90.6h0M109.7 98.8h0M99.9 93.3h0M106.4 89.1h0M101.3 101.5h0M105.6 100.9h0M100.0 89.8h0M103.7 96.3h0M106.3 91.1h0M110.8 94.2h0M96.7 93.4h0M99.4 87.5h0M105.1 97.2h0M101.8 91.6h0M101.4 99.3h0M104.9 93.4h0M90.8 89.6h0M93.0 93.2h0M98.0 89.5h0M100.1 98.2h0M109.7 91.7h0M97.6 98.1h0M104.8 84.6h0M95.9 101.9h0M104.6 86.5h0M108.3 94.1h0M109.6 99.3h0M95.5 80.6h0M101.7 85.8h0M105.4 101.5h0M105.5 99.9h0M116.3 87.9h0M99.3 85.9h0M94.7 96.1h0M102.1 101.3h0M106.3 89.8h0M105.2 90.9h0M104.2 97.0h0M104.5 102.0h0M108.0 94.5h0M95.3 97.8h0M102.8 87.0h0M97.2 90.3h0M109.0 96.7h0M110.0 92.1h0M100.8 94.5h0M104.7 91.2h0M104.2 100.1h0M106.8 93.2h0M95.6 84.5h0M106.4 92.1h0M109.9 88.4h0M105.8 93.1h0M106.4 92.7h0M105.2 85.8h0M109.6 76.7h0M98.1 98.6h0M105.6 94.0h0M95.1 89.8h0M102.7 99.3h0M102.5 83.0h0M110.3 101.7h0M106.9 84.2h0M103.1 94.3h0M100.6 87.9h0M103.5 96.4h0M105.7 100.1h0M106.5 89.5h0M96.2 87.2h0M101.8 94.2h0M103.6 90.4h0M104.9 82.1h0M98.4 90.7h0M103.1 88.2h0M108.9 96.5h0M102.4 100.4h0M114.5 95.1h0M102.6 94.2h0M93.9 89.5h0M103.9 97.1h0M107.6 96.1h0M105.2 91.0h0M101.9 94.0h0M109.2 89.4h0M99.4 95.2h0M99.9 92.8h0M102.3 98.4h0M98.7 88.4h0M104.5 89.3h0M105.2 86.5h0M113.2 97.5h0M84.6 87.4h0M101.6 100.7h0M110.3 92.8h0M89.7 89.3h0M105.4 95.1h0M101.0 97.3h0M105.9 92.3h0M113.1 81.9h0M108.8 100.2h0M111.1 94.1h0M107.1 91.5h0M105.4 93.9h0M105.3 96.8h0M106.9 101.9h0M99.7 86.0h0M103.0 87.5h0M108.1 93.6h0M103.5 93.4h0M107.5 95.5h0M107.0 101.3h0M112.9 91.9h0M106.6 94.6h0M101.5 89.3h0M109.1 87.9h0M102.7 97.8h0M103.1 91.4h0M106.9 92.6h0M114.5 100.2h0M104.7 97.5h0M110.9 80.1h0M98.5 96.5h0M104.3 100.3h0M107.3 95.4h0M108.6 89.4h0M105.5 97.5h0M107.5 93.4h0M111.0 95.7h0M99.8 98.1h0M107.3 89.5h0M111.3 97.4h0M108.6 99.9h0M107.6 93.9h0M98.1 81.6h0M112.2 90.9h0M106.3 101.2h0M106.6 100.0h0M107.1 100.7h0M104.6 88.8h0M93.1 87.2h0M108.8 89.1h0M101.3 89.4h0M95.3 100.3h0M107.0 90.5h0M99.5 100.7h0M104.0 94.6h0M103.0 99.3h0M101.0 88.2h0M99.9 95.0h0M100.2 88.4h0M98.4 92.9h0M106.8 98.5h0M97.1 93.3h0M94.2 95.6h0M103.7 80.4h0M106.1 87.0h0M102.9 91.8h0M98.0 88.0h0M110.7 88.9h0M110.5 85.1h0M106.7 99.3h0M93.0 96.9h0M101.2 93.9h0M103.2 100.2h0M109.6 96.8h0M103.0 97.3h0M90.6 99.3h0M98.5 95.8h0M104.4 99.5h0M97.5 100.7h0M114.4 101.0h0M94.6 96.3h0M93.1 99.3h0M104.9 87.8h0M102.4 97.1h0M97.2 94.2h0M101.4 86.1h0M103.2 95.4h0M105.1 101.2h0M109.1 94.8h0M94.4 90.9h0M99.5 100.4h0M101.9 86.3h0M111.8 98.4h0M100.1 89.6h0M101.2 96.8h0M96.4 88.5h0M104.8 98.9h0M105.8 98.3h0M104.0 94.3h0M100.7 98.8h0M107.4 92.9h0M108.7 97.5h0M103.3 87.1h0M99.1 89.7h0M108.2 89.5h0M106.8 95.1h0M102.6 94.0h0M109.5 97.2h0M110.3 88.7h0M90.8 91.0h0M102.4 85.8h0M98.0 91.9h0M99.8 98.3h0M99.1 87.7h0M99.9 85.2h0M101.1 97.1h0M99.4 101.1h0M99.6 93.7h0M98.2 99.0h0M106.4 93.9h0M105.5 101.8h0M93.5 90.8h0M109.5 90.4h0M91.4 95.7h0M106.3 99.8h0M99.4 90.7h0M100.6 93.0h0M106.1 94.1h0M103.3 92.2h0M104.8 91.6h0M98.2 92.2h0M98.7 92.9h0M110.8 90.8h0M103.6 94.6h0M99.0 89.3h0M109.9 91.7h0M101.1 95.5h0M102.1 89.3h0M113.6 91.8h0M105.0 91.1h0M100.1 93.0h0M102.1 88.7h0M103.6 92.7h0M98.7 91.1h0M107.2 95.0h0M100.8 101.4h0M101.5 91.8h0M103.4 93.9h0M107.8 90.4h0M101.4 85.1h0M111.6 85.8h0M104.3 88.9h0M103.1 87.3h0M103.0 92.3h0M99.7 91.4h0M94.6 92.1h0M104.2 99.7h0M103.2 88.1h0M99.9 90.4h0M100.9 85.9h0M98.3 94.2h0M104.5 89.2h0M100.7 99.4h0M100.0 78.1h0M100.1 88.5h0M106.3 91.1h0M100.1 93.9h0M98.5 98.4h0M98.6 86.5h0M104.8 96.1h0M101.1 98.3h0M102.2 85.1h0M103.7 87.1h0M101.0 94.0h0M104.9 88.5h0M104.4 96.6h0M106.6 98.4h0M116.4 88.1h0M107.7 92.7h0M104.1 98.0h0M99.0 94.6h0M106.2 87.7h0M110.8 84.9h0M98.1 92.7h0M108.7 92.5h0M100.6 98.3h0M96.1 94.9h0M100.6 89.0h0M111.8 99.9h0M102.4 94.4h0M100.8 84.1h0M98.9 94.9h0M97.0 93.6h0M108.0 93.1h0M99.4 93.2h0M111.7 92.2h0M110.2 98.3h0M106.1 96.5h0M92.5 96.2h0M105.4 95.9h0M103.1 91.3h0M94.1 99.0h0M105.0 101.9h0M107.3 97.0h0M104.6 99.6h0M100.9 97.4h0M105.2 85.9h0M110.1 99.6h0M104.6 97.6h0M107.7 86.6h0M103.8 96.8h0M99.9 93.6h0M98.8 96.2h0M106.4 90.7h0M93.2 95.2h0M101.2 84.4h0M98.7 97.4h0M98.7 86.2h0M105.5 95.2h0M102.3 95.9h0M108.1 99.1h0M100.4 91.4h0M108.0 95.6h0M102.2 91.4h0M99.5 96.2h0M107.6 83.9h0M103.9 87.1h0M104.6 84.1h0M107.2 92.6h0M108.0 86.8h0M96.0 92.7h0M105.7 94.6h0M104.9 89.7h0M103.4 92.2h0M105.5 93.4h0M94.7 93.2h0M113.7 86.1h0M108.2 89.3h0M103.4 90.2h0M97.2 86.5h0M100.9 101.6h0M113.9 88.3h0M90.3 94.4h0M105.3 83.1h0M109.9 81.1h0M104.8 90.1h0M107.6 92.6h0M107.1 99.9h0M102.1 98.0h0M94.9 85.3h0M99.1 99.6h0M105.5 83.3h0M96.3 93.6h0M105.1 97.9h0M102.8 92.1h0M105.2 91.0h0M99.6 99.0h0M102.3 93.7h0M100.5 98.1h0M102.6 100.1h0M100.8 94.9h0M104.3 94.4h0M97.7 93.8h0M100.6 85.0h0M98.5 96.5h0M122.8 93.1h0M96.9 87.3h0M111.9 94.4h0M113.4 95.3h0M108.6 99.0h0M98.8 83.8h0M107.5 97.6h0M113.8 93.6h0M108.8 95.8h0M110.7 97.9h0M97.3 90.5h0M108.0 90.2h0M107.2 95.6h0M98.3 90.7h0M95.3 98.0h0M109.5 99.6h0M108.9 98.6h0M111.6 101.7h0M99.1 97.2h0M96.9 84.8h0M99.0 90.2h0M106.2 81.8h0M103.3 88.7h0M97.6 87.2h0M113.8 95.1h0M97.1 68.4h0M113.9 85.4h0M108.5 94.9h0M110.6 98.6h0M95.0 94.5h0M101.4 95.3h0M96.8 98.4h0M98.3 83.4h0M105.8 95.3h0M99.2 93.4h0M104.8 80.8h0M110.9 96.0h0M100.0 81.2h0M99.5 93.3h0M95.2 94.4h0M102.2 89.7h0M102.0 97.9h0M100.3 101.1h0M116.9 94.3h0M96.2 85.5h0M99.9 88.0h0M112.1 92.3h0M106.1 90.5h0M100.7 92.6h0M99.6 98.1h0M110.6 98.0h0M99.2 88.7h0M102.5 86.8h0M93.9 99.0h0M96.0 101.0h0M101.1 90.9h0M100.5 100.7h0M98.3 91.1h0M97.5 94.2h0M92.4 94.1h0M109.0 101.1h0M102.2 101.0h0M108.6 91.6h0M100.6 100.4h0M112.6 84.4h0M102.4 97.6h0M106.0 100.5h0M99.5 92.6h0M95.5 98.3h0M105.0 87.0h0M101.7 96.7h0M98.3 85.4h0M114.3 99.4h0M97.4 94.9h0M108.6 101.9h0M104.7 93.4h0M102.9 94.9h0M97.1 88.0h0M104.3 86.6h0M98.5 101.1h0M96.3 95.8h0M110.6 96.6h0M102.4 87.9h0M105.6 98.4h0M108.8 95.3h0M106.4 87.2h0M97.0 95.7h0M109.8 86.3h0M101.4 89.8h0M98.4 83.2h0M103.4 99.0h0M105.1 85.3h0M106.8 98.3h0M102.9 95.1h0M108.6 92.9h0M101.2 90.5h0M99.7 85.8h0M93.4 89.8h0M114.0 95.8h0M108.6 84.3h0M110.7 98.7h0M106.5 92.8h0M101.8 92.0h0M105.9 96.0h0M116.4 91.8h0M107.0 94.8h0M99.5 96.3h0M103.6 97.1h0M97.5 99.9h0M100.3 93.2h0M95.9 89.9h0M94.7 101.4h0M106.7 92.8h0M100.7 94.1h0M103.2 88.4h0M100.8 92.1h0M104.1 100.3h0M108.1 85.2h0M111.6 98.4h0M105.4 97.8h0M101.1 91.8h0M102.7 100.3h0M95.8 93.1h0M103.2 98.9h0M107.4 79.8h0M100.2 79.3h0M100.1 99.2h0M105.5 98.1h0M103.5 84.2h0M113.7 99.7h0M113.5 92.4h0M102.9 93.9h0M104.9 96.3h0M108.0 99.0h0M106.8 95.5h0M109.7 100.2h0M104.1 97.9h0M100.2 90.8h0M102.8 85.7h0M113.6 101.8h0M108.1 93.1h0M101.4 90.3h0M99.3 96.9h0M106.1 78.2h0M103.1 100.3h0M106.5 84.5h0M97.2 101.0h0M107.1 95.6h0M109.5 92.9h0M109.8 97.7h0M109.1 83.5h0M103.6 93.0h0M100.4 91.4h0M100.9 93.6h0M107.9 82.7h0M100.3 97.5h0M106.0 86.4h0M106.9 88.4h0M107.7 96.6h0M99.4 99.1h0M108.6 97.4h0M104.5 91.7h0M106.9 89.2h0M97.1 98.4h0M105.5 92.7h0M107.5 93.8h0M106.3 97.0h0M108.4 101.4h0M104.5 93.4h0M107.8 88.6h0M102.5 96.3h0M99.7 89.5h0M101.5 97.7h0M102.6 93.9h0M103.6 92.7h0M109.7 81.8h0M112.0 95.2h0M100.6 100.7h0M101.9 94.2h0M106.9 92.9h0M105.7 94.5h0M101.8 94.7h0M111.8 90.7h0M93.0 97.1h0M104.3 81.7h0M102.6 99.6h0M101.5 100.9h0M106.1 99.2h0M104.3 100.2h0M106.6 73.1h0M101.1 94.9h0M107.5 87.9h0M101.7 101.0h0M101.9 95.6h0M100.3 95.2h0M97.3 96.6h0M105.6 94.8h0M108.0 85.4h0M93.6 96.2h0M96.2 97.3h0M111.1 90.6h0M98.0 100.9h0M104.4 80.7h0M108.5 96.9h0M104.7 92.2h0M111.4 93.3h0M114.1 93.5h0M98.1 94.3h0M108.6 92.5h0M102.9 98.0h0M95.2 86.3h0M110.1 89.7h0M99.4 85.9h0M107.8 86.7h0M97.7 91.8h0M100.4 95.8h0M110.9 88.7h0M109.0 100.8h0M105.5 95.0h0M111.5 89.5h0M112.1 101.0h0M109.5 91.3h0M98.8 92.5h0M97.8 90.7h0M108.3 90.2h0M109.3 87.7h0M97.4 89.5h0M111.0 95.0h0M105.3 94.1h0M102.8 90.4h0M102.7 84.9h0M110.0 100.8h0M94.7 92.0h0M101.8 91.4h0M105.2 92.0h0M97.9 84.7h0M103.8 79.3h0M99.8 99.3h0M102.5 89.4h0M104.9 98.6h0M109.8 86.0h0M107.9 92.2h0M100.8 98.0h0M106.2 100.1h0M106.6 95.3h0M107.1 93.7h0M91.9 95.4h0M105.0 83.8h0M102.5 97.0h0M109.1 86.8h0M104.3 92.3h0M101.8 98.5h0M113.5 91.2h0M105.0 95.2h0M108.1 91.9h0M100.8 101.4h0M94.9 90.5h0M105.1 97.4h0M102.9 88.5h0M96.8 85.4h0M100.9 88.0h0M106.2 98.7h0M103.1 97.5h0M100.5 98.5h0M101.9 96.5h0M107.8 89.8h0M100.1 85.7h0M113.0 91.3h0M108.4 93.5h0M104.8 91.3h0M108.3 87.0h0M99.7 100.6h0M113.2 95.1h0M95.3 82.2h0M98.3 95.5h0M105.0 95.1h0M112.5 90.0h0M102.6 91.7h0M102.7 91.3h0M105.1 90.3h0M94.0 91.8h0M104.9 96.3h0M101.8 96.6h0M101.2 87.9h0M90.8 95.8h0M94.0 86.1h0M96.7 92.4h0M100.3 95.2h0M106.7 86.1h0M103.4 92.8h0M101.5 92.5h0M112.6 84.2h0M100.6 87.9h0M102.2 96.7h0M99.7 90.7h0M96.9 97.2h0M98.6 97.0h0M96.4 94.2h0M111.9 98.4h0M109.9 92.0h0M105.0 95.4h0M103.7 93.6h0M93.1 97.6h0M99.3 96.3h0M95.9 93.2h0M105.7 95.7h0M98.0 91.3h0M104.7 90.4h0M100.5 89.1h0M107.7 86.8h0M97.7 84.8h0M111.6 94.6h0M98.7 90.0h0M96.7 98.6h0M104.7 90.7h0M108.3 93.3h0M97.7 92.4h0M104.9 87.0h0M102.5 96.7h0M92.6 88.0h0M106.6 93.3h0M97.2 81.6h0M105.4 93.1h0M101.8 81.7h0M107.4 95.6h0M101.9 95.5h0M105.6 86.0h0M97.4 88.4h0M99.6 97.8h0M109.7 95.2h0M106.8 97.3h0M105.7 88.9h0M107.0 101.1h0M93.3 97.5h0M105.4 96.7h0M98.1 94.1h0M110.6 83.8h0M112.2 100.4h0M103.0 100.1h0M96.1 91.6h0M106.0 94.6h0M106.0 87.8h0M97.7 100.0h0M104.8 91.1h0M104.9 88.9h0M114.3 86.3h0M102.5 96.8h0M104.0 101.6h0M103.2 90.9h0M102.1 100.1h0M107.7 97.6h0M113.2 96.9h0M101.3 98.4h0M111.1 95.6h0M100.8 95.0h0M102.0 92.9h0M95.2 98.5h0M100.8 91.0h0M93.6 89.7h0M104.0 82.5h0M104.7 84.3h0M105.8 98.2h0M111.5 101.5h0M98.5 99.9h0M101.3 85.6h0M109.2 93.5h0M104.6 97.8h0M99.1 101.1h0M106.8 88.7h0M99.5 89.0h0M104.8 87.7h0M115.7 100.5h0M102.6 98.5h0M103.9 97.5h0M95.2 94.4h0M102.6 92.8h0M101.0 98.8h0M102.5 84.4h0M96.7 100.5h0M109.6 83.1h0M99.3 100.5h0M101.1 88.5h0M110.2 94.9h0M94.8 86.0h0M105.8 88.7h0M112.3 88.9h0M104.9 98.1h0M106.3 93.3h0M98.3 95.0h0M108.1 101.3h0M108.5 89.3h0M107.0 92.0h0M111.1 80.4h0M105.2 92.9h0M111.9 87.7h0M104.7 100.1h0M96.6 87.6h0M107.7 92.4h0M103.7 87.6h0M108.8 94.6h0M95.7 98.6h0M112.1 99.6h0M102.1 92.5h0M101.4 93.0h0M104.4 96.7h0M99.6 101.3h0M97.9 80.9h0M101.0 85.7h0M103.5 94.2h0M108.7 99.0h0M108.8 96.0h0M98.4 80.0h0M110.3 99.2h0M102.6 89.3h0M95.4 94.0h0M104.5 93.9h0M105.8 92.1h0M97.0 100.4h0M99.9 87.0h0M102.8 99.8h0M106.7 101.8h0M105.5 97.0h0M107.0 99.1h0M108.8 93.9h0M104.4 96.5h0M99.7 94.1h0M102.0 82.5h0M100.4 92.6h0M99.0 98.9h0M104.9 89.0h0M96.1 87.9h0M106.1 89.4h0M102.3 92.0h0M102.3 95.5h0M103.6 101.1h0M104.0 89.8h0M108.5 92.7h0M104.6 91.6h0M101.6 100.0h0M110.3 89.0h0M98.7 97.9h0M95.1 86.4h0M105.5 93.2h0M100.1 96.8h0M100.1 96.0h0M105.3 96.6h0M107.8 92.5h0M117.6 89.1h0M100.7 84.6h0M100.9 91.7h0M107.2 95.2h0M106.6 98.5h0M110.1 90.8h0M103.0 100.0h0M102.5 96.6h0M101.1 88.6h0M100.8 96.9h0M104.5 99.4h0M108.1 90.9h0M100.5 88.6h0M94.4 94.6h0M103.7 93.3h0M106.7 89.6h0M94.3 99.6h0M105.8 84.3h0M109.2 98.1h0M100.3 87.7h0M100.1 92.4h0M100.8 93.0h0M110.4 101.4h0M100.4 97.8h0M104.4 83.9h0M106.4 88.0h0M100.8 96.4h0M96.7 90.1h0M102.0 100.5h0M106.2 93.0h0M103.3 97.1h0M111.9 97.9h0M103.8 100.6h0M106.3 92.6h0M99.6 101.0h0M97.7 88.5h0M104.5 91.0h0M104.1 95.1h0M101.9 101.2h0M97.1 98.9h0M101.1 91.5h0M98.6 92.0h0M97.8 85.7h0M100.0 97.2h0M103.3 92.0h0M102.4 84.2h0M109.9 102.0h0M111.8 101.3h0M95.8 89.6h0M99.5 100.7h0M123.0 101.9h0M102.1 97.8h0M102.9 92.0h0M110.3 98.1h0M98.2 90.3h0M102.0 82.7h0M100.1 90.4h0M112.1 88.8h0M108.9 86.1h0M103.0 90.6h0M108.3 92.6h0M105.2 94.7h0M104.1 95.7h0M105.8 99.2h0M106.6 99.5h0M104.6 96.1h0M98.2 98.7h0M100.2 93.1h0M105.0 90.9h0M96.5 94.8h0M103.9 87.1h0M105.5 85.6h0M93.8 94.1h0M110.0 88.8h0M103.8 96.0h0M114.6 88.7h0M107.5 93.3h0M101.4 87.2h0M105.6 94.9h0M103.1 86.4h0M101.4 96.2h0M105.5 96.9h0M100.0 86.7h0M103.4 101.2h0M103.3 87.0h0M101.2 85.5h0M101.7 88.1h0M101.8 90.6h0M101.1 92.4h0M108.9 85.7h0M99.8 84.2h0M108.0 91.3h0M96.6 99.6h0M98.7 100.9h0M102.1 78.9h0M110.9 83.6h0M105.2 91.2h0M107.7 91.9h0M103.6 89.7h0M98.0 95.9h0M101.8 88.5h0M104.5 93.0h0M106.3 101.4h0M97.0 96.4h0M103.1 100.6h0M111.8 91.8h0M107.4 93.1h0M100.6 98.4h0M109.3 93.3h0M112.8 95.2h0M109.6 91.9h0M107.7 81.6h0M108.8 101.7h0M107.9 86.3h0M102.0 101.0h0M106.0 94.9h0M103.0 95.7h0M105.8 97.4h0M116.4 77.9h0M100.2 91.8h0M103.3 85.4h0M99.3 83.1h0M93.5 101.9h0M98.5 93.1h0M103.1 94.1h0M105.1 91.5h0M106.1 88.4h0M109.6 85.2h0M104.2 86.7h0M98.9 88.1h0M108.3 98.4h0M103.6 92.2h0M102.6 101.4h0M100.9 98.4h0M104.8 84.6h0M111.2 100.4h0M105.8 95.1h0M94.8 91.2h0M109.2 85.1h0M103.2 99.9h0M100.6 85.7h0M99.1 82.0h0M105.2 91.3h0M110.4 94.6h0M103.3 91.6h0M107.5 87.0h0M107.2 92.0h0M100.8 95.9h0M109.9 90.5h0M103.8 89.7h0M98.7 76.8h0M111.3 94.0h0M91.1 96.4h0M101.1 97.5h0M110.6 95.2h0M93.8 77.1h0M103.7 97.4h0M101.8 98.2h0M103.4 95.1h0M102.5 98.4h0M95.1 98.0h0M99.0 87.5h0M106.4 99.9h0M100.7 83.3h0M109.0 100.3h0M113.4 89.2h0M110.7 87.8h0M103.4 81.0h0M103.6 100.1h0M99.4 98.9h0M106.9 99.0h0M107.7 78.5h0M101.6 87.4h0M106.6 80.9h0M102.2 94.8h0M105.5 99.4h0M96.8 93.8h0M106.3 91.5h0M100.4 88.5h0M87.0 93.0h0M98.4 99.6h0M95.0 102.0h0M100.6 99.8h0M109.5 95.9h0M104.1 84.6h0M108.4 86.6h0M99.3 92.0h0M104.6 94.6h0M96.4 86.1h0M106.2 101.4h0M102.7 91.2h0M104.9 90.0h0M98.1 85.4h0M103.9 90.4h0M108.0 86.9h0M100.3 91.1h0M107.2 85.8h0M107.3 90.4h0M111.2 95.8h0M111.3 97.3h0M103.2 94.7h0M108.6 100.8h0M104.5 98.4h0M98.2 81.7h0M100.8 88.2h0M108.7 98.1h0M103.7 86.5h0M105.1 94.7h0M102.4 90.9h0M105.4 95.4h0M107.9 96.7h0M111.5 100.9h0M99.3 93.9h0M104.7 94.8h0M96.2 92.5h0M100.2 94.7h0M102.1 101.9h0M104.8 91.7h0M93.5 95.7h0M103.8 90.0h0M108.5 100.3h0M107.0 90.7h0M108.1 88.3h0M105.0 84.2h0M88.8 98.5h0M106.6 89.5h0M112.0 99.1h0M100.6 94.5h0M97.0 90.7h0M105.4 99.3h0M105.0 91.6h0M94.7 87.5h0M109.5 99.2h0M98.4 94.9h0M99.4 89.9h0M105.4 101.1h0M100.0 100.2h0M104.1 90.1h0M112.0 91.0h0M105.7 92.1h0M108.4 93.3h0M101.1 99.3h0M106.4 91.6h0M99.8 81.1h0M98.1 90.1h0M112.6 88.2h0M98.4 95.6h0M96.6 91.2h0M109.7 92.6h0M101.4 97.8h0M102.3 85.3h0M108.9 84.9h0M98.8 85.3h0M99.8 94.1h0M112.1 92.6h0M113.8 93.9h0M96.2 98.9h0M110.0 85.8h0M101.8 87.7h0M109.2 90.8h0M97.1 92.3h0M109.3 99.8h0M104.4 88.1h0M107.4 100.4h0M99.9 92.0h0M106.4 99.7h0M106.5 100.7h0M109.8 98.2h0M106.1 85.0h0M103.4 87.9h0M103.2 98.6h0M103.9 88.8h0M104.5 100.1h0M95.7 92.6h0M108.7 82.4h0M106.2 86.2h0M103.7 101.8h0M104.3 98.1h0M103.4 84.3h0M98.9 92.0h0M98.3 99.8h0M104.5 90.3h0M110.2 98.4h0M111.5 97.4h0M99.2 97.6h0M102.1 95.4h0M92.3 93.2h0M114.1 94.5h0M100.6 91.5h0M101.1 98.2h0M102.3 92.7h0M98.0 99.0h0M98.6 96.5h0M113.0 91.7h0M92.9 85.0h0M96.9 99.0h0M102.7 91.2h0M101.2 97.7h0M108.6 98.1h0M104.6 97.1h0M98.6 88.6h0M101.3 93.4h0M104.3 89.9h0M103.7 95.5h0M107.2 98.4h0M105.6 96.1h0M94.9 90.7h0M103.8 95.2h0M109.6 92.0h0M110.8 83.4h0M109.3 95.8h0M100.8 88.4h0M105.2 89.3h0M103.4 91.3h0M109.6 81.9h0M106.8 94.5h0M107.9 100.5h0M88.2 94.7h0M98.3 93.5h0M103.1 98.9h0M108.3 88.6h0M114.5 96.2h0M105.6 91.4h0M97.6 100.0h0M109.2 100.2h0M104.9 94.9h0M94.5 88.3h0M104.2 97.6h0M108.2 100.0h0M106.4 94.6h0M111.9 96.8h0M102.1 89.7h0M107.4 94.6h0M109.1 88.7h0M100.1 98.8h0M104.9 90.8h0M108.1 93.7h0M103.6 98.3h0M111.4 101.1h0M97.7 87.3h0M103.2 84.1h0M102.9 94.5h0M106.3 92.6h0M99.1 92.7h0M117.5 90.8h0M107.6 96.5h0M105.1 96.1h0M98.3 95.2h0M102.3 94.2h0M99.9 100.1h0M102.6 86.8h0M107.1 95.9h0M100.2 91.5h0M108.8 86.8h0M98.8 84.1h0M105.2 93.3h0M100.4 97.4h0M108.2 96.2h0M114.2 93.8h0M96.1 80.1h0M116.8 95.4h0M109.4 95.9h0M100.8 93.8h0M103.4 81.1h0M94.6 89.9h0M104.2 99.1h0M101.1 82.5h0M104.9 95.0h0M111.5 96.4h0M105.3 91.3h0M101.2 81.4h0M103.3 94.3h0M97.7 85.5h0M101.3 82.2h0M102.7 93.2h0M99.5 89.2h0M99.3 94.3h0M104.7 90.4h0M98.4 93.4h0M95.1 100.3h0M103.7 95.5h0M111.0 96.5h0M111.8 97.5h0M114.7 98.5h0M104.6 89.3h0M104.1 97.5h0M102.8 100.2h0M100.8 88.9h0M95.9 92.7h0M102.7 93.1h0M105.8 97.1h0M100.2 92.7h0M105.7 91.0h0M99.4 100.5h0M100.4 86.9h0M106.2 97.8h0M110.5 89.5h0M103.0 90.3h0M102.2 101.4h0M106.1 76.7h0M104.9 99.5h0M111.6 97.4h0M102.2 95.3h0M89.4 98.0h0M105.6 84.2h0M95.4 89.9h0M109.0 88.9h0M92.8 91.6h0M98.5 94.6h0M101.1 90.3h0M104.2 93.0h0M103.1 99.5h0M102.8 82.3h0M104.2 98.5h0M96.6 98.3h0M110.5 96.1h0M100.6 100.0h0M107.4 100.0h0M118.2 87.4h0M108.1 90.3h0M110.2 90.1h0M102.1 97.1h0M103.1 100.8h0M103.6 93.3h0M96.9 87.2h0M97.9 83.8h0M93.4 96.5h0M110.9 97.6h0M115.9 85.9h0M111.8 96.2h0M94.8 91.8h0M100.5 88.2h0M87.5 95.1h0M111.2 101.8h0M116.0 90.0h0M116.8 89.2h0M119.5 98.4h0M88.5 96.9h0M105.7 97.6h0M101.2 101.5h0M123.2 98.6h0M98.0 81.6h0M105.3 82.6h0M107.5 88.5h0M93.3 91.4h0M100.4 91.5h0M93.7 89.4h0M93.5 72.3h0M106.5 99.8h0M104.9 93.1h0M99.3 89.5h0M93.3 97.7h0M97.8 93.8h0M96.9 90.8h0M104.1 101.5h0M110.3 91.0h0M108.3 98.8h0M106.4 95.7h0M91.0 97.6h0M98.2 85.8h0M106.6 93.5h0M102.1 89.7h0M103.0 98.7h0M88.6 89.2h0M108.6 88.6h0M94.5 97.3h0M115.0 99.6h0M102.2 95.2h0M100.5 101.8h0M104.7 99.6h0M108.5 91.0h0M106.6 81.8h0M88.0 98.0h0M107.4 101.7h0M98.9 99.5h0M96.5 94.8h0M94.1 100.2h0M117.2 89.5h0M106.8 97.0h0M90.4 89.1h0M93.7 92.8h0M101.8 89.2h0M108.8 86.9h0M112.3 99.8h0M95.4 80.2h0M98.4 100.6h0M104.3 89.9h0M103.2 79.1h0M89.9 85.2h0M106.8 92.4h0M102.7 87.6h0M110.1 87.4h0M101.2 93.4h0M102.6 81.4h0M97.3 97.2h0M106.3 91.3h0M105.6 83.7h0M106.1 93.5h0M110.9 96.8h0M106.7 99.1h0M101.5 92.4h0M112.2 98.4h0M96.8 93.2h0M99.8 84.0h0M92.1 84.4h0M92.2 89.9h0M113.3 84.6h0M96.0 92.4h0M108.1 96.2h0M102.5 101.6h0M98.3 89.9h0M113.4 93.5h0M107.8 100.5h0M107.7 92.3h0M100.8 96.6h0M110.6 97.5h0M106.3 85.7h0M100.1 100.1h0M108.6 83.0h0M112.0 97.7h0M93.3 95.6h0M85.4 79.4h0M97.9 91.3h0M102.1 94.3h0M103.1 99.0h0M103.3 93.8h0M107.2 97.9h0M107.9 92.7h0M100.2 101.2h0M105.0 86.0h0M86.2 90.8h0M104.9 92.0h0M106.3 92.6h0M96.3 87.1h0M95.1 95.8h0M115.5 88.7h0M92.5 93.2h0M115.1 94.2h0M102.5 90.9h0M104.2 85.1h0M102.8 97.5h0M98.4 91.3h0M93.7 81.5h0M106.8 99.7h0M111.0 93.6h0M107.3 100.7h0M89.5 101.5h0M107.6 89.5h0M90.1 98.5h0M102.8 96.0h0M97.9 98.3h0M111.9 91.3h0M109.6 93.1h0M108.3 97.3h0M119.8 87.5h0M120.7 85.2h0M100.0 88.6h0M113.3 86.8h0M104.6 100.2h0M110.6 93.9h0M112.9 92.2h0M99.0 84.1h0M113.9 92.6h0M99.8 85.4h0M110.4 101.2h0M101.5 92.4h0M98.8 97.0h0M94.1 101.4h0M107.5 95.2h0M116.4 90.8h0M116.8 93.5h0M103.3 99.8h0M98.1 93.8h0M95.9 93.2h0M113.6 92.4h0M94.3 99.9h0M95.7 95.8h0M111.9 63.5h0M110.7 100.6h0M107.3 92.2h0M112.6 92.3h0M104.5 94.5h0M99.6 84.0h0M105.1 101.1h0M102.0 81.4h0M94.8 78.8h0M120.3 97.2h0M109.5 87.5h0M109.7 93.5h0M103.3 85.6h0M103.2 89.4h0M114.0 85.1h0M101.4 99.6h0M107.2 92.8h0M118.3 98.3h0M96.7 79.3h0M94.8 94.0h0M106.5 82.5h0M108.6 93.3h0M95.7 87.6h0M106.0 101.0h0M122.2 87.8h0M100.2 89.5h0M111.4 86.0h0M100.4 95.7h0M105.6 89.9h0M111.7 99.3h0M109.8 88.4h0M99.6 101.6h0M105.7 81.9h0M90.1 86.5h0M109.6 86.1h0M101.8 85.7h0M102.6 92.8h0M91.3 78.3h0M111.2 92.7h0M99.3 76.8h0M123.1 94.0h0M103.1 100.9h0M96.9 96.6h0M102.6 90.1h0M107.7 90.7h0M119.9 84.9h0M89.2 86.5h0M103.6 97.1h0M102.1 89.8h0M102.8 91.3h0M83.5 97.0h0M100.1 101.4h0M109.3 87.4h0M104.1 96.5h0M93.6 89.9h0M109.3 99.5h0M106.5 92.4h0M95.7 101.0h0M104.2 92.4h0M102.4 98.0h0M104.8 98.9h0M105.6 92.4h0M113.2 83.7h0M93.2 93.5h0M103.9 92.2h0M100.4 85.2h0M98.1 84.5h0M102.4 87.6h0M94.4 96.0h0M109.7 95.1h0M101.6 87.3h0M101.9 96.2h0M98.5 86.5h0M103.0 95.5h0M93.6 91.3h0M96.0 79.6h0M102.1 84.7h0M99.4 85.7h0M109.7 95.2h0M107.4 84.2h0M113.1 87.3h0M111.4 89.4h0M111.2 88.3h0M86.8 84.3h0M113.6 99.6h0M114.5 88.1h0M101.0 91.4h0M100.7 96.5h0M103.7 91.8h0M104.6 99.1h0M106.2 96.8h0M115.1 88.3h0M99.0 96.6h0M125.7 93.5h0M116.2 97.1h0M109.9 81.3h0M109.6 101.1h0M114.3 85.1h0M108.1 99.2h0M104.3 87.3h0M108.4 92.8h0M94.8 98.7h0M88.3 94.0h0M98.9 93.0h0M97.0 100.8h0M101.5 85.9h0M108.1 87.4h0M90.6 91.0h0M110.0 96.8h0M88.2 85.7h0M124.9 87.7h0M94.4 93.8h0M95.2 91.3h0M92.9 91.9h0M111.6 97.6h0M105.6 96.9h0M104.3 93.1h0M112.1 89.8h0M101.9 91.3h0M101.1 94.1h0M104.2 97.9h0M105.3 93.1h0M110.9 95.7h0M78.6 99.9h0M112.2 94.5h0M102.3 93.7h0M103.7 98.6h0M103.1 99.6h0M99.9 99.9h0M105.0 96.3h0M96.3 88.5h0M96.3 95.6h0M112.0 86.5h0M100.5 94.5h0M94.2 88.3h0M103.0 91.0h0M117.3 87.0h0M111.8 87.0h0M84.4 97.7h0M97.3 94.4h0M120.5 96.4h0M106.6 80.1h0M108.6 94.7h0M104.5 83.2h0M118.1 100.4h0M96.6 96.5h0M95.9 82.5h0M101.1 97.0h0M99.0 89.1h0M109.8 97.5h0M105.3 97.4h0M119.0 92.5h0M113.8 90.9h0M98.4 96.1h0M102.2 90.1h0M105.6 102.0h0M104.0 85.7h0M101.0 96.1h0M108.9 78.2h0M105.0 91.3h0M105.7 101.8h0M100.1 94.8h0M104.8 96.0h0M106.2 86.1h0M123.1 84.3h0M113.1 82.5h0M97.1 90.1h0M103.2 98.4h0M111.5 101.2h0M107.5 101.9h0M113.6 94.7h0M102.4 97.3h0M92.1 85.0h0M104.2 83.9h0M108.1 76.0h0M92.8 101.5h0M88.9 87.7h0M96.1 96.4h0M87.9 89.2h0M89.9 99.0h0M115.0 90.2h0M97.4 93.3h0M117.2 88.5h0M116.6 98.8h0M111.5 93.3h0M107.9 90.6h0M117.9 86.2h0M109.9 91.4h0M102.0 93.2h0M97.5 89.2h0M110.6 89.5h0M114.6 94.3h0M102.3 80.9h0M114.1 93.8h0M88.6 98.2h0M98.6 96.6h0M114.9 83.0h0M104.6 96.0h0M95.6 86.8h0M91.0 67.8h0M113.7 98.8h0M103.3 92.0h0M95.0 78.5h0M112.1 98.2h0M108.0 84.2h0M109.9 89.2h0M91.2 94.6h0M95.2 89.7h0M109.2 95.1h0M98.9 93.9h0M110.0 99.9h0M88.9 95.5h0M105.7 91.5h0M101.0 101.2h0M108.0 87.6h0M106.9 98.9h0M107.1 95.0h0M99.4 96.5h0M112.0 96.8h0M83.4 93.7h0M114.0 93.2h0M108.7 94.0h0M89.1 81.6h0M105.3 89.1h0M117.3 81.4h0M108.3 99.0h0M106.9 84.9h0M99.0 83.3h0M108.4 94.8h0M113.3 93.9h0M111.7 96.0h0M107.9 88.2h0M110.5 89.7h0M110.1 91.7h0M111.1 96.8h0M98.6 99.0h0M98.4 99.9h0M98.8 92.8h0M110.2 98.2h0M111.3 98.7h0M103.5 89.1h0M114.4 93.7h0M104.3 90.1h0M109.5 88.9h0M99.4 95.8h0M99.4 80.0h0M100.0 88.1h0M96.7 99.0h0M117.6 91.6h0M118.6 91.3h0M95.8 95.8h0M110.2 93.3h0M95.1 81.4h0M94.1 97.3h0M119.0 99.9h0M103.2 94.4h0M108.1 99.0h0M108.1 101.6h0M108.3 90.8h0M108.2 98.2h0M114.8 98.2h0M114.7 75.5h0M106.8 94.6h0M98.7 97.1h0M116.5 94.8h0M109.1 99.7h0M98.3 93.4h0M95.5 83.5h0M110.5 91.7h0M108.0 81.9h0M104.6 83.0h0M96.2 93.2h0M101.8 98.3h0M103.9 82.9h0M104.0 92.2h0M99.7 93.5h0M91.5 90.0h0M101.0 97.2h0M93.3 86.3h0M102.1 96.7h0M94.8 101.4h0M108.9 100.9h0M100.8 95.9h0M117.8 98.4h0M97.6 91.1h0M95.0 90.6h0M100.7 75.6h0M98.3 81.1h0M110.3 93.4h0M120.0 96.8h0M114.4 93.2h0M97.4 85.8h0M102.9 89.0h0M111.8 94.0h0M109.3 83.0h0M100.9 97.4h0M116.9 84.1h0M111.4 98.3h0M107.8 97.0h0M109.8 88.0h0M105.4 95.4h0M101.1 97.5h0M92.7 100.8h0M117.7 92.5h0M109.6 90.0h0M102.6 97.2h0M90.4 96.6h0M91.6 79.3h0M102.4 95.2h0M102.1 98.8h0M102.0 88.8h0M115.0 94.2h0M107.4 89.4h0M105.3 83.8h0M93.7 94.7h0M91.4 92.4h0M104.5 90.7h0M106.3 97.6h0M99.9 91.6h0M97.8 98.4h0M100.5 89.3h0M112.6 95.6h0M112.4 99.9h0M90.5 96.1h0M111.5 97.2h0M91.0 94.9h0M97.4 77.7h0M125.8 98.3h0M87.2 94.7h0M100.5 95.6h0M99.5 85.7h0M102.9 95.1h0M123.8 98.7h0M113.1 87.9h0M101.5 83.2h0M127.8 99.4h0M95.6 84.0h0M120.7 87.6h0M110.6 90.6h0M86.6 85.8h0M95.3 91.0h0M106.1 94.7h0M81.5 99.1h0M87.3 101.1h0M113.5 92.4h0M97.1 88.8h0M104.9 96.4h0M106.6 81.5h0M112.6 92.9h0M111.1 88.3h0M95.5 93.8h0M101.0 88.6h0M117.1 89.2h0M98.7 93.9h0M106.4 95.3h0M91.6 94.3h0M114.7 89.8h0M97.9 99.5h0M114.3 98.6h0M102.8 100.4h0M104.9 83.9h0M111.4 78.6h0M110.3 94.4h0M103.8 98.6h0M101.5 98.2h0M100.5 93.2h0M94.3 87.0h0M105.2 96.9h0M100.0 91.5h0M106.2 89.8h0M96.4 99.8h0M108.4 89.2h0M102.6 92.6h0M105.5 98.8h0M123.3 93.3h0M113.5 84.8h0M113.9 81.3h0M101.4 83.0h0M111.5 94.5h0M98.2 86.8h0M100.2 97.0h0M103.4 80.1h0M108.5 81.9h0M111.2 84.1h0M96.8 100.6h0M110.5 88.9h0M97.1 92.8h0M97.0 78.0h0M103.2 92.6h0M103.6 77.0h0M103.3 94.6h0M95.7 91.9h0M115.1 93.6h0M97.6 86.8h0M97.4 87.0h0M107.5 76.1h0M109.4 85.3h0M85.6 88.2h0M100.1 101.0h0M113.0 97.5h0M108.4 85.3h0M94.8 86.0h0M98.1 88.6h0M109.6 92.6h0M99.3 101.0h0M99.7 75.6h0M99.7 96.5h0M88.7 88.6h0M95.3 93.1h0M112.0 98.5h0M99.7 98.5h0M108.0 85.7h0M107.4 92.7h0M112.3 85.9h0M102.8 95.7h0M107.9 100.3h0M102.0 87.2h0M125.9 100.3h0M106.8 84.8h0M104.9 96.0h0M125.4 87.2h0M95.0 93.1h0M107.2 99.6h0M104.6 86.5h0M97.2 85.0h0M103.3 94.7h0M123.0 92.4h0M122.8 93.7h0M108.3 84.4h0M106.2 91.2h0M118.2 92.1h0M113.6 83.8h0M116.0 96.8h0M103.9 85.1h0M98.8 94.8h0M99.1 96.2h0M111.1 94.2h0M121.2 101.9h0M106.6 96.6h0M107.6 93.4h0M100.6 93.6h0M116.5 85.0h0M110.1 99.4h0M102.4 83.9h0M111.8 87.7h0M105.1 88.8h0M96.9 79.4h0M107.7 98.4h0M110.6 90.8h0M105.6 82.3h0M96.0 80.9h0M105.3 87.3h0M96.3 100.5h0M103.4 90.2h0M112.7 88.9h0M104.0 96.2h0M86.0 86.8h0M102.8 98.0h0M105.3 95.4h0M102.9 87.5h0M115.0 92.4h0M103.6 85.9h0M107.0 86.5h0M105.8 85.9h0M104.9 94.0h0M112.3 96.9h0M88.4 94.8h0M111.6 95.1h0M113.6 99.1h0M94.6 80.9h0M104.9 101.6h0M91.1 91.3h0M91.7 93.9h0M100.9 101.4h0M101.0 99.1h0M100.6 83.8h0M110.5 88.6h0M103.8 101.7h0M87.3 98.4h0M112.0 83.0h0M110.9 99.2h0M86.2 97.4h0M110.7 83.5h0M102.2 83.4h0M108.1 80.9h0M106.4 96.3h0M95.7 84.1h0M101.1 96.4h0M98.0 79.0h0M85.9 90.1h0M93.6 94.3h0M105.3 90.5h0M108.6 101.4h0M108.4 87.3h0M110.7 96.6h0M102.9 89.0h0M102.2 89.9h0M105.0 93.0h0M90.5 92.8h0M86.4 96.3h0M96.3 89.2h0M123.5 94.4h0M110.1 88.0h0M99.8 83.3h0M94.0 97.9h0M95.2 98.8h0M101.4 97.9h0M110.0 99.3h0M102.6 96.0h0M118.3 94.6h0M103.2 100.0h0M101.6 96.5h0M99.6 86.5h0M113.4 95.9h0M98.8 97.5h0M109.0 78.9h0M103.5 93.0h0M107.7 84.3h0M100.5 90.3h0M94.7 93.1h0M113.7 88.8h0M98.2 91.7h0M92.4 96.8h0M113.1 89.3h0M103.1 97.9h0M108.5 92.5h0M99.3 88.2h0M109.3 96.8h0M108.8 89.9h0M106.7 97.8h0M98.9 95.9h0M88.6 95.7h0M99.9 86.8h0M96.8 83.7h0M114.7 82.1h0M103.8 93.9h0M108.1 92.9h0M94.5 95.0h0M103.0 90.6h0M109.8 93.3h0M94.5 92.9h0M106.6 94.7h0M106.2 100.4h0M104.6 85.6h0M87.9 101.2h0M107.5 88.4h0M115.6 94.3h0M109.6 100.2h0M113.9 96.9h0M113.6 89.6h0M113.1 93.9h0M99.4 98.7h0M113.4 93.1h0M95.3 90.8h0M107.3 94.3h0M97.3 96.4h0M117.9 83.7h0M105.3 87.1h0M114.7 97.8h0M107.5 100.4h0M98.0 92.2h0M93.6 93.4h0M92.5 95.4h0M102.4 87.6h0M108.4 89.2h0M107.4 89.4h0M94.3 98.9h0M96.1 89.9h0M105.3 90.9h0M109.4 92.6h0M113.3 98.9h0M104.6 85.9h0M95.3 73.8h0M104.8 96.7h0M104.0 93.0h0M112.1 90.8h0M102.2 83.9h0M102.9 92.1h0M107.5 94.0h0M99.8 91.0h0M110.6 95.0h0M102.9 86.5h0M104.7 77.6h0M109.7 88.7h0M113.5 80.2h0M114.0 83.8h0M101.2 97.5h0M102.4 101.2h0M99.4 100.3h0M114.7 101.7h0M100.0 83.7h0M99.8 91.6h0M101.5 89.8h0M91.8 84.0h0M82.1 91.2h0M114.6 93.0h0M99.1 95.9h0M108.0 88.7h0M87.0 91.4h0M96.4 90.4h0M98.9 97.2h0M102.1 91.5h0M84.8 69.7h0M103.0 85.3h0M104.7 93.0h0M104.8 90.1h0M103.5 93.4h0M107.1 87.2h0M107.4 98.8h0M108.5 93.5h0M108.0 84.9h0M105.3 94.9h0M116.8 88.2h0M105.2 96.5h0M94.3 92.5h0M101.2 95.7h0M112.9 91.8h0M114.2 95.5h0M98.6 80.6h0M108.8 95.6h0M95.0 96.6h0M101.5 87.1h0M107.7 90.2h0M107.6 93.1h0M106.4 90.6h0M104.5 98.3h0M111.4 94.5h0M106.8 102.0h0M104.9 94.7h0M98.0 90.9h0M103.0 82.4h0M107.5 95.5h0M97.0 90.6h0M112.9 98.2h0M117.5 87.3h0M120.7 94.1h0M107.0 78.8h0M110.2 97.4h0M100.7 89.3h0M109.1 87.4h0M111.8 93.9h0M111.9 91.6h0M102.1 100.8h0M103.1 83.7h0M106.8 90.9h0M115.7 92.9h0M101.5 85.6h0M96.9 97.7h0M104.0 87.9h0M110.9 100.6h0M112.5 97.6h0M87.9 91.5h0M109.0 92.3h0M112.9 88.7h0M110.6 99.4h0M101.1 101.3h0M104.2 91.8h0M117.9 87.2h0M104.4 99.4h0M103.6 87.2h0M98.1 98.8h0M97.4 92.9h0M92.2 101.5h0M116.4 91.8h0M108.2 90.2h0M114.4 89.5h0M107.0 80.5h0M107.7 93.0h0M99.1 91.8h0M116.2 92.9h0M111.7 93.7h0M102.0 95.4h0M107.6 80.8h0M90.8 92.4h0M103.3 94.1h0M105.9 89.9h0M114.9 86.0h0M87.7 88.9h0M76.5 97.6h0M108.9 83.3h0M110.5 95.7h0M101.7 95.3h0M103.2 90.3h0M100.1 75.5h0M107.2 87.1h0M103.8 89.6h0M103.1 96.1h0M101.1 81.0h0M107.4 94.4h0M111.0 92.1h0M118.8 84.7h0M107.9 100.8h0M101.6 89.4h0M98.2 78.6h0M110.0 90.5h0M100.0 89.7h0M116.9 88.7h0M100.7 95.1h0M103.5 92.3h0M112.5 94.0h0M101.6 89.8h0M103.4 98.1h0M96.0 95.9h0M101.8 94.4h0M112.2 86.0h0M92.3 69.8h0M110.9 90.2h0M108.1 86.7h0M114.9 96.9h0M96.5 91.5h0M93.1 95.8h0M92.0 93.8h0M118.6 97.8h0M94.9 82.1h0M124.0 92.6h0M100.3 91.9h0M98.0 84.2h0M97.2 100.2h0M116.7 83.9h0M96.2 99.8h0M97.6 95.3h0M102.7 92.8h0M108.3 97.1h0M98.1 80.1h0M88.3 91.9h0M127.0 81.6h0M102.9 85.5h0M84.7 80.6h0M92.0 92.0h0M99.6 98.1h0M110.9 90.1h0M103.7 87.7h0M115.9 99.4h0M90.9 95.8h0M105.0 100.4h0M105.8 91.9h0M109.2 96.1h0M114.9 77.6h0M99.7 97.0h0M106.5 93.5h0M108.6 94.8h0M109.5 90.0h0M100.7 91.2h0M103.1 85.0h0M106.1 89.4h0M118.6 91.0h0M113.1 95.5h0M98.3 93.6h0M112.1 83.9h0M115.0 94.7h0M97.4 93.6h0M100.5 92.6h0M112.1 85.3h0M112.1 75.3h0M95.3 79.8h0M95.0 89.5h0M99.4 90.6h0M108.3 88.6h0M86.0 87.7h0M113.0 87.6h0M101.6 92.0h0M99.2 87.6h0M101.5 91.7h0M108.3 94.3h0M106.1 80.5h0M96.2 91.4h0M110.6 92.3h0M99.1 87.5h0M101.2 99.4h0M120.5 95.4h0M94.6 92.5h0M92.8 90.1h0M105.7 100.0h0M106.5 86.6h0M108.4 95.2h0M116.3 89.5h0M99.9 89.6h0M119.2 88.1h0M113.5 84.2h0M103.6 91.3h0M109.4 91.4h0M105.7 85.2h0M100.8 84.5h0M94.6 92.9h0M113.9 91.2h0M117.1 94.6h0M113.3 91.6h0M111.2 87.2h0M100.6 96.5h0M110.1 88.7h0M111.0 95.8h0M94.8 98.3h0M116.4 86.9h0M99.5 85.6h0M108.9 80.3h0M98.3 99.7h0M91.9 89.0h0M94.1 88.6h0M100.8 87.8h0M112.9 98.8h0M95.0 92.8h0M117.0 86.0h0M101.7 82.2h0M116.9 86.0h0M101.4 91.8h0M106.9 92.3h0M102.8 99.1h0M106.6 95.9h0M102.3 90.5h0M107.3 88.0h0M108.7 93.6h0M113.2 92.4h0M102.9 84.5h0M93.5 92.4h0M99.2 97.4h0M94.6 93.1h0M96.4 92.9h0M90.5 96.0h0M100.7 90.2h0M108.7 79.9h0M99.1 91.0h0M94.3 96.6h0M106.7 94.7h0M101.4 92.4h0M104.9 95.5h0M111.8 96.9h0M118.5 88.3h0M105.6 83.3h0M107.6 98.7h0M87.3 90.8h0M118.2 100.2h0M96.3 90.9h0M104.2 89.9h0M102.0 93.7h0M101.9 99.8h0M87.5 97.6h0M109.8 90.0h0M107.6 88.2h0M103.5 84.5h0M108.5 99.7h0M116.2 95.2h0M94.7 88.2h0M100.5 94.6h0M99.3 91.7h0M106.5 82.7h0M89.0 90.7h0M113.6 79.9h0M106.4 87.0h0M102.3 83.6h0M106.1 97.1h0M111.3 80.4h0M103.1 82.2h0M87.6 91.1h0M116.7 95.5h0M95.8 82.4h0M100.2 91.8h0M101.6 87.9h0M106.6 97.7h0M98.9 96.8h0M95.4 99.4h0M97.4 101.1h0M108.1 85.2h0M110.6 86.6h0M102.0 88.8h0M101.2 101.1h0M104.1 85.1h0M112.6 79.9h0M105.9 94.7h0M114.6 93.6h0M101.9 99.2h0M105.9 95.7h0M103.1 82.0h0M112.3 99.3h0M104.0 86.2h0M102.1 86.5h0M94.6 92.3h0M102.0 78.3h0M96.0 87.1h0M102.8 99.7h0M111.4 84.0h0M105.9 83.9h0M106.7 84.9h0M107.1 81.8h0M102.2 101.4h0M103.0 91.7h0M92.8 82.6h0M107.6 91.2h0M101.3 89.0h0M103.2 98.9h0M99.2 93.9h0M89.6 87.0h0M99.1 99.1h0M116.0 88.1h0M115.1 96.5h0M111.7 89.4h0M110.0 82.2h0M105.7 83.9h0M99.4 76.2h0M113.2 97.7h0M115.5 89.1h0M105.4 93.1h0M83.7 97.4h0M114.3 91.4h0M97.0 99.9h0M103.7 85.0h0M114.7 94.6h0M95.0 94.6h0M123.1 84.9h0M107.0 97.4h0M117.5 93.9h0M111.7 97.8h0M104.5 95.5h0M94.6 85.6h0M103.1 88.1h0M100.8 88.2h0M89.4 87.6h0M116.0 98.3h0M102.0 95.8h0M100.4 84.9h0M98.7 89.3h0M79.9 90.7h0M95.0 97.2h0M114.7 85.9h0M105.7 80.7h0M101.6 86.5h0M98.9 94.4h0M107.4 92.1h0M100.9 98.6h0M100.7 87.9h0M104.9 96.4h0M107.5 86.4h0M118.0 86.8h0M108.7 92.1h0M109.4 85.7h0M119.2 96.9h0M102.0 94.5h0M102.5 82.6h0M96.1 91.7h0M97.7 80.1h0M104.0 97.1h0M109.9 89.4h0M97.8 77.0h0M110.9 90.7h0M105.8 93.9h0M108.0 87.5h0M85.9 93.2h0M99.0 90.0h0M104.8 93.2h0M100.2 88.6h0M106.6 99.6h0M97.5 89.6h0M107.3 86.9h0M106.2 100.2h0M111.7 90.4h0M113.0 77.7h0M15.1 81.3h0M15.1 94.3h0M15.1 70.3h0M15.1 70.4h0M14.9 98.0h0M15.0 98.5h0M14.9 63.7h0M15.2 50.6h0M15.0 47.2h0M15.2 73.6h0M15.0 41.3h0M15.1 102.0h0M14.9 86.5h0M15.0 91.8h0M15.0 95.8h0M15.1 92.2h0M15.0 94.0h0M14.9 100.7h0M14.9 99.6h0M14.9 95.7h0M15.0 57.1h0M15.1 94.1h0M15.2 77.1h0M15.1 79.2h0M15.1 66.8h0M15.0 69.7h0M15.1 54.0h0M14.9 51.1h0M15.2 80.7h0M15.1 95.9h0M15.1 93.3h0M15.0 39.3h0M15.0 54.7h0M15.1 56.3h0M15.1 84.1h0M14.9 78.7h0M15.1 51.3h0M15.1 75.9h0M14.9 39.7h0M15.1 93.9h0M15.2 95.8h0M15.0 87.0h0M15.0 94.4h0M15.0 96.2h0M15.0 44.2h0M15.0 57.9h0M14.9 43.1h0M15.0 38.2h0M15.0 43.7h0M15.0 93.1h0M14.9 44.5h0M14.9 89.2h0M15.1 39.4h0M15.2 89.7h0M15.1 87.4h0M15.0 41.9h0M15.1 97.6h0M14.9 76.3h0M15.0 55.9h0M15.0 75.2h0M124.1 101.6h0M77.1 101.6h0M20.1 101.5h0M56.5 101.5h0M40.8 101.8h0M15.8 101.8h0M58.3 101.8h0M87.4 101.5h0M127.7 101.7h0M85.6 101.5h0M18.1 101.6h0M92.3 101.6h0M123.1 101.7h0M58.3 101.5h0M48.9 101.6h0M109.4 101.7h0M44.9 101.6h0M40.1 101.7h0M117.0 101.6h0M71.8 101.6h0M122.9 101.6h0M26.4 101.7h0M32.4 101.6h0M65.9 101.7h0M58.4 101.6h0M50.7 101.6h0M100.6 101.5h0M110.7 101.8h0M34.8 101.5h0M30.5 101.6h0M125.3 101.6h0M45.9 101.6h0M87.8 101.5h0M64.5 101.7h0M20.2 101.5h0M36.7 101.6h0M87.8 101.5h0M110.4 101.8h0M23.1 101.6h0M122.8 101.7h0M22.6 101.7h0M66.1 101.8h0M65.9 101.7h0M57.0 101.5h0M119.6 101.6h0M35.1 101.7h0M26.0 101.6h0M120.5 101.5h0M52.1 101.5h0M76.3 101.8h0M31.6 101.7h0M112.4 101.6h0M38.6 101.8h0M59.0 101.6h0M19.2 101.6h0M115.7 101.8h0M107.0 101.5h0M92.0 101.6h0M17.5 101.5h0M67.3 101.8h0M34.2 101.6h0M60.3 101.6h0M113.8 101.8h0M15.3 101.6h0M18.0 101.5h0M100.2 101.6h0M80.9 101.5h0M105.4 101.5h0M81.6 101.6h0M37.6 101.6h0M49.1 101.7h0M110.7 101.5h0M81.6 101.6h0M84.4 101.8h0M76.4 101.6h0M121.1 101.5h0M66.9 101.5h0M80.0 101.5h0M46.8 101.7h0M46.1 101.6h0M102.6 101.6h0M42.8 101.7h0M93.3 101.6h0M38.2 101.8h0M93.7 101.5h0M15.4 101.7h0M93.2 101.7h0M54.0 101.6h0M55.1 101.7h0M102.3 101.7h0" fill="none" stroke="#000" stroke-width="0.7" stroke-linecap="square"/><path d="M44.4 49.2h0M45.3 50.2h0M48.0 50.5h0M48.3 50.6h0M55.9 51.0h0M34.7 50.6h0M20.9 51.4h0M17.7 49.8h0M78.8 52.0h0M55.0 50.6h0M25.2 51.9h0M18.9 51.0h0M27.4 50.9h0M45.2 51.1h0M43.6 51.4h0M56.6 50.1h0M47.5 50.4h0M33.1 50.1h0M79.8 52.4h0M61.0 50.9h0M35.5 51.0h0M19.6 51.6h0M64.8 49.6h0M40.1 51.8h0M77.3 50.9h0M28.6 50.9h0M74.2 48.7h0M40.8 51.3h0M19.7 49.9h0M32.5 49.9h0M20.7 49.9h0M64.3 52.7h0M22.7 50.9h0M18.9 51.3h0M66.8 51.3h0M44.1 51.8h0M27.4 50.9h0M56.8 50.5h0M22.6 50.4h0M32.5 51.2h0M78.1 51.1h0M72.5 50.3h0M28.7 49.7h0M56.7 51.9h0M21.5 51.5h0M31.8 50.9h0M65.2 50.6h0M19.8 51.5h0M20.9 50.4h0M54.1 50.6h0M39.2 49.0h0M46.4 51.5h0M52.3 51.2h0M25.0 50.5h0M74.0 51.2h0M27.3 50.3h0M63.1 51.4h0M76.8 50.7h0M72.3 50.2h0M21.7 50.4h0M17.5 51.5h0M60.8 50.8h0M31.7 51.4h0M34.1 49.9h0M26.4 50.8h0M29.8 50.6h0M51.4 51.6h0M33.2 50.0h0M74.6 50.9h0M32.5 51.0h0M44.0 51.4h0M39.0 51.1h0M52.2 51.4h0M72.9 51.5h0M78.7 50.2h0M53.0 49.9h0M24.1 51.0h0M74.2 50.9h0M60.6 51.1h0M56.4 50.9h0M46.3 50.8h0M80.0 50.2h0M19.9 49.6h0M73.5 50.5h0M62.9 50.5h0M74.5 49.5h0M37.9 50.2h0M71.6 49.3h0M42.1 51.3h0M52.2 49.4h0M55.6 50.1h0M54.6 51.6h0M20.2 49.3h0M72.2 49.0h0M62.3 49.9h0M52.8 51.7h0M43.6 51.1h0M63.8 50.6h0M16.9 50.2h0M30.0 50.4h0M60.4 49.8h0M74.8 50.9h0M31.6 51.6h0M59.1 50.9h0M28.2 51.7h0M57.9 52.4h0M43.7 51.5h0M58.3 50.5h0M27.9 49.6h0M74.4 51.5h0M72.2 50.1h0M35.6 51.6h0M23.9 49.4h0M70.2 50.9h0M61.2 51.5h0M26.0 50.7h0M44.3 50.8h0M41.9 51.4h0M55.7 50.2h0M69.5 50.9h0M78.8 50.6h0M17.0 51.0h0M71.7 52.1h0M52.1 51.2h0M35.1 50.9h0M23.8 50.7h0M44.6 52.4h0M30.4 51.1h0M24.2 52.0h0M44.0 51.2h0M55.9 50.1h0M77.3 49.7h0M59.5 51.2h0M26.6 51.8h0M15.7 49.7h0M26.6 51.1h0M32.7 50.2h0M48.8 51.9h0M54.9 50.9h0M66.5 50.1h0M73.9 52.5h0M62.0 51.9h0M23.4 49.8h0M74.1 51.2h0M39.5 49.4h0M66.8 50.2h0M76.4 49.8h0M28.3 51.2h0M61.9 51.4h0M61.6 49.9h0M28.9 52.7h0M78.5 49.6h0M49.9 51.1h0M74.1 50.2h0M70.6 50.7h0M43.7 51.2h0M50.8 51.0h0M16.8 50.0h0M67.6 52.2h0M26.2 51.5h0M36.8 51.0h0M24.7 50.5h0M48.6 50.6h0M59.8 49.4h0M76.5 48.9h0M20.6 51.0h0M29.4 50.2h0M62.4 50.8h0M56.5 49.4h0M51.4 50.7h0M35.3 49.8h0M73.5 51.9h0M28.5 52.1h0M49.1 49.2h0M52.2 51.2h0M47.7 51.8h0M54.3 53.0h0M48.5 51.3h0M41.0 51.2h0M46.9 49.9h0M59.9 51.8h0M41.9 51.3h0M77.2 51.5h0M45.8 50.6h0M23.3 49.6h0M73.5 51.5h0M46.0 50.7h0M55.2 51.4h0M75.1 51.9h0M16.5 51.9h0M27.6 51.1h0M35.9 52.1h0M38.1 50.6h0M62.5 50.6h0M23.0 50.3h0M27.9 50.9h0M49.5 50.2h0M41.9 51.2h0M49.4 51.2h0M56.0 51.4h0M56.5 49.4h0M54.8 50.6h0M70.7 51.0h0M67.7 52.2h0M73.7 50.6h0M75.0 51.5h0M29.2 52.6h0M23.7 50.9h0M30.6 50.8h0M21.3 50.3h0M69.1 49.7h0M23.2 51.6h0M41.2 50.8h0M28.1 50.8h0M59.4 52.7h0M22.5 49.8h0M47.9 50.9h0M59.6 50.0h0M27.3 51.2h0M17.4 51.1h0M50.9 49.9h0M24.5 50.8h0M27.0 51.3h0M79.4 52.4h0M75.2 51.1h0M76.8 51.1h0M45.0 51.0h0M45.4 50.2h0M48.5 49.9h0M15.9 51.4h0M60.6 51.2h0M44.5 50.5h0M63.1 50.5h0M25.7 51.2h0M48.3 52.6h0M67.1 51.1h0M60.8 51.6h0M41.3 50.0h0M54.0 48.6h0M67.3 50.8h0M31.8 52.0h0M65.6 50.2h0M68.0 49.5h0M72.2 51.9h0M60.2 51.0h0M41.4 49.5h0M62.0 51.6h0M45.5 51.2h0M15.7 50.2h0M55.6 51.8h0M30.1 52.0h0M37.0 50.5h0M57.9 50.0h0M40.3 50.5h0M80.0 50.1h0M64.5 49.9h0M78.7 52.0h0M63.0 51.1h0M31.7 50.7h0M27.7 51.0h0M39.4 51.4h0M73.9 51.3h0M50.8 48.8h0M51.9 50.8h0M79.7 50.0h0M20.0 49.8h0M53.8 50.9h0M75.5 50.7h0M25.4 50.4h0M47.2 51.0h0M54.7 52.7h0M42.3 51.6h0M49.2 50.3h0M33.6 50.5h0M57.6 50.3h0M61.6 50.7h0M34.2 51.5h0M17.8 51.0h0M25.2 50.9h0M73.3 50.1h0M63.6 53.2h0M76.4 51.6h0M19.8 51.6h0M46.0 50.4h0M78.3 50.9h0M75.9 51.9h0M62.0 48.7h0M68.1 51.3h0M54.2 51.7h0M44.6 51.6h0M28.2 51.8h0M23.1 51.2h0M43.8 50.5h0M32.0 50.1h0M52.8 49.7h0M49.5 51.6h0M79.8 52.1h0M30.5 50.5h0M22.4 52.0h0M55.6 50.0h0M38.3 50.7h0M51.7 52.1h0M53.5 50.0h0M27.3 49.9h0M31.2 52.7h0M72.1 50.7h0M17.6 51.5h0M42.6 51.1h0M55.5 51.7h0M19.7 51.5h0M20.6 50.4h0M56.0 50.0h0M39.3 50.4h0M37.3 51.0h0M63.4 51.1h0M22.8 50.6h0M67.6 49.9h0M28.9 49.9h0M42.6 50.8h0M39.0 52.4h0M57.5 51.6h0M50.7 50.9h0M63.5 51.6h0M39.0 50.5h0M21.3 51.1h0M20.4 50.7h0M51.7 49.7h0M34.4 51.0h0M65.4 51.4h0M58.0 51.2h0M20.3 50.5h0M60.1 52.1h0M33.4 51.4h0M62.2 51.5h0M38.8 51.8h0M52.0 51.7h0M74.7 52.5h0M43.5 50.2h0M67.2 50.7h0M41.0 51.6h0M75.8 51.4h0M38.5 50.5h0M38.8 50.4h0M40.2 51.5h0M27.7 49.6h0M50.1 50.3h0M69.4 50.4h0M64.3 50.7h0M72.3 50.9h0M48.5 51.1h0M50.4 49.0h0M57.3 50.0h0M67.3 51.8h0M66.2 51.3h0M20.5 52.0h0M73.4 51.5h0M20.5 50.6h0M63.5 50.6h0M57.2 50.9h0M64.7 51.5h0M48.9 51.0h0M37.0 50.1h0M77.9 50.5h0M49.9 50.1h0M61.9 50.4h0M41.7 49.2h0M68.7 50.1h0M67.4 49.5h0M69.2 52.4h0M56.6 49.6h0M49.1 50.5h0M42.4 49.5h0M42.3 51.7h0M79.4 51.9h0M39.4 51.2h0M42.6 51.4h0M34.0 51.2h0M35.0 50.8h0M22.5 50.1h0M26.7 49.8h0M19.1 48.5h0M74.1 51.5h0M17.4 51.8h0M29.1 51.7h0M30.3 50.4h0M29.6 48.4h0M27.0 50.7h0M64.2 52.0h0M35.3 47.6h0M46.2 49.9h0M31.9 54.1h0M37.2 48.2h0M50.6 53.0h0M29.4 50.3h0M18.2 54.1h0M40.0 49.8h0M49.3 49.4h0M79.4 50.7h0M57.7 50.9h0M45.7 51.2h0M39.2 51.8h0M54.4 48.0h0M25.2 51.8h0M31.9 52.3h0M71.5 48.2h0M79.6 50.6h0M32.3 49.8h0M65.1 50.7h0M15.1 52.5h0M68.4 47.6h0M20.4 50.5h0M21.3 53.9h0M46.2 46.3h0M53.1 51.8h0M70.7 49.8h0M42.1 54.1h0M74.6 53.9h0M28.5 52.8h0M50.3 49.8h0M69.1 50.7h0M35.2 50.6h0M34.9 51.6h0M45.4 50.5h0M59.7 49.1h0M21.9 49.2h0M77.8 52.2h0M68.9 50.7h0M39.5 50.7h0M61.2 51.1h0M44.8 53.3h0M15.7 54.3h0M28.4 50.7h0M55.0 50.4h0M50.1 52.7h0M34.4 49.9h0M58.3 52.5h0M31.7 51.9h0M36.4 53.8h0M76.4 48.1h0M36.6 49.7h0M68.7 51.8h0M21.1 51.5h0M59.1 50.6h0M41.1 49.7h0M69.4 50.2h0M29.7 50.4h0M25.2 52.3h0M19.7 52.3h0M74.8 48.9h0M57.1 51.9h0M64.8 51.7h0M36.5 49.2h0M41.8 52.8h0M60.5 51.1h0M78.8 51.6h0M54.6 48.2h0M16.2 50.1h0M57.3 52.4h0M21.9 49.3h0M66.3 52.5h0M68.6 50.0h0M64.8 50.2h0M73.7 49.2h0M47.5 50.4h0M24.2 49.6h0M48.5 45.5h0M61.5 51.5h0M76.4 49.8h0M55.8 51.2h0M30.9 51.7h0M52.5 50.3h0M75.4 49.3h0M38.5 49.9h0M78.3 51.1h0M23.8 52.9h0M51.4 49.6h0M51.4 50.5h0M79.5 55.0h0M68.1 50.1h0M68.6 50.3h0M33.8 52.0h0M52.3 50.0h0M69.0 51.8h0M20.0 53.1h0M17.1 53.3h0M76.1 56.0h0M57.8 49.9h0M62.9 53.6h0M39.8 48.0h0M16.1 49.0h0M28.0 49.9h0M40.1 51.1h0M52.0 52.0h0M32.1 52.9h0M51.9 49.6h0M17.5 53.3h0M58.6 53.9h0M54.0 54.7h0M45.5 48.6h0M59.8 52.3h0M64.3 50.9h0M79.6 48.7h0M69.5 52.1h0M43.2 49.4h0M51.8 52.8h0M49.1 49.6h0M43.1 52.3h0M18.6 50.0h0M62.2 53.4h0M53.8 49.1h0M63.9 50.0h0M19.5 53.3h0M23.1 48.8h0M40.8 51.6h0M18.4 50.1h0M30.5 48.7h0M34.9 49.8h0M19.4 51.8h0M74.2 53.7h0M71.3 50.3h0M42.4 51.4h0M63.5 49.6h0M51.8 51.6h0M66.5 50.4h0M23.0 46.4h0M15.0 49.8h0M30.9 50.4h0M19.1 52.5h0M73.2 51.7h0M38.2 49.1h0M53.1 51.4h0M73.4 51.0h0M35.0 46.5h0M78.5 50.9h0M45.7 51.3h0M75.0 52.4h0M73.3 52.1h0M38.0 54.3h0M45.7 52.7h0M79.7 54.3h0M28.1 50.1h0M72.2 50.0h0M18.3 53.3h0M35.3 52.8h0M73.5 52.9h0M23.8 48.7h0M60.2 52.8h0M20.1 50.1h0M29.5 49.8h0M27.8 53.7h0M26.8 51.2h0M66.4 53.7h0M39.2 48.8h0M53.3 47.5h0M29.9 49.5h0M58.4 55.0h0M33.0 50.4h0M78.9 50.3h0M43.6 48.6h0M17.9 50.5h0M54.0 50.6h0M67.2 52.3h0M20.7 50.2h0M31.0 54.0h0M33.1 49.7h0M73.3 50.5h0M79.2 53.0h0M63.8 51.3h0M40.0 52.9h0M26.7 49.9h0M51.1 49.8h0M57.8 49.5h0M65.9 48.7h0M70.0 50.7h0M59.5 46.3h0M26.3 50.3h0M65.7 52.2h0M30.3 53.1h0M43.6 51.4h0M66.4 47.6h0M97.7 50.8h0M87.2 52.5h0M65.4 50.3h0M53.3 51.7h0M72.7 44.5h0M90.9 49.7h0M76.5 49.2h0M80.3 51.9h0M111.4 52.8h0M93.9 52.7h0M98.8 47.3h0M110.1 49.5h0M107.8 50.8h0M113.8 54.0h0M83.8 52.4h0M53.6 54.9h0M59.6 48.8h0M96.1 50.1h0M96.5 48.9h0M91.5 54.8h0M95.2 48.1h0M56.8 51.5h0M80.4 56.0h0M53.6 49.3h0M54.5 50.3h0M78.0 54.8h0M58.2 47.8h0M97.6 52.3h0M75.8 48.5h0M89.4 47.6h0M53.0 50.5h0M53.5 49.5h0M80.3 51.8h0M75.0 50.9h0M80.0 55.9h0M104.5 54.8h0M81.1 48.9h0M113.0 49.6h0M57.7 50.2h0M105.4 52.5h0M82.6 48.6h0M106.8 52.2h0M66.5 51.8h0M78.7 46.9h0M73.4 48.2h0M70.2 51.9h0M89.9 48.9h0M99.5 52.0h0M79.1 45.5h0M79.1 51.7h0M74.1 56.5h0M100.3 46.5h0M75.7 48.8h0M69.0 47.0h0M96.3 54.4h0M92.8 49.6h0M77.8 49.7h0M99.3 49.3h0M84.5 53.2h0M95.5 50.5h0M51.1 47.0h0M66.6 53.0h0M89.3 51.3h0M113.6 53.4h0M62.6 51.6h0M87.3 50.3h0M102.6 52.2h0M87.8 48.6h0M95.6 51.1h0M87.1 46.5h0M66.1 49.9h0M84.8 47.6h0M113.2 53.8h0M70.8 54.2h0M96.5 52.8h0M86.3 50.2h0M83.8 49.2h0M90.0 50.8h0M107.2 49.7h0M101.6 49.0h0M76.9 53.0h0M79.5 53.6h0M83.9 54.2h0M111.0 50.6h0M72.6 50.9h0M69.2 49.8h0M94.3 49.0h0M74.3 46.3h0M67.5 48.8h0M51.5 53.3h0M74.0 50.0h0M69.9 49.6h0M105.8 52.6h0M61.4 50.0h0M57.5 54.8h0M97.3 53.2h0M66.9 46.8h0M51.8 51.1h0M102.4 51.9h0M95.0 49.4h0M94.8 48.0h0M64.0 55.4h0M80.3 49.7h0M102.0 53.4h0M86.5 44.9h0M64.3 45.9h0M64.3 49.7h0M111.7 49.8h0M71.8 48.2h0M103.0 51.8h0M108.6 50.1h0M72.7 49.4h0M95.2 51.9h0M105.8 56.1h0M64.5 49.6h0M96.0 52.2h0M53.0 50.5h0M103.8 49.9h0M84.8 49.8h0M52.8 50.2h0M72.6 54.3h0M105.2 50.5h0M54.0 51.2h0M94.6 51.1h0M61.3 50.3h0M94.5 54.6h0M70.6 48.7h0M85.9 51.2h0M72.8 49.5h0M68.7 52.3h0M66.7 53.0h0M87.9 51.0h0M67.2 54.6h0M80.0 54.1h0M82.8 48.7h0M98.3 55.8h0M89.8 48.6h0M82.0 47.4h0M76.4 48.4h0M80.0 52.8h0M83.9 46.3h0M107.1 49.9h0M64.3 53.0h0M52.0 51.1h0M101.0 49.2h0M62.2 49.3h0M105.6 52.8h0M94.3 47.4h0M97.7 48.3h0M85.4 51.5h0M106.3 56.6h0M103.5 50.5h0M54.8 50.9h0M84.8 57.7h0M82.9 48.9h0M83.1 55.6h0M113.4 58.1h0M50.9 54.6h0M59.5 47.9h0M57.1 53.2h0M86.0 53.4h0M98.8 49.8h0M87.9 49.4h0M79.7 50.0h0M107.6 50.0h0M78.6 49.2h0M84.8 49.0h0M90.4 53.7h0M51.1 51.5h0M63.7 54.5h0M54.7 51.0h0M111.3 48.5h0M85.8 53.8h0M66.8 53.0h0M102.1 50.1h0M53.7 46.5h0M52.2 51.2h0M62.9 49.4h0M51.9 52.3h0M111.3 53.3h0M70.6 50.5h0M61.8 55.7h0M90.6 46.2h0M52.8 46.8h0M86.0 47.2h0M66.1 54.1h0M95.8 52.0h0M112.0 53.6h0M65.4 49.8h0M93.2 56.5h0M54.2 51.5h0M68.6 52.6h0M104.1 48.6h0M92.9 43.9h0M90.2 47.7h0M81.6 53.6h0M53.8 48.2h0M84.0 50.9h0M53.1 58.1h0M73.8 52.1h0M71.1 52.9h0M108.5 53.6h0M61.5 47.7h0M99.0 50.8h0M86.2 50.9h0M96.4 52.5h0M55.0 51.2h0M62.1 50.3h0M79.9 52.8h0M97.7 47.8h0M98.7 50.7h0M102.8 50.0h0M59.5 51.2h0M51.8 51.4h0M106.1 50.0h0M53.0 51.6h0M104.2 46.1h0M52.4 47.3h0M57.2 50.4h0M57.2 52.4h0M62.8 49.8h0M60.8 49.6h0M84.3 49.7h0M86.4 51.8h0M82.5 48.6h0M52.5 52.7h0M89.4 51.6h0M50.6 53.0h0M106.8 48.6h0M84.7 49.4h0M110.2 52.5h0M95.3 52.7h0M73.8 49.3h0M52.6 45.3h0M68.2 49.6h0M100.2 55.0h0M94.8 52.3h0M75.2 50.0h0M104.6 50.9h0M112.7 49.5h0M97.4 52.4h0M88.7 49.0h0M111.4 53.5h0M107.0 48.8h0M113.9 52.8h0M111.5 47.6h0M59.2 48.0h0M58.4 52.7h0M100.0 54.2h0M67.9 52.2h0M70.7 49.5h0M78.6 49.7h0M104.9 52.8h0M73.4 50.6h0M94.4 52.7h0M62.7 55.5h0M85.6 50.7h0M50.1 50.9h0M50.1 49.8h0M113.4 52.6h0M90.8 54.6h0M64.9 52.4h0M80.8 49.9h0M109.9 45.8h0M76.9 49.7h0M70.0 53.2h0M97.5 47.0h0M59.7 51.7h0M100.1 52.5h0M89.5 50.4h0M60.4 53.4h0M61.7 51.4h0M96.8 47.3h0M112.0 49.1h0M53.7 51.4h0M79.4 51.2h0M102.8 49.5h0M104.8 47.8h0M73.8 53.6h0M51.6 53.2h0M64.7 52.3h0M54.1 51.1h0M84.0 53.3h0M102.7 53.3h0M72.0 53.6h0M96.6 53.5h0M106.6 47.6h0M105.2 49.7h0M93.3 52.9h0M99.6 50.5h0M90.5 50.4h0M80.5 50.9h0M66.9 48.3h0M82.7 49.0h0M53.8 53.2h0M93.7 53.4h0M113.4 51.4h0M79.2 48.7h0M82.4 51.7h0M108.9 48.3h0M118.8 63.8h0M117.7 40.3h0M123.4 63.4h0M126.9 41.0h0M119.7 44.6h0M127.0 70.6h0M117.8 57.9h0M124.3 63.6h0M121.8 60.5h0M118.5 42.3h0M117.9 59.3h0M117.7 73.6h0M119.5 40.5h0M123.8 65.2h0M124.9 56.9h0M127.0 65.7h0M127.2 70.2h0M119.3 56.4h0M118.5 64.0h0M120.7 57.5h0M120.4 46.7h0M123.1 67.6h0M120.2 44.9h0M123.4 63.7h0M122.6 71.5h0M127.3 69.0h0M123.2 75.7h0M122.8 59.7h0M118.5 52.2h0M120.4 50.1h0M119.3 47.0h0M117.2 61.1h0M121.2 70.5h0M124.7 75.3h0M126.9 44.2h0M123.9 75.2h0M117.0 45.2h0M116.2 46.8h0M127.4 73.4h0M117.7 40.2h0M117.3 72.9h0M119.9 61.7h0M120.3 56.0h0M123.6 75.7h0M116.8 56.0h0M94.3 74.7h0M91.3 62.0h0M70.9 60.7h0M89.0 77.4h0M90.0 69.9h0M83.0 73.8h0M103.0 66.9h0M91.9 68.3h0M78.6 77.7h0M72.5 65.5h0M101.4 69.3h0M83.3 60.2h0M82.7 73.7h0M93.2 70.5h0M102.3 64.2h0M79.7 70.5h0M101.6 72.7h0M99.2 75.7h0M70.8 70.9h0M78.4 72.0h0M96.8 75.1h0M76.5 64.3h0M75.4 75.7h0M94.0 69.0h0M88.7 73.4h0M85.4 59.5h0M102.4 74.3h0M86.8 69.1h0M77.0 60.8h0M71.8 71.6h0M97.6 61.6h0M76.6 65.8h0M79.6 73.9h0M78.4 61.5h0M83.8 76.5h0M94.2 57.9h0M74.8 56.3h0M92.7 71.4h0M75.7 62.1h0M99.0 56.2h0M94.9 75.7h0M92.2 63.0h0M95.2 78.1h0M89.0 70.5h0M90.4 78.2h0M103.1 71.6h0M86.6 58.1h0M86.6 65.6h0M93.1 67.1h0M78.2 60.0h0M95.5 69.3h0M96.2 59.8h0M85.2 57.9h0M75.9 63.7h0M79.3 78.8h0M73.6 67.8h0M73.2 77.1h0M73.5 76.4h0M80.7 64.0h0M73.3 70.7h0M72.5 71.7h0M88.1 61.9h0M92.1 72.7h0M72.2 77.8h0M99.8 75.0h0M101.4 63.6h0M74.4 65.8h0M101.2 72.0h0M73.7 73.8h0M97.5 66.5h0M92.1 76.8h0M84.4 74.7h0M89.4 74.6h0M98.8 58.7h0M76.4 69.7h0M81.8 62.4h0M70.0 66.1h0M103.9 65.2h0M77.3 64.3h0M90.4 55.7h0M75.8 68.1h0M82.4 72.4h0M74.4 56.6h0M101.0 73.8h0M91.9 70.1h0M76.5 58.7h0M85.1 72.1h0M85.7 67.5h0M72.7 78.7h0M78.1 64.7h0M97.4 78.7h0M82.5 66.3h0M98.5 67.2h0M74.0 60.4h0M81.5 55.1h0M72.2 77.3h0M98.4 75.7h0M80.3 63.7h0M101.9 56.3h0M84.7 64.1h0M95.3 72.1h0M103.8 79.2h0M90.6 77.9h0M90.3 60.2h0M87.3 61.7h0M100.9 75.0h0M73.5 71.2h0M91.9 74.3h0M75.0 69.6h0M73.7 65.7h0M82.3 63.9h0M83.9 67.9h0M73.8 68.2h0M72.6 72.5h0M71.2 67.1h0M70.1 74.5h0M102.0 73.6h0M85.5 66.6h0M95.7 56.9h0M82.1 67.0h0M75.9 66.5h0M81.9 58.5h0M90.0 65.9h0M74.3 68.4h0M77.7 69.2h0M80.8 73.0h0M90.3 55.1h0M81.4 74.0h0M81.5 74.3h0M99.3 78.1h0M95.6 65.7h0M86.3 57.2h0M80.0 61.5h0M97.1 74.6h0M91.4 74.1h0M84.6 71.0h0M82.1 55.3h0M87.8 76.9h0M86.9 77.6h0M83.1 61.3h0M75.4 65.8h0M80.5 57.8h0M80.6 78.8h0M96.5 65.5h0M78.0 67.4h0M81.3 70.5h0M79.5 70.5h0M96.1 62.0h0M77.5 69.2h0M89.5 77.0h0M97.6 66.5h0M86.8 74.7h0M89.6 58.0h0M83.0 57.9h0M92.8 74.5h0M91.6 56.4h0M83.8 55.4h0M93.2 73.8h0M76.8 72.9h0M71.7 58.6h0M101.5 60.4h0M92.1 78.4h0M96.1 66.4h0M84.6 65.0h0M75.3 74.6h0M87.7 74.1h0M86.3 60.9h0M78.8 58.0h0M94.5 67.5h0M83.1 79.4h0M82.4 63.9h0M77.6 61.9h0M78.4 67.8h0M84.3 66.7h0M98.4 63.8h0M90.6 67.8h0M102.2 69.9h0M101.6 64.0h0M76.6 60.2h0M97.8 57.9h0M79.9 76.2h0M72.1 72.6h0M83.4 60.6h0M102.2 76.5h0M77.2 58.3h0M88.9 56.8h0M102.2 63.2h0M80.7 56.4h0M86.6 69.0h0M74.3 72.5h0M43.2 73.5h0M65.6 74.8h0M39.1 61.7h0M50.0 63.2h0M40.0 59.2h0M23.2 55.6h0M49.9 75.8h0M69.0 59.7h0M26.3 55.2h0M20.8 73.5h0M34.0 62.2h0M25.8 70.5h0M25.5 76.8h0M16.3 76.2h0M37.5 64.1h0M42.6 58.9h0M65.4 66.0h0M45.0 74.8h0M51.4 74.0h0M21.5 60.5h0M26.7 65.8h0M29.4 75.4h0M26.5 62.7h0M37.3 60.9h0M54.0 65.3h0M58.8 61.8h0M61.0 73.9h0M37.2 76.4h0M66.0 58.6h0M45.3 74.8h0M40.8 44.9h0M49.3 44.6h0M57.6 45.6h0M114.1 41.0h0M16.4 43.0h0M79.0 40.4h0M118.5 41.3h0M74.8 39.8h0M97.6 42.3h0M31.5 45.5h0M96.0 82.2h0M91.9 86.3h0M98.4 88.5h0M86.8 91.7h0M108.8 99.8h0M93.4 78.4h0M87.8 80.6h0M85.8 99.9h0M122.5 81.0h0M86.1 82.0h0M88.3 101.9h0M108.9 91.7h0M106.2 96.0h0M126.0 81.1h0M121.1 94.7h0M84.5 100.4h0M112.4 86.0h0M122.0 84.8h0M125.9 100.2h0M84.9 84.9h0M96.1 93.5h0M117.6 90.7h0M117.1 85.8h0M100.0 88.2h0M104.5 83.8h0M110.2 99.9h0M114.2 84.4h0M98.4 84.3h0M101.0 101.7h0M100.5 93.6h0M84.8 89.0h0M106.5 81.1h0M114.2 83.3h0M114.3 85.3h0M100.3 88.6h0M111.5 82.7h0M93.3 81.2h0M100.5 89.4h0M89.1 87.4h0M121.8 101.7h0M108.0 97.6h0M126.8 78.2h0M95.4 95.2h0M105.1 83.0h0M86.3 82.1h0M93.0 80.7h0M87.6 86.6h0M115.7 94.4h0M117.3 95.7h0M102.3 79.7h0M101.8 82.2h0M117.5 88.9h0M98.8 99.5h0M94.4 99.1h0M84.9 97.8h0M109.5 80.0h0M105.3 79.7h0M116.3 84.4h0M121.9 97.7h0M102.4 89.8h0M111.5 98.5h0M110.0 90.7h0M93.5 83.3h0M105.2 101.2h0M84.6 81.3h0M103.4 99.8h0M111.7 98.4h0M98.6 85.1h0M108.4 85.4h0M105.8 99.9h0M104.5 84.3h0M96.9 87.7h0M116.3 91.8h0M118.0 96.9h0M98.1 86.3h0M86.7 94.1h0M100.8 100.6h0M92.6 95.6h0M92.4 82.8h0M92.0 81.6h0M122.5 81.6h0M97.8 94.9h0M123.8 91.4h0M101.1 85.1h0M88.6 81.2h0M101.7 93.7h0M104.5 84.3h0M99.7 88.0h0M116.9 86.3h0M120.1 81.5h0M115.3 85.1h0M105.6 79.6h0M108.9 92.7h0M99.2 90.7h0M110.4 84.0h0M111.2 86.8h0M122.7 100.1h0M122.7 84.6h0M111.7 85.1h0M124.3 78.9h0M85.8 87.7h0M116.4 101.6h0M100.1 84.9h0M93.5 95.4h0M120.6 97.9h0M106.9 81.1h0M114.5 98.6h0M86.9 99.6h0M107.9 98.4h0M97.7 81.4h0M97.2 84.1h0M84.9 85.2h0M87.2 101.0h0M90.0 87.7h0M103.5 87.6h0M102.8 87.9h0M94.1 78.3h0M110.7 94.1h0M108.6 84.3h0M111.9 97.4h0M98.6 98.8h0M117.0 93.9h0M92.4 101.8h0M90.6 82.7h0M84.8 85.0h0M105.1 91.0h0M125.2 85.7h0M99.4 82.2h0M102.3 86.4h0M125.9 99.7h0M93.5 85.9h0M84.4 89.4h0M105.0 79.2h0M88.4 89.7h0M86.4 100.4h0M118.8 91.9h0M105.4 96.7h0M101.2 89.2h0M126.4 92.0h0M111.1 93.0h0M115.3 78.1h0M84.3 78.2h0M90.7 79.8h0M126.0 82.1h0M91.1 100.5h0M117.0 81.8h0M87.3 92.1h0M115.1 84.9h0M93.9 87.3h0M105.1 88.9h0M87.8 86.6h0M102.6 90.5h0M120.1 92.6h0M99.7 101.2h0M88.1 82.1h0M121.3 82.4h0M113.4 99.9h0M119.4 90.9h0M96.8 100.9h0M85.7 85.3h0M97.4 80.5h0M111.8 95.9h0M96.7 90.6h0M85.5 87.0h0M116.7 90.2h0M87.9 86.1h0M97.7 98.5h0M122.2 101.4h0M99.5 88.9h0M111.0 78.8h0M100.3 95.2h0M98.5 88.0h0M99.7 86.6h0M94.2 86.8h0M122.0 85.9h0M111.1 95.2h0M93.5 85.1h0M119.5 82.5h0M96.2 92.5h0M107.3 87.8h0M119.8 97.2h0M90.4 86.5h0M116.4 95.1h0M98.4 90.8h0M107.9 95.2h0M112.5 95.1h0M108.9 96.2h0M101.8 83.2h0M85.7 79.3h0M102.6 86.2h0M95.6 95.7h0M113.8 86.8h0M96.0 86.3h0M100.7 100.0h0M106.4 87.0h0M101.8 80.7h0M105.9 89.7h0M123.3 88.6h0M95.0 90.8h0M106.8 97.1h0M85.6 95.3h0M29.1 100.6h0M88.3 92.0h0M49.5 101.0h0M29.9 83.1h0M71.6 90.8h0M41.2 93.6h0M87.1 88.8h0M70.9 92.5h0M23.0 87.2h0M65.1 93.9h0M34.0 99.8h0M21.4 99.7h0M26.4 86.5h0M23.3 91.1h0M36.4 79.6h0M86.6 98.7h0M59.6 93.7h0M42.4 92.8h0M41.4 82.4h0M85.1 100.5h0M83.6 88.0h0M59.2 90.8h0M67.8 91.1h0M62.3 98.2h0M44.7 84.5h0M47.3 94.8h0M70.5 93.6h0M59.0 99.8h0M32.5 91.8h0M61.0 89.3h0M64.1 93.4h0M23.9 94.6h0M52.3 85.3h0M26.4 91.8h0M67.5 88.0h0M78.4 84.3h0M64.1 93.0h0M46.4 98.3h0M60.0 89.7h0M79.4 85.7h0M87.6 92.9h0M19.5 95.7h0M32.8 93.8h0M77.6 93.9h0M21.8 88.2h0M62.1 92.6h0M43.6 88.3h0M79.3 96.6h0M55.6 93.0h0M32.8 95.8h0M25.9 101.7h0M34.6 90.1h0M60.1 95.6h0M27.4 89.2h0M51.9 96.6h0M73.9 88.2h0M21.9 98.0h0M29.4 87.7h0M31.8 82.8h0M53.6 96.8h0M19.4 96.4h0M75.6 91.3h0M33.4 90.4h0M56.0 94.0h0M31.7 93.3h0M86.6 93.6h0M71.0 92.1h0M18.5 93.7h0M69.0 93.6h0M77.3 87.3h0M20.4 97.8h0M48.0 96.3h0M57.6 91.1h0M67.6 80.5h0M62.3 89.5h0M89.5 84.3h0M65.2 98.1h0M43.3 84.3h0M85.1 101.8h0M23.4 92.6h0M39.2 101.6h0M47.1 87.7h0M77.6 92.0h0M67.5 95.3h0M53.2 91.1h0M48.7 83.5h0M81.1 101.2h0M31.6 91.6h0M47.3 93.5h0M37.9 97.1h0M69.1 91.7h0M33.3 89.5h0M31.0 96.1h0M31.2 94.3h0M29.0 99.2h0M74.8 98.0h0M52.7 92.9h0M63.0 88.6h0M46.4 96.9h0M34.0 87.2h0M72.6 100.7h0M34.7 84.8h0M31.7 96.6h0M41.8 85.6h0M43.4 87.6h0M56.7 79.9h0M73.4 98.9h0M64.2 92.4h0M81.8 88.4h0M42.7 83.5h0M60.6 85.6h0M71.3 88.5h0M63.0 93.7h0M42.9 89.5h0M88.9 98.8h0M32.0 88.3h0M63.4 86.9h0M54.4 89.3h0M44.3 93.7h0M70.5 91.0h0M24.4 96.3h0M62.2 96.8h0M75.9 96.9h0M21.5 101.0h0M38.1 87.4h0M87.9 97.4h0M41.2 87.5h0M80.0 100.2h0M67.0 92.2h0M58.7 101.7h0M74.0 95.0h0M30.8 82.5h0M86.4 93.4h0M24.7 94.7h0M39.9 92.3h0M38.2 84.3h0M58.6 92.8h0M39.5 93.8h0M89.9 97.9h0M72.4 99.0h0M30.1 90.0h0M89.1 91.3h0M80.4 91.6h0M69.7 86.6h0M67.4 94.1h0M28.5 92.7h0M35.2 95.7h0M54.4 98.0h0M24.7 79.2h0M60.0 96.1h0M75.4 79.4h0M83.6 83.2h0M59.0 94.4h0M49.3 89.3h0M22.7 95.9h0M75.1 89.1h0M44.4 95.3h0M80.5 87.1h0M60.6 90.7h0M58.4 91.8h0M33.4 88.3h0M34.8 99.0h0M46.9 95.0h0M41.3 81.9h0M58.3 85.6h0M74.3 82.3h0M73.8 83.3h0M21.3 91.2h0M69.3 85.2h0M59.9 80.6h0M58.2 85.6h0M21.3 92.5h0M55.8 95.7h0M20.7 85.3h0M79.9 94.0h0M27.5 90.4h0M78.8 89.6h0M79.3 89.6h0M37.5 89.3h0M60.2 85.4h0M75.6 88.9h0M80.0 99.0h0M79.4 84.9h0M70.2 85.8h0M84.6 90.1h0M31.4 92.7h0M71.4 90.5h0M41.7 94.7h0M72.3 92.7h0M76.5 97.6h0M76.9 98.5h0M73.6 89.9h0M37.5 100.0h0M59.0 98.4h0M76.2 87.4h0M83.6 88.3h0M44.0 98.1h0M46.4 93.6h0M31.9 92.0h0M22.3 97.7h0M60.3 89.4h0M37.7 95.5h0M67.3 95.7h0M79.2 90.4h0M51.9 92.4h0M64.9 84.5h0M71.2 88.3h0M53.3 91.4h0M23.7 98.3h0M70.5 81.8h0M40.5 81.3h0M22.1 84.2h0M44.6 95.1h0M66.1 94.9h0M28.9 88.2h0M50.3 85.5h0M42.5 92.0h0M20.0 96.3h0M76.0 95.7h0M50.5 83.1h0M34.2 90.9h0M32.6 89.6h0M40.2 91.3h0M38.8 81.8h0M40.1 94.5h0M79.0 80.8h0M76.5 97.9h0M79.1 93.1h0M72.8 90.1h0M18.9 93.1h0M82.7 91.3h0M74.2 96.6h0M40.0 98.2h0M31.7 88.2h0M60.0 98.2h0M77.5 99.5h0M47.0 98.9h0M75.0 91.6h0M52.4 95.3h0M24.6 86.0h0M19.3 88.2h0M62.7 90.2h0M37.4 90.8h0M63.4 89.4h0M29.9 96.6h0M23.9 85.1h0M68.1 89.1h0M42.7 78.4h0M29.0 88.7h0M26.5 90.1h0M22.5 85.6h0M53.5 98.2h0M66.8 92.7h0M47.3 93.5h0M47.3 93.7h0M75.0 92.9h0M67.0 93.0h0M68.8 76.9h0M87.3 92.6h0M38.3 90.7h0M71.8 98.0h0M76.0 92.4h0M75.9 92.0h0M46.2 91.7h0M43.6 91.1h0M71.2 85.6h0M76.5 94.4h0M67.3 86.8h0M39.5 96.7h0M37.4 89.4h0M69.0 88.3h0M63.7 89.8h0M20.2 79.7h0M43.0 89.2h0M29.6 97.9h0M60.7 89.8h0M48.0 91.8h0M87.4 94.9h0M36.4 74.6h0M67.5 94.4h0M26.4 95.0h0M82.3 98.2h0M86.3 93.0h0M33.5 90.7h0M25.0 82.8h0M62.9 85.5h0M64.6 94.7h0M80.6 99.3h0M61.4 90.8h0M31.7 93.8h0M82.2 101.8h0M29.0 93.4h0M81.6 91.0h0M23.6 89.6h0M77.7 92.2h0M78.4 95.0h0M89.7 94.1h0M57.6 91.9h0M25.9 101.5h0M20.1 89.9h0M22.7 90.4h0M22.8 87.9h0M45.1 90.8h0M26.8 86.5h0M34.5 93.3h0M47.1 100.9h0M30.9 91.3h0M25.0 90.3h0M60.1 92.2h0M67.9 94.5h0M36.8 86.9h0M71.1 87.3h0M89.3 98.4h0M76.5 98.9h0M41.7 85.4h0M68.8 99.8h0M37.4 87.5h0M57.9 92.8h0M36.0 98.9h0M52.8 86.6h0M82.1 100.7h0M54.9 87.5h0M74.3 85.4h0M21.5 93.0h0M25.6 85.6h0M28.6 95.2h0M33.4 84.1h0M65.3 94.2h0M80.9 90.7h0M27.9 92.8h0M20.9 88.7h0M49.0 90.7h0M51.2 98.9h0M27.3 90.2h0M35.2 89.4h0M21.0 95.5h0M20.4 89.4h0M78.6 78.5h0M89.3 98.2h0M57.8 92.7h0M23.6 86.7h0M60.2 89.5h0M47.6 93.2h0M41.3 96.4h0M75.1 92.5h0M71.6 81.4h0M45.8 89.6h0M30.7 87.5h0M82.7 92.6h0M52.3 94.7h0M50.3 93.5h0M53.4 99.6h0M34.2 96.5h0M52.6 97.6h0M39.6 94.7h0M64.9 98.7h0M29.7 87.0h0M79.4 86.0h0M20.2 98.8h0M60.3 90.1h0M81.0 79.7h0M85.3 89.8h0M34.1 97.7h0M59.5 79.8h0M28.7 75.4h0M41.2 82.6h0M44.9 89.5h0M81.6 83.8h0M18.8 87.2h0M60.4 90.2h0M85.6 81.3h0M23.1 94.3h0M70.6 93.3h0M88.3 100.0h0M78.7 88.1h0M73.3 95.7h0M63.0 92.4h0M73.3 96.5h0M51.0 99.6h0M89.8 93.1h0M55.7 89.6h0M23.8 89.3h0M88.0 98.3h0M82.2 94.0h0M80.3 89.7h0M65.2 96.1h0M58.7 90.8h0M72.2 90.9h0M39.9 88.6h0M43.5 91.8h0M47.7 98.9h0M42.1 93.4h0M36.2 95.1h0M23.4 82.6h0M24.6 94.5h0M33.3 98.3h0M57.5 89.2h0M42.3 98.5h0M27.3 85.2h0M20.0 91.3h0M50.4 91.1h0M38.5 87.0h0M39.5 91.6h0M43.0 86.9h0M69.7 95.4h0M71.0 91.7h0M86.2 98.8h0M74.4 94.0h0M19.8 91.7h0M74.8 95.2h0M68.3 83.6h0M64.3 92.0h0M74.4 100.8h0M87.5 89.5h0M58.2 88.9h0M41.6 85.4h0M24.5 97.8h0M33.1 89.6h0M55.1 85.1h0M69.1 93.1h0M28.1 92.6h0M84.3 96.9h0M18.4 94.0h0M66.7 90.9h0M40.2 87.6h0M52.0 85.2h0M72.9 101.4h0M69.4 101.8h0M61.0 84.3h0M55.7 88.1h0M55.1 84.0h0M84.0 91.7h0M31.6 88.6h0M69.8 94.1h0M54.2 88.5h0M75.6 89.7h0M41.2 88.8h0M63.8 88.6h0M61.1 89.3h0M84.5 95.5h0M29.0 89.8h0M24.2 88.6h0M32.9 92.7h0M82.1 93.6h0M35.6 94.0h0M35.3 81.1h0M86.4 92.5h0M57.5 94.1h0M53.9 97.4h0M41.7 88.9h0M38.3 81.2h0M81.1 87.1h0M33.9 92.3h0M56.4 99.9h0M57.9 86.6h0M61.0 95.1h0M34.5 76.2h0M51.8 92.8h0M65.6 97.7h0M45.7 92.1h0M57.3 99.2h0M59.8 95.0h0M68.1 88.8h0M62.3 94.0h0M82.7 88.4h0M44.4 85.0h0M27.9 81.2h0M23.8 88.9h0M75.8 91.5h0M48.4 90.7h0M87.2 100.8h0M18.4 87.6h0M37.4 80.1h0M40.7 90.8h0M82.0 91.3h0M78.3 81.6h0M28.2 94.1h0M65.8 86.1h0M26.7 92.7h0M37.9 90.6h0M76.0 85.7h0M44.4 84.8h0M18.9 81.8h0M82.3 85.4h0M24.4 85.9h0M19.0 86.7h0M45.4 82.0h0M32.4 92.4h0M78.6 95.3h0M24.9 95.6h0M85.6 92.3h0M64.4 87.2h0M40.2 94.4h0M71.2 92.2h0M88.4 96.7h0M71.5 87.4h0M83.7 99.8h0M66.8 101.3h0M71.7 99.7h0M76.7 86.1h0M86.2 96.8h0M50.5 93.2h0M77.0 99.4h0M56.1 92.6h0M28.8 94.4h0M28.1 85.9h0M71.0 81.6h0M54.9 93.7h0M49.1 91.7h0M53.6 96.7h0M42.0 98.1h0M71.1 85.0h0M50.6 85.7h0M53.2 89.9h0M74.8 94.8h0M88.5 81.1h0M27.9 99.9h0M63.1 93.4h0M34.0 94.7h0M65.1 94.9h0M55.2 90.0h0M32.0 86.3h0M22.5 84.0h0M82.4 95.1h0M47.7 85.8h0M57.0 78.8h0M42.5 83.5h0M82.5 88.2h0M74.6 89.8h0M61.7 95.7h0M55.1 87.7h0M58.9 93.3h0M89.6 90.4h0M44.0 89.2h0M56.8 84.6h0M56.0 93.9h0M69.0 96.6h0M51.1 91.4h0M27.7 97.2h0M55.3 96.1h0M34.2 88.0h0M45.9 94.4h0M38.9 95.1h0M44.6 95.1h0M21.4 84.0h0M18.7 90.1h0M63.4 96.0h0M56.7 89.8h0M79.0 87.2h0M54.2 92.6h0M37.8 91.8h0M75.9 85.6h0M88.8 92.0h0M66.7 90.2h0M36.1 87.2h0M76.3 89.1h0M87.0 89.7h0M49.5 91.7h0M63.2 92.5h0M54.9 88.9h0M41.3 87.0h0M47.7 96.4h0M61.4 95.5h0M34.4 92.8h0M73.8 86.0h0M52.3 86.3h0M43.7 90.9h0M46.2 84.5h0M78.7 91.0h0M53.4 97.7h0M27.6 90.9h0M54.8 81.4h0M62.7 94.9h0M43.6 89.9h0M72.0 89.7h0M51.8 91.9h0M37.5 91.5h0M64.2 97.8h0M37.7 92.3h0M53.4 89.4h0M64.4 94.7h0M38.9 87.9h0M65.4 91.4h0M56.5 96.0h0M61.2 94.2h0M53.7 90.4h0M54.9 98.6h0M49.1 98.9h0M40.7 95.0h0M44.2 90.8h0M59.8 89.9h0M37.2 93.4h0M31.3 92.2h0M67.7 97.2h0M61.5 96.2h0M58.1 94.9h0M64.1 94.5h0M81.0 90.3h0M46.3 94.0h0M47.3 95.4h0M44.5 91.4h0M71.2 83.4h0M41.3 96.0h0M45.9 97.6h0M49.6 93.1h0M38.4 94.7h0M58.5 94.6h0M81.0 96.3h0M79.0 85.2h0M60.2 90.6h0M56.5 98.0h0M45.6 93.0h0M34.3 88.4h0M55.7 99.1h0M75.0 81.9h0M46.9 83.4h0M46.8 92.0h0M64.4 100.1h0M67.6 84.3h0M56.8 96.4h0M62.1 90.0h0M54.2 95.4h0M31.6 91.8h0M58.6 89.1h0M36.6 91.2h0M62.9 96.5h0M57.6 99.2h0M64.1 91.6h0M31.1 97.4h0M42.2 91.8h0M37.5 93.9h0M76.2 90.2h0M27.9 92.2h0M41.0 88.9h0M48.8 87.2h0M67.9 94.4h0M32.1 88.2h0M43.7 87.6h0M75.3 91.1h0M76.0 87.2h0M75.6 89.3h0M39.1 94.1h0M50.7 94.1h0M22.0 84.6h0M52.2 89.7h0M58.3 87.5h0M45.3 92.3h0M54.1 88.8h0M74.1 91.0h0M62.3 89.3h0M53.9 92.9h0M64.0 88.7h0M66.4 86.5h0M47.0 96.5h0M48.5 87.6h0M56.5 88.3h0M38.3 87.0h0M42.2 90.7h0M59.5 87.6h0M29.3 89.0h0M43.4 91.6h0M60.3 95.7h0M77.6 92.2h0M44.9 78.6h0M29.7 83.6h0M50.4 90.9h0M47.3 97.7h0M48.7 89.0h0M53.9 98.6h0M69.8 94.0h0M77.2 86.2h0M36.9 91.9h0M41.9 83.7h0M40.8 88.5h0M61.3 96.3h0M55.2 94.3h0M53.3 87.5h0M43.2 91.7h0M37.8 95.6h0M35.4 89.1h0M68.5 96.1h0M32.9 91.4h0M58.4 98.7h0M65.4 92.1h0M65.9 92.5h0M54.9 88.5h0M48.5 88.4h0M64.0 92.1h0M55.7 94.3h0M63.9 95.3h0M41.2 91.4h0M61.3 97.3h0M58.1 90.2h0M70.0 91.3h0M40.0 89.5h0M60.3 90.6h0M56.7 92.9h0M60.7 95.4h0M61.6 86.8h0M51.6 96.8h0M31.0 91.0h0M40.7 85.6h0M41.2 82.5h0M47.7 93.3h0M68.3 85.5h0M57.9 90.4h0M31.6 90.6h0M49.3 93.5h0M51.7 91.4h0M51.1 91.2h0M70.7 97.9h0M48.6 83.8h0M65.8 88.8h0M49.7 94.7h0M54.7 89.3h0M51.4 87.6h0M50.1 92.8h0M61.3 83.4h0M42.8 98.3h0M75.0 92.6h0M39.7 92.3h0M55.3 92.2h0M85.0 96.7h0M79.1 93.0h0M34.4 85.3h0M39.8 85.6h0M57.2 97.3h0M67.0 98.4h0M56.9 95.2h0M55.5 92.4h0M68.9 83.1h0M65.4 92.3h0M59.7 83.8h0M62.0 99.9h0M71.1 96.2h0M37.0 85.2h0M66.1 94.6h0M62.0 93.1h0M33.7 84.0h0M44.8 88.6h0M53.5 95.3h0M58.1 91.8h0M21.7 89.9h0M67.2 92.3h0M48.8 97.9h0M51.4 96.7h0M71.8 92.9h0M53.6 88.6h0M63.2 92.9h0M47.8 93.2h0M55.8 87.8h0M39.6 82.7h0M59.0 95.1h0M38.2 91.3h0M51.3 90.4h0M63.5 97.4h0M75.7 97.7h0M73.9 91.8h0M54.8 98.5h0M51.7 86.9h0M45.8 96.5h0M40.4 91.0h0M74.8 85.2h0M51.2 93.9h0M47.0 81.8h0M40.6 90.8h0M32.7 86.9h0M56.7 96.2h0M76.1 88.8h0M31.3 87.4h0M54.8 96.9h0M52.8 88.3h0M33.6 91.5h0M63.6 94.5h0M35.8 87.3h0M40.7 93.5h0M33.8 88.7h0M37.2 91.1h0M56.7 89.8h0M50.4 87.8h0M58.0 83.2h0M59.0 88.9h0M35.5 88.0h0M43.9 92.7h0M73.4 92.7h0M64.7 97.6h0M84.2 94.7h0M42.4 84.7h0M33.8 97.5h0M55.0 97.7h0M72.5 87.8h0M41.9 86.2h0M30.9 93.6h0M35.9 94.9h0M40.5 92.3h0M34.4 93.5h0M61.3 98.7h0M63.7 96.1h0M45.2 90.6h0M66.5 85.2h0M57.0 90.2h0M66.1 94.2h0M64.5 85.2h0M48.7 90.7h0M74.1 88.4h0M52.4 94.3h0M48.4 82.4h0M53.2 83.6h0M56.3 88.1h0M58.3 94.6h0M57.5 92.7h0M57.0 95.4h0M67.9 97.2h0M64.5 86.9h0M70.2 91.1h0M45.1 91.9h0M75.0 89.2h0M64.8 97.8h0M52.5 88.2h0M56.0 91.7h0M48.4 94.2h0M52.3 96.8h0M51.3 82.7h0M76.5 86.5h0M63.0 96.9h0M40.4 89.5h0M45.5 99.5h0M50.8 85.6h0M40.8 92.2h0M58.7 87.8h0M50.4 85.0h0M68.5 100.6h0M63.3 93.2h0M59.4 90.2h0M49.9 90.3h0M48.5 94.8h0M55.2 79.1h0M52.0 90.0h0M39.4 88.4h0M49.6 95.2h0M41.7 88.1h0M53.1 91.4h0M67.6 90.5h0M67.5 92.3h0M49.3 83.9h0M64.3 89.8h0M54.2 91.4h0M51.1 96.6h0M56.8 87.1h0M47.2 90.5h0M62.3 90.7h0M54.3 87.0h0M30.4 90.0h0M56.0 82.7h0M51.1 88.7h0M61.9 92.1h0M76.5 86.1h0M53.0 93.1h0M85.2 92.4h0M27.3 89.0h0M59.9 80.0h0M44.0 96.9h0M41.0 92.1h0M62.5 90.7h0M72.7 87.3h0M40.7 99.0h0M54.6 86.4h0M47.8 94.1h0M77.0 90.1h0M59.3 89.7h0M45.4 96.0h0M22.7 90.3h0M60.3 89.1h0M65.7 91.5h0M71.1 94.7h0M66.9 96.0h0M70.9 85.4h0M43.5 92.2h0M48.8 91.9h0M71.2 88.2h0M46.8 87.1h0M43.2 90.7h0M41.1 95.8h0M52.0 88.5h0M56.3 92.5h0M43.8 93.7h0M47.5 93.2h0M49.3 89.9h0M40.8 96.5h0M45.9 96.9h0M50.5 86.6h0M50.3 90.0h0M42.5 85.1h0M69.3 95.8h0M57.7 81.8h0M64.1 90.9h0M46.5 88.8h0M47.7 91.4h0M60.7 90.3h0M46.8 99.0h0M55.5 94.8h0M56.9 97.0h0M64.5 87.0h0M73.5 92.4h0M58.1 99.0h0M63.9 91.0h0M48.6 95.5h0M32.1 87.8h0M60.7 91.9h0M38.8 90.6h0M48.9 90.8h0M58.0 93.2h0M74.5 91.2h0M50.0 93.5h0M48.3 91.6h0M73.9 88.1h0M55.6 89.8h0M66.6 100.2h0M75.8 89.7h0M55.7 92.7h0M60.3 93.1h0M48.4 94.3h0M24.4 95.7h0M50.9 89.6h0M65.0 89.9h0M65.5 92.0h0M67.5 92.1h0M43.8 96.3h0M40.0 95.4h0M37.2 95.3h0M30.6 91.4h0M43.9 92.7h0M53.4 93.4h0M39.5 87.0h0M69.7 95.4h0M80.3 93.3h0M75.3 89.3h0M70.6 89.8h0M47.3 87.1h0M54.9 91.4h0M58.7 92.3h0M34.4 96.5h0M54.9 85.8h0M45.2 92.3h0M35.5 93.8h0M64.2 92.4h0M30.3 93.7h0M54.2 85.8h0M19.8 90.1h0M66.9 94.9h0M88.5 84.3h0M43.4 93.3h0M48.8 92.8h0M43.3 95.1h0M75.7 96.8h0M62.3 89.2h0M71.1 101.1h0M34.9 88.8h0M88.4 82.7h0M41.9 96.2h0M53.1 94.5h0M63.0 98.4h0M35.9 98.4h0M48.5 100.5h0M51.9 89.6h0M66.5 89.0h0M90.1 86.2h0M28.1 95.6h0M56.0 90.6h0M45.9 93.2h0M51.9 86.1h0M46.7 91.0h0M51.7 96.9h0M68.6 86.8h0M68.5 85.6h0M33.7 93.1h0M44.3 87.7h0M49.8 88.0h0M76.9 92.0h0M69.6 82.4h0M72.6 90.8h0M61.7 90.5h0M44.9 98.2h0M49.6 95.1h0M68.7 95.3h0M63.9 95.1h0M37.3 95.1h0M59.9 92.3h0M57.8 93.0h0M35.9 87.9h0M52.0 90.6h0M60.4 86.4h0M76.2 89.2h0M35.5 92.3h0M41.0 93.8h0M69.4 88.3h0M47.2 91.4h0M64.2 89.3h0M50.3 90.1h0M48.8 92.0h0M60.4 91.3h0M40.0 97.0h0M43.8 82.2h0M68.5 90.1h0M59.6 97.2h0M53.5 83.8h0M41.0 91.6h0M66.9 91.6h0M51.3 99.1h0M28.9 86.6h0M47.0 88.1h0M47.9 95.3h0M46.4 92.0h0M69.3 94.7h0M57.7 89.2h0M45.2 80.4h0M33.1 85.0h0M73.1 93.8h0M45.4 94.9h0M39.6 86.8h0M46.4 89.8h0M54.3 85.5h0M55.0 93.9h0M61.1 93.7h0M43.0 93.5h0M45.6 97.5h0M62.7 92.1h0M47.7 84.5h0M73.0 85.6h0M66.2 91.4h0M42.7 92.6h0M48.9 89.2h0M41.5 85.6h0M53.7 96.3h0M42.6 91.7h0M44.9 85.8h0M57.6 83.7h0M59.5 93.4h0M56.5 84.4h0M75.2 84.5h0M63.2 91.1h0M46.5 97.2h0M47.6 87.5h0M76.4 90.8h0M52.7 82.3h0M67.5 88.1h0M45.8 98.6h0M60.5 93.4h0M82.8 87.7h0M36.0 94.9h0M62.8 99.4h0M35.7 97.1h0M64.1 93.6h0M73.8 88.9h0M59.9 86.6h0M55.6 89.3h0M52.8 88.1h0M58.3 86.0h0M64.4 98.8h0M46.5 97.5h0M44.3 91.5h0M43.8 95.6h0M55.2 89.2h0M17.2 83.3h0M32.9 83.2h0M42.4 93.6h0M70.0 80.6h0M75.4 100.3h0M76.0 87.5h0M42.5 90.3h0M66.9 87.5h0M76.3 86.5h0M47.4 85.4h0M57.5 87.3h0M56.6 92.8h0M58.6 95.2h0M37.4 86.6h0M44.0 92.3h0M50.9 77.5h0" fill="none" stroke="#000" stroke-opacity="0.8" stroke-width="0.7" stroke-linecap="square"/></g>
<path d="M14.8 37.8H128.5V102.3" fill="none" stroke="#666" stroke-width="0.8"/><path d="M14.8 37.8V102.3H128.5" fill="none" stroke="#444" stroke-width="0.7" stroke-dasharray="1.6 0.8"/>
<rect x="82.3" y="75.2" width="43.5" height="27.1" fill="none" stroke="#222" stroke-width="1"/>
<path d="M118.5 89.6H144" stroke="#000" stroke-width="1.2" fill="none"/><path d="M148.2 89.6l-5.6-2.7v5.4z" fill="#000"/>
<text x="9.2" y="68.8" font-family="'Liberation Serif', serif" font-size="11" font-weight="bold" text-anchor="middle" transform="rotate(-90 9.2 68.8)" >7AAD</text>
<text x="62.6" y="119.8" font-family="'Liberation Serif', serif" font-size="11.2" font-weight="bold">H-2<tspan dy="-2.9" dx="0.6" font-size="6.8">d</tspan></text>
<path d="M152.8 103.8L152.8 75.4L154.1 75.4L157.1 73.4L160.1 67.4L163.2 58.3L165.2 53.8L168.2 49.2L170.2 48.6L173.3 49.2L176.3 50.2L178.3 54.2L181.3 60.3L184.4 68.4L187.4 78.5L190.4 87.6L192.5 93.6L194.5 96.6L197.5 97.6L200.5 97.0L202.6 97.6L204.6 95.6L206.6 93.0L208.6 93.0L210.0 95.6L211.2 90.6L213.3 86.1L214.7 88.6L215.7 94.6L217.3 90.6L218.7 82.9L219.7 80.9L221.1 82.9L222.3 92.6L223.4 100.7L224.8 102.1L229.8 102.9L235.9 103.3L243.5 103.5L243.6 103.8Z" fill="#000"/>
<path d="M153.3 103.8V57.5" stroke="#000" stroke-width="1"/>
<path d="M152.8 38.0H243.6" fill="none" stroke="#333" stroke-width="1"/><path d="M243.6 38.0V103.8" fill="none" stroke="#777" stroke-width="0.8"/>
<path d="M152.8 38.0V103.8" fill="none" stroke="#222" stroke-width="1" stroke-dasharray="2.2 0.5"/>
<path d="M152.8 104.1H243.6" fill="none" stroke="#333" stroke-width="1" stroke-dasharray="1.6 0.8"/>
<path d="M155.6 210.4L155.6 198.6L156.1 198.6L158.1 195.6L161.2 188.5L163.2 182.4L165.2 176.4L167.2 170.3L169.2 165.3L171.3 162.6L173.3 161.6L175.3 162.2L176.9 166.3L178.3 172.3L179.7 180.4L181.3 188.5L183.4 196.6L185.4 202.2L187.4 205.2L190.4 207.3L195.5 208.3L201.5 208.7L205.6 207.9L208.6 206.3L210.6 204.6L212.0 204.2L213.7 205.9L215.7 208.7L218.7 209.7L225.8 210.1L245.4 210.3L245.3 210.4Z" fill="#000"/>
<path d="M156.1 210.4V171.5" stroke="#000" stroke-width="1"/>
<path d="M155.6 144.5H245.3" fill="none" stroke="#333" stroke-width="1"/><path d="M245.3 144.5V210.4" fill="none" stroke="#777" stroke-width="0.8"/>
<path d="M155.6 144.5V210.4" fill="none" stroke="#222" stroke-width="1" stroke-dasharray="2.2 0.5"/>
<path d="M155.6 210.70000000000002H245.3" fill="none" stroke="#333" stroke-width="1" stroke-dasharray="1.6 0.8"/>
<text x="196" y="29" font-family="'Liberation Serif', serif" font-size="11.4" font-weight="normal" text-anchor="middle" >wt B6 recipient</text>
<text x="199" y="120" font-family="'Liberation Serif', serif" font-size="11" font-weight="bold" text-anchor="middle" >CFSE</text>
<text x="155.5" y="135.5" font-family="'Liberation Serif', serif" font-size="11.4">IL-10<tspan dy="-4" font-size="6.5">-/-</tspan><tspan dy="4"> B6 recipient</tspan></text>
<text x="202.5" y="226" font-family="'Liberation Serif', serif" font-size="11" font-weight="bold" text-anchor="middle" >CFSE</text>
<text x="337.5" y="43" font-family="'Liberation Serif', serif" font-size="16.5" font-weight="normal" text-anchor="middle" >Proliferation</text>
<text x="339.5" y="62.8" font-family="'Liberation Serif', serif" font-size="16.5" font-weight="normal" text-anchor="middle" >Index</text>
<text x="469" y="43" font-family="'Liberation Serif', serif" font-size="16.5" font-weight="normal" text-anchor="middle" >T Cell</text>
<text x="471" y="62.8" font-family="'Liberation Serif', serif" font-size="16.5" font-weight="normal" text-anchor="middle" >Expansion</text>
<path d="M308.5 72.9V189.3" stroke="#000" stroke-width="1.3" fill="none"/>
<path d="M303.9 189.3H386.3" stroke="#000" stroke-width="1.3" fill="none"/>
<text x="303.9" y="192.3" font-family="'Liberation Sans', sans-serif" font-size="8.2" font-weight="bold" text-anchor="end" letter-spacing="-0.25" stroke="#000" stroke-width="0.3">0</text>
<path d="M303.9 166.1H308.5" stroke="#000" stroke-width="1.3"/>
<text x="303.9" y="169.1" font-family="'Liberation Sans', sans-serif" font-size="8.2" font-weight="bold" text-anchor="end" letter-spacing="-0.25" stroke="#000" stroke-width="0.3">5</text>
<path d="M303.9 143.0H308.5" stroke="#000" stroke-width="1.3"/>
<text x="303.9" y="146.0" font-family="'Liberation Sans', sans-serif" font-size="8.2" font-weight="bold" text-anchor="end" letter-spacing="-0.25" stroke="#000" stroke-width="0.3">10</text>
<path d="M303.9 119.8H308.5" stroke="#000" stroke-width="1.3"/>
<text x="303.9" y="122.8" font-family="'Liberation Sans', sans-serif" font-size="8.2" font-weight="bold" text-anchor="end" letter-spacing="-0.25" stroke="#000" stroke-width="0.3">15</text>
<path d="M303.9 96.7H308.5" stroke="#000" stroke-width="1.3"/>
<text x="303.9" y="99.7" font-family="'Liberation Sans', sans-serif" font-size="8.2" font-weight="bold" text-anchor="end" letter-spacing="-0.25" stroke="#000" stroke-width="0.3">20</text>
<path d="M303.9 73.5H308.5" stroke="#000" stroke-width="1.3"/>
<text x="303.9" y="76.5" font-family="'Liberation Sans', sans-serif" font-size="8.2" font-weight="bold" text-anchor="end" letter-spacing="-0.25" stroke="#000" stroke-width="0.3">25</text>
<path d="M327.8 85.1V75.8M321.2 75.8H334.40000000000003" stroke="#000" stroke-width="1.3"/>
<rect x="315" y="85.1" width="25.600000000000023" height="104.2" fill="#fff" stroke="#000" stroke-width="1.25"/>
<path d="M366.15 116.1V108.0M359.54999999999995 108.0H372.75" stroke="#000" stroke-width="1.3"/>
<rect x="352.29999999999995" y="115.5" width="27.7" height="73.8" fill="#000"/>
<polygon points="328.60,68.70 329.33,70.19 330.98,70.43 329.79,71.59 330.07,73.22 328.60,72.45 327.13,73.22 327.41,71.59 326.22,70.43 327.87,70.19" fill="#000"/>
<path d="M441 74.0V189.0" stroke="#000" stroke-width="1.3" fill="none"/>
<path d="M436.4 189.0H519" stroke="#000" stroke-width="1.3" fill="none"/>
<text x="436.4" y="192.0" font-family="'Liberation Sans', sans-serif" font-size="8.2" font-weight="bold" text-anchor="end" letter-spacing="-0.25" stroke="#000" stroke-width="0.3">0</text>
<path d="M436.4 150.9H441" stroke="#000" stroke-width="1.3"/>
<text x="436.4" y="153.9" font-family="'Liberation Sans', sans-serif" font-size="8.2" font-weight="bold" text-anchor="end" letter-spacing="-0.25" stroke="#000" stroke-width="0.3">5</text>
<path d="M436.4 112.7H441" stroke="#000" stroke-width="1.3"/>
<text x="436.4" y="115.7" font-family="'Liberation Sans', sans-serif" font-size="8.2" font-weight="bold" text-anchor="end" letter-spacing="-0.25" stroke="#000" stroke-width="0.3">10</text>
<path d="M436.4 74.6H441" stroke="#000" stroke-width="1.3"/>
<text x="436.4" y="77.6" font-family="'Liberation Sans', sans-serif" font-size="8.2" font-weight="bold" text-anchor="end" letter-spacing="-0.25" stroke="#000" stroke-width="0.3">15</text>
<path d="M460.6 86.8V76.1M454.0 76.1H467.20000000000005" stroke="#000" stroke-width="1.3"/>
<rect x="448.1" y="86.8" width="25.0" height="102.2" fill="#fff" stroke="#000" stroke-width="1.25"/>
<path d="M498.54999999999995 128.0V121.9M491.94999999999993 121.9H505.15" stroke="#000" stroke-width="1.3"/>
<rect x="484.79999999999995" y="127.4" width="27.50000000000001" height="61.6" fill="#000"/>
<polygon points="459.30,69.15 459.90,70.37 461.25,70.57 460.27,71.52 460.50,72.86 459.30,72.23 458.10,72.86 458.33,71.52 457.35,70.57 458.70,70.37" fill="#000"/>
<polygon points="463.10,69.15 463.70,70.37 465.05,70.57 464.07,71.52 464.30,72.86 463.10,72.23 461.90,72.86 462.13,71.52 461.15,70.57 462.50,70.37" fill="#000"/>
<text x="289.4" y="131.3" font-family="'Liberation Sans', sans-serif" font-size="9.7" font-weight="bold" text-anchor="middle" transform="rotate(-90 289.4 131.3)" stroke="#000" stroke-width="0.2">Proliferation Index</text>
<text x="404.0" y="132.3" font-family="'Liberation Sans', sans-serif" font-size="9.4" font-weight="bold" text-anchor="middle" transform="rotate(-90 404.0 132.3)" stroke="#000" stroke-width="0.2">Donor T cells</text>
<text x="417.2" y="133" transform="rotate(-90 417.2 133)" text-anchor="middle" font-family="'Liberation Sans', sans-serif" font-size="9.7" font-weight="bold" stroke="#000" stroke-width="0.2">(x10<tspan dy="-3.3" font-size="7">6</tspan><tspan dy="3.3">/spleen)</tspan></text>
<text x="330.7" y="199" transform="rotate(-45 330.7 199)" text-anchor="end" font-family="'Liberation Sans', sans-serif" font-size="8.8" font-weight="bold" stroke="#000" stroke-width="0.2">IL-10<tspan dy="-3.2" font-size="6" letter-spacing="-0.15">-/-</tspan><tspan dy="3.2" dx="-0.5"> B6</tspan></text>
<text x="368.6" y="198.4" font-family="'Liberation Sans', sans-serif" font-size="8.7" font-weight="bold" text-anchor="end" transform="rotate(-45 368.6 198.4)" stroke="#000" stroke-width="0.2">wt B6</text>
<text x="463.2" y="199" transform="rotate(-45 463.2 199)" text-anchor="end" font-family="'Liberation Sans', sans-serif" font-size="8.8" font-weight="bold" stroke="#000" stroke-width="0.2">IL-10<tspan dy="-3.2" font-size="6" letter-spacing="-0.15">-/-</tspan><tspan dy="3.2" dx="-0.5"> B6</tspan></text>
<text x="501.4" y="198.4" font-family="'Liberation Sans', sans-serif" font-size="8.7" font-weight="bold" text-anchor="end" transform="rotate(-45 501.4 198.4)" stroke="#000" stroke-width="0.2">wt B6</text>
<path d="M40.6 276.3V409.8" stroke="#000" stroke-width="1.3" fill="none"/>
<path d="M36.2 409.8H244.5" stroke="#000" stroke-width="1.3" fill="none"/>
<text x="36.0" y="413.3" font-family="'Liberation Sans', sans-serif" font-size="9.9" font-weight="bold" text-anchor="end" letter-spacing="-0.2" stroke="#000" stroke-width="0.2">0</text>
<path d="M36.2 385.5H40.6" stroke="#000" stroke-width="1.3"/>
<text x="36.0" y="389.0" font-family="'Liberation Sans', sans-serif" font-size="9.9" font-weight="bold" text-anchor="end" letter-spacing="-0.2" stroke="#000" stroke-width="0.2">20</text>
<path d="M36.2 361.3H40.6" stroke="#000" stroke-width="1.3"/>
<text x="36.0" y="364.8" font-family="'Liberation Sans', sans-serif" font-size="9.9" font-weight="bold" text-anchor="end" letter-spacing="-0.2" stroke="#000" stroke-width="0.2">40</text>
<path d="M36.2 337.0H40.6" stroke="#000" stroke-width="1.3"/>
<text x="36.0" y="340.5" font-family="'Liberation Sans', sans-serif" font-size="9.9" font-weight="bold" text-anchor="end" letter-spacing="-0.2" stroke="#000" stroke-width="0.2">60</text>
<path d="M36.2 312.8H40.6" stroke="#000" stroke-width="1.3"/>
<text x="36.0" y="316.3" font-family="'Liberation Sans', sans-serif" font-size="9.9" font-weight="bold" text-anchor="end" letter-spacing="-0.2" stroke="#000" stroke-width="0.2">80</text>
<path d="M36.2 288.5H40.6" stroke="#000" stroke-width="1.3"/>
<text x="36.0" y="292.0" font-family="'Liberation Sans', sans-serif" font-size="9.9" font-weight="bold" text-anchor="end" letter-spacing="-0.2" stroke="#000" stroke-width="0.2">100</text>
<path d="M40.6 409.8V413.5" stroke="#000" stroke-width="1.3"/>
<text x="40.9" y="424.6" font-family="'Liberation Sans', sans-serif" font-size="9.7" font-weight="bold" text-anchor="middle" letter-spacing="-0.2" stroke="#000" stroke-width="0.2">0</text>
<path d="M81.3 409.8V413.5" stroke="#000" stroke-width="1.3"/>
<text x="81.6" y="424.6" font-family="'Liberation Sans', sans-serif" font-size="9.7" font-weight="bold" text-anchor="middle" letter-spacing="-0.2" stroke="#000" stroke-width="0.2">10</text>
<path d="M121.9 409.8V413.5" stroke="#000" stroke-width="1.3"/>
<text x="122.2" y="424.6" font-family="'Liberation Sans', sans-serif" font-size="9.7" font-weight="bold" text-anchor="middle" letter-spacing="-0.2" stroke="#000" stroke-width="0.2">20</text>
<path d="M162.6 409.8V413.5" stroke="#000" stroke-width="1.3"/>
<text x="162.9" y="424.6" font-family="'Liberation Sans', sans-serif" font-size="9.7" font-weight="bold" text-anchor="middle" letter-spacing="-0.2" stroke="#000" stroke-width="0.2">30</text>
<path d="M203.2 409.8V413.5" stroke="#000" stroke-width="1.3"/>
<text x="203.5" y="424.6" font-family="'Liberation Sans', sans-serif" font-size="9.7" font-weight="bold" text-anchor="middle" letter-spacing="-0.2" stroke="#000" stroke-width="0.2">40</text>
<path d="M243.9 409.8V413.5" stroke="#000" stroke-width="1.3"/>
<text x="244.2" y="424.6" font-family="'Liberation Sans', sans-serif" font-size="9.7" font-weight="bold" text-anchor="middle" letter-spacing="-0.2" stroke="#000" stroke-width="0.2">50</text>
<path d="M40.6 288.5L134.1 288.5L134.1 301.8L243.9 301.8" stroke="#222" stroke-width="1" fill="none"/>
<path d="M40.6 288.5L150.4 288.5L150.4 308.8L154.4 308.8L154.4 318.8L187.0 318.8L187.0 328.9L223.6 328.9L223.6 339.1L243.9 339.1" stroke="#222" stroke-width="1" fill="none"/>
<path d="M40.6 288.5L113.8 288.5L113.8 308.8L126.0 308.8L126.0 349.1L158.5 349.1L158.5 359.2L207.3 359.2L207.3 369.4L211.4 369.4L211.4 389.5L215.4 389.5L215.4 409.8" stroke="#222" stroke-width="1" fill="none"/>
<rect x="147.9" y="306.3" width="4.9" height="4.9" fill="#000"/>
<rect x="152.0" y="316.4" width="4.9" height="4.9" fill="#000"/>
<rect x="184.5" y="326.4" width="4.9" height="4.9" fill="#000"/>
<rect x="221.1" y="336.6" width="4.9" height="4.9" fill="#000"/>
<rect x="241.4" y="336.6" width="4.9" height="4.9" fill="#000"/>
<circle cx="113.8" cy="308.8" r="2.7" fill="#000"/>
<circle cx="126.0" cy="349.1" r="2.7" fill="#000"/>
<circle cx="158.5" cy="359.2" r="2.7" fill="#000"/>
<circle cx="207.3" cy="369.4" r="2.7" fill="#000"/>
<circle cx="211.4" cy="389.5" r="2.7" fill="#000"/>
<circle cx="215.4" cy="409.8" r="2.7" fill="#000"/>
<circle cx="134.1" cy="301.8" r="2.4" fill="#fff" stroke="#000" stroke-width="0.9"/>
<circle cx="243.9" cy="301.8" r="2.4" fill="#fff" stroke="#000" stroke-width="0.9"/>
<polygon points="239.30,346.10 239.92,347.75 241.68,347.83 240.30,348.92 240.77,350.62 239.30,349.65 237.83,350.62 238.30,348.92 236.92,347.83 238.68,347.75" fill="#999" stroke="#444" stroke-width="0.7" stroke-linejoin="round"/>
<polygon points="245.60,346.10 246.22,347.75 247.98,347.83 246.60,348.92 247.07,350.62 245.60,349.65 244.13,350.62 244.60,348.92 243.22,347.83 244.98,347.75" fill="#999" stroke="#444" stroke-width="0.7" stroke-linejoin="round"/>
<text x="12.2" y="342.8" font-family="'Liberation Sans', sans-serif" font-size="11" font-weight="bold" text-anchor="middle" transform="rotate(-90 12.2 342.8)" stroke="#000" stroke-width="0.2">Percent survival</text>
<text x="142.8" y="439.7" font-family="'Liberation Sans', sans-serif" font-size="13.6" font-weight="bold" text-anchor="middle" >Days after BMT</text>
<path d="M318.9 277.8V409.9" stroke="#000" stroke-width="1.3" fill="none"/>
<path d="M314.5 409.9H520" stroke="#000" stroke-width="1.3" fill="none"/>
<text x="313.7" y="413.1" font-family="'Liberation Sans', sans-serif" font-size="9.2" font-weight="bold" text-anchor="end" stroke="#000" stroke-width="0.2">0</text>
<path d="M314.5 391.1H318.9" stroke="#000" stroke-width="1.3"/>
<text x="313.7" y="394.3" font-family="'Liberation Sans', sans-serif" font-size="9.2" font-weight="bold" text-anchor="end" stroke="#000" stroke-width="0.2">1</text>
<path d="M314.5 372.3H318.9" stroke="#000" stroke-width="1.3"/>
<text x="313.7" y="375.5" font-family="'Liberation Sans', sans-serif" font-size="9.2" font-weight="bold" text-anchor="end" stroke="#000" stroke-width="0.2">2</text>
<path d="M314.5 353.6H318.9" stroke="#000" stroke-width="1.3"/>
<text x="313.7" y="356.8" font-family="'Liberation Sans', sans-serif" font-size="9.2" font-weight="bold" text-anchor="end" stroke="#000" stroke-width="0.2">3</text>
<path d="M314.5 334.8H318.9" stroke="#000" stroke-width="1.3"/>
<text x="313.7" y="338.0" font-family="'Liberation Sans', sans-serif" font-size="9.2" font-weight="bold" text-anchor="end" stroke="#000" stroke-width="0.2">4</text>
<path d="M314.5 316.0H318.9" stroke="#000" stroke-width="1.3"/>
<text x="313.7" y="319.2" font-family="'Liberation Sans', sans-serif" font-size="9.2" font-weight="bold" text-anchor="end" stroke="#000" stroke-width="0.2">5</text>
<path d="M314.5 297.2H318.9" stroke="#000" stroke-width="1.3"/>
<text x="313.7" y="300.4" font-family="'Liberation Sans', sans-serif" font-size="9.2" font-weight="bold" text-anchor="end" stroke="#000" stroke-width="0.2">6</text>
<path d="M314.5 278.4H318.9" stroke="#000" stroke-width="1.3"/>
<text x="313.7" y="281.6" font-family="'Liberation Sans', sans-serif" font-size="9.2" font-weight="bold" text-anchor="end" stroke="#000" stroke-width="0.2">7</text>
<path d="M318.9 409.9V413.59999999999997" stroke="#000" stroke-width="1.3"/>
<text x="319.2" y="424.0" font-family="'Liberation Sans', sans-serif" font-size="9.6" font-weight="bold" text-anchor="middle" letter-spacing="-0.2" stroke="#000" stroke-width="0.2">0</text>
<path d="M363.5 409.9V413.59999999999997" stroke="#000" stroke-width="1.3"/>
<text x="363.8" y="424.0" font-family="'Liberation Sans', sans-serif" font-size="9.6" font-weight="bold" text-anchor="middle" letter-spacing="-0.2" stroke="#000" stroke-width="0.2">10</text>
<path d="M408.1 409.9V413.59999999999997" stroke="#000" stroke-width="1.3"/>
<text x="408.4" y="424.0" font-family="'Liberation Sans', sans-serif" font-size="9.6" font-weight="bold" text-anchor="middle" letter-spacing="-0.2" stroke="#000" stroke-width="0.2">20</text>
<path d="M452.7 409.9V413.59999999999997" stroke="#000" stroke-width="1.3"/>
<text x="453.0" y="424.0" font-family="'Liberation Sans', sans-serif" font-size="9.6" font-weight="bold" text-anchor="middle" letter-spacing="-0.2" stroke="#000" stroke-width="0.2">30</text>
<path d="M497.3 409.9V413.59999999999997" stroke="#000" stroke-width="1.3"/>
<text x="497.6" y="424.0" font-family="'Liberation Sans', sans-serif" font-size="9.6" font-weight="bold" text-anchor="middle" letter-spacing="-0.2" stroke="#000" stroke-width="0.2">40</text>
<path d="M318.9 409.9L350.1 378.5L381.3 380.2L412.6 382.9L443.8 399.0L475.0 399.0L506.2 395.9" stroke="#111" stroke-width="1.1" fill="none"/>
<path d="M350.1 374.8V382.3M347.1 374.8h6M347.1 382.3h6" stroke="#111" stroke-width="1" fill="none"/>
<path d="M381.3 371.4V389.1M378.3 371.4h6M378.3 389.1h6" stroke="#111" stroke-width="1" fill="none"/>
<path d="M412.6 369.9V395.8M409.6 369.9h6M409.6 395.8h6" stroke="#111" stroke-width="1" fill="none"/>
<path d="M443.8 391.7V406.3M440.8 391.7h6M440.8 406.3h6" stroke="#111" stroke-width="1" fill="none"/>
<path d="M475.0 391.7V406.3M472.0 391.7h6M472.0 406.3h6" stroke="#111" stroke-width="1" fill="none"/>
<path d="M506.2 384.6V407.2M503.2 384.6h6M503.2 407.2h6" stroke="#111" stroke-width="1" fill="none"/>
<circle cx="318.9" cy="409.9" r="2.4" fill="#fff" stroke="#000" stroke-width="0.9"/>
<circle cx="350.1" cy="378.5" r="2.4" fill="#fff" stroke="#000" stroke-width="0.9"/>
<circle cx="381.3" cy="380.2" r="2.4" fill="#fff" stroke="#000" stroke-width="0.9"/>
<circle cx="412.6" cy="382.9" r="2.4" fill="#fff" stroke="#000" stroke-width="0.9"/>
<circle cx="443.8" cy="399.0" r="2.4" fill="#fff" stroke="#000" stroke-width="0.9"/>
<circle cx="475.0" cy="399.0" r="2.4" fill="#fff" stroke="#000" stroke-width="0.9"/>
<circle cx="506.2" cy="395.9" r="2.4" fill="#fff" stroke="#000" stroke-width="0.9"/>
<path d="M318.9 409.9L350.1 354.5L381.3 339.9L412.6 322.2L443.8 335.7L475.0 316.0L506.2 293.7" stroke="#111" stroke-width="1.1" fill="none"/>
<path d="M350.1 352.2V356.8M347.1 352.2h6M347.1 356.8h6" stroke="#111" stroke-width="1" fill="none"/>
<path d="M381.3 333.8V345.9M378.3 333.8h6M378.3 345.9h6" stroke="#111" stroke-width="1" fill="none"/>
<path d="M412.6 309.6V334.8M409.6 309.6h6M409.6 334.8h6" stroke="#111" stroke-width="1" fill="none"/>
<path d="M443.8 326.3V345.1M440.8 326.3h6M440.8 345.1h6" stroke="#111" stroke-width="1" fill="none"/>
<path d="M475.0 310.4V321.6M472.0 310.4h6M472.0 321.6h6" stroke="#111" stroke-width="1" fill="none"/>
<path d="M506.2 286.7V300.6M503.2 286.7h6M503.2 300.6h6" stroke="#111" stroke-width="1" fill="none"/>
<circle cx="318.9" cy="409.9" r="2.7" fill="#000"/>
<circle cx="350.1" cy="354.5" r="2.7" fill="#000"/>
<circle cx="381.3" cy="339.9" r="2.7" fill="#000"/>
<circle cx="412.6" cy="322.2" r="2.7" fill="#000"/>
<circle cx="443.8" cy="335.7" r="2.7" fill="#000"/>
<circle cx="475.0" cy="316.0" r="2.7" fill="#000"/>
<circle cx="506.2" cy="293.7" r="2.7" fill="#000"/>
<path d="M318.9 409.9L350.1 354.9L381.3 359.0L412.6 350.6L443.8 335.7L475.0 351.5L506.2 367.6" stroke="#111" stroke-width="1.1" fill="none"/>
<path d="M350.1 353.0V356.8M347.1 353.0h6M347.1 356.8h6" stroke="#111" stroke-width="1" fill="none"/>
<path d="M381.3 357.5V360.5M378.3 357.5h6M378.3 360.5h6" stroke="#111" stroke-width="1" fill="none"/>
<path d="M412.6 345.7V355.4M409.6 345.7h6M409.6 355.4h6" stroke="#111" stroke-width="1" fill="none"/>
<path d="M443.8 326.3V345.1M440.8 326.3h6M440.8 345.1h6" stroke="#111" stroke-width="1" fill="none"/>
<path d="M475.0 343.6V359.4M472.0 343.6h6M472.0 359.4h6" stroke="#111" stroke-width="1" fill="none"/>
<path d="M506.2 362.9V372.3M503.2 362.9h6M503.2 372.3h6" stroke="#111" stroke-width="1" fill="none"/>
<rect x="316.4" y="407.4" width="4.9" height="4.9" fill="#000"/>
<rect x="347.7" y="352.4" width="4.9" height="4.9" fill="#000"/>
<rect x="378.9" y="356.6" width="4.9" height="4.9" fill="#000"/>
<rect x="410.1" y="348.1" width="4.9" height="4.9" fill="#000"/>
<rect x="441.3" y="333.3" width="4.9" height="4.9" fill="#000"/>
<rect x="472.6" y="349.0" width="4.9" height="4.9" fill="#000"/>
<rect x="503.8" y="365.2" width="4.9" height="4.9" fill="#000"/>
<circle cx="318.9" cy="409.9" r="2.7" fill="#000"/>
<polygon points="381.90,326.00 382.66,327.65 384.47,327.87 383.13,329.10 383.49,330.88 381.90,330.00 380.31,330.88 380.67,329.10 379.33,327.87 381.14,327.65" fill="#000"/>
<polygon points="475.90,303.20 476.66,304.85 478.47,305.07 477.13,306.30 477.49,308.08 475.90,307.20 474.31,308.08 474.67,306.30 473.33,305.07 475.14,304.85" fill="#000"/>
<polygon points="504.60,279.60 505.36,281.25 507.17,281.47 505.83,282.70 506.19,284.48 504.60,283.60 503.01,284.48 503.37,282.70 502.03,281.47 503.84,281.25" fill="#000"/>
<polygon points="509.40,279.60 510.16,281.25 511.97,281.47 510.63,282.70 510.99,284.48 509.40,283.60 507.81,284.48 508.17,282.70 506.83,281.47 508.64,281.25" fill="#000"/>
<text x="293.8" y="344.8" font-family="'Liberation Sans', sans-serif" font-size="9.7" font-weight="bold" text-anchor="middle" transform="rotate(-90 293.8 344.8)" stroke="#000" stroke-width="0.2">Clinical Score</text>
<text x="427.7" y="439.5" font-family="'Liberation Sans', sans-serif" font-size="13.5" font-weight="bold" text-anchor="middle" >Days after BMT</text>
<rect x="335.4" y="245.3" width="135.1" height="54.4" fill="#fff" stroke="#222" stroke-width="0.9"/>
<path d="M341 254.7H361" stroke="#111" stroke-width="0.9"/>
<rect x="348.2" y="252.2" width="4.9" height="4.9" fill="#000"/>
<path d="M341 269.9H361" stroke="#111" stroke-width="0.9"/>
<circle cx="350.6" cy="269.9" r="2.7" fill="#000"/>
<path d="M341 286.7H361" stroke="#111" stroke-width="0.9"/>
<circle cx="350.6" cy="286.7" r="2.4" fill="#fff" stroke="#000" stroke-width="0.9"/>
<text x="367.2" y="258.7" font-family="'Liberation Sans', sans-serif" font-size="10.7">Balb/c</text>
<path d="M401.3 255.2H411" stroke="#111" stroke-width="0.9" fill="none"/><path d="M412 255.2l-3.6 -2.1l1 2.1l-1 2.1z" fill="#111"/>
<text x="416" y="258.7" font-family="'Liberation Sans', sans-serif" font-size="10.7">B6 wt</text>
<text x="367.2" y="277" font-family="'Liberation Sans', sans-serif" font-size="10.7">Balb/c</text>
<path d="M401.3 273.4H411" stroke="#111" stroke-width="0.9" fill="none"/><path d="M412 273.4l-3.6 -2.1l1 2.1l-1 2.1z" fill="#111"/>
<text x="416" y="277" font-family="'Liberation Sans', sans-serif" font-size="10.7">B6 IL-10</text>
<text x="457.3" y="272.4" font-family="'Liberation Sans', sans-serif" font-size="9">-/-</text>
<text x="367.2" y="293.3" font-family="'Liberation Sans', sans-serif" font-size="10.7">B6</text>
<path d="M383.8 289.7H393" stroke="#111" stroke-width="0.9" fill="none"/><path d="M394 289.7l-3.6 -2.1l1 2.1l-1 2.1z" fill="#111"/>
<text x="398" y="293.3" font-family="'Liberation Sans', sans-serif" font-size="10.7">B6 IL-10</text>
<text x="439.3" y="288.7" font-family="'Liberation Sans', sans-serif" font-size="9">-/-</text>
</svg></body></html>
